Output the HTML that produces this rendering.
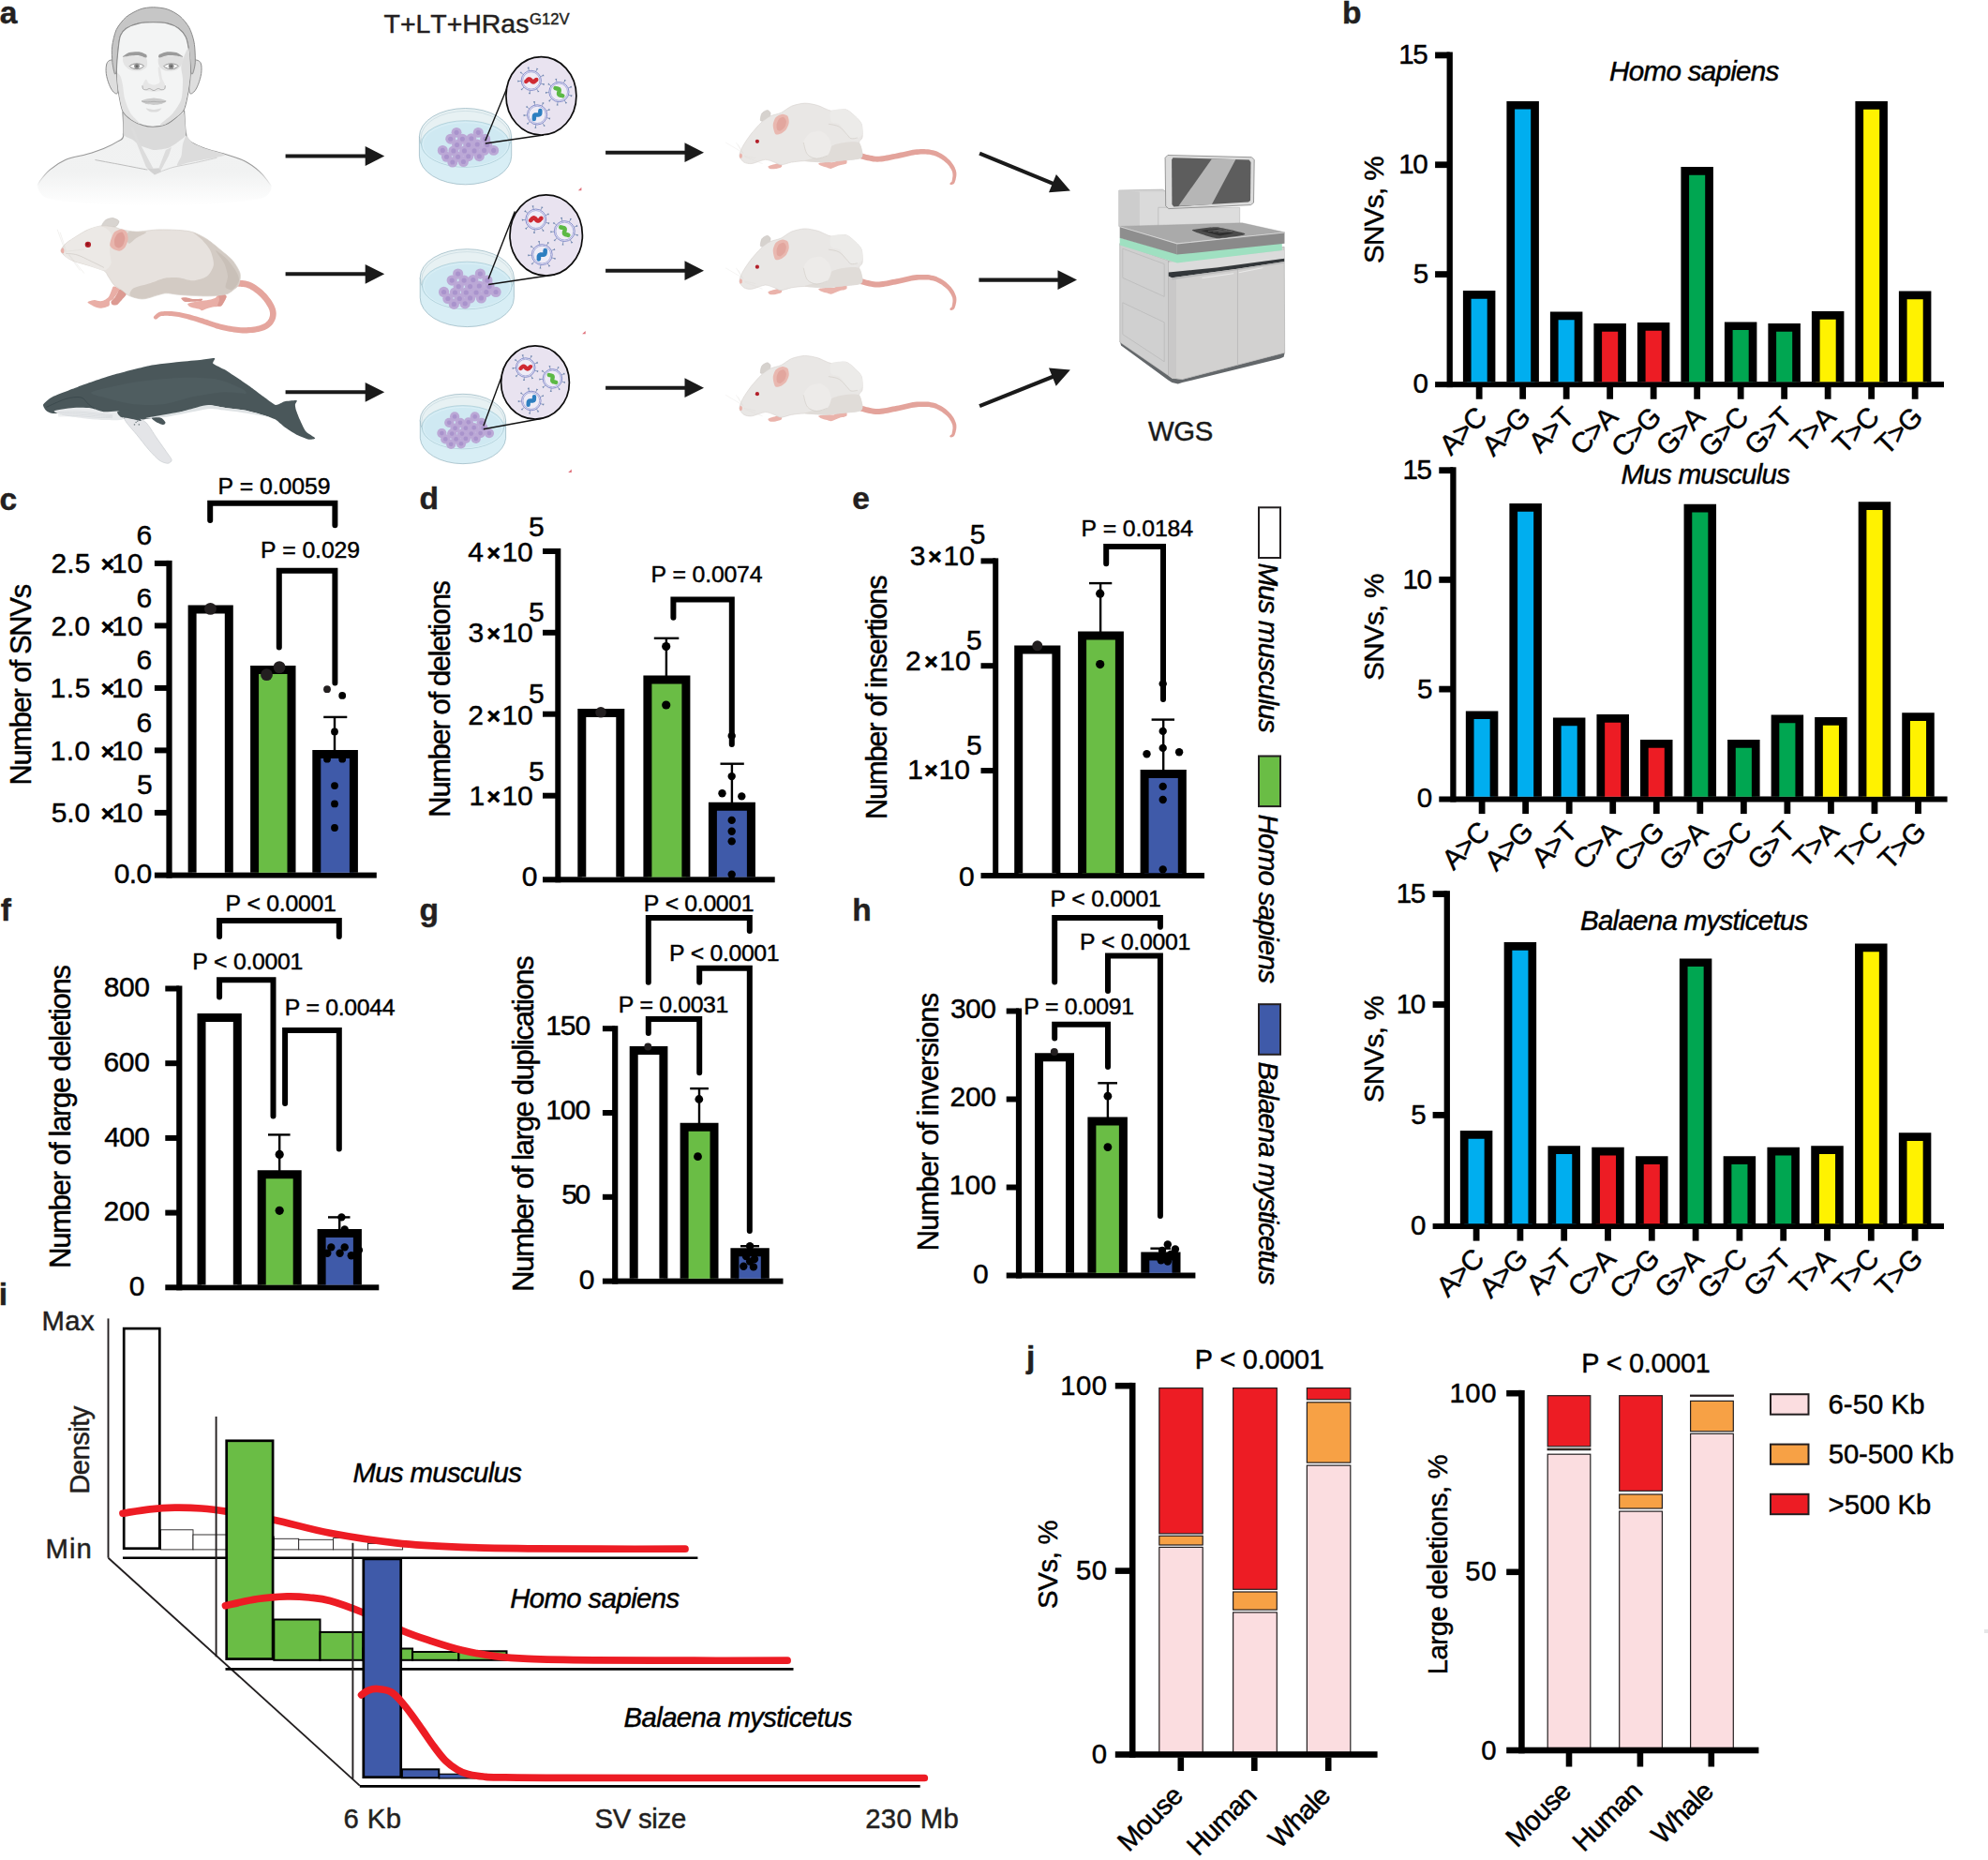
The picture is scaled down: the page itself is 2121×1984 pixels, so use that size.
<!DOCTYPE html>
<html><head><meta charset="utf-8"><title>Figure</title>
<style>
html,body{margin:0;padding:0;background:#fff;}
svg{display:block;}
text{font-family:"Liberation Sans",Arial,sans-serif;white-space:pre;font-kerning:none;}
</style></head><body>
<svg width="2121" height="1984" viewBox="0 0 2121 1984">
<rect width="2121" height="1984" fill="#fff"/>
<text x="-0.28" y="24.70" font-size="33.50" fill="#231f20" stroke="#231f20" stroke-width="0.45" style="font-weight:bold;">a</text>
<text x="409.56" y="35.20" font-size="28.50" fill="#231f20" stroke="#231f20" stroke-width="0.45" style="letter-spacing:-0.044px;">T+LT+HRas</text>
<text x="564.97" y="26.40" font-size="16.60" fill="#231f20" stroke="#231f20" stroke-width="0.45" style="letter-spacing:0.020px;">G12V</text>
<defs><linearGradient id="hb" x1="0" y1="0" x2="0" y2="1"><stop offset="0" stop-color="#f0f1f1"/><stop offset="0.55" stop-color="#f1f2f2"/><stop offset="1" stop-color="#ffffff"/></linearGradient><linearGradient id="hs" x1="0" y1="0" x2="0" y2="1"><stop offset="0" stop-color="#8f8f8f"/><stop offset="0.75" stop-color="#9a9a9a"/><stop offset="1" stop-color="#ffffff"/></linearGradient></defs>
<path d="M132.0 141.8C127.5 142.7 132.2 145.9 131.4 147.1C130.5 148.3 128.4 149.4 125.6 150.9C122.9 152.4 115.0 156.6 110.5 158.4C106.1 160.3 97.9 162.9 92.4 164.5C87.0 166.1 75.0 168.3 69.8 170.5C64.6 172.7 56.8 178.1 53.2 181.1C49.6 184.1 44.4 190.7 42.6 193.1C40.9 195.6 38.9 196.8 39.9 199.2C40.9 201.6 42.8 208.8 50.2 211.3C57.6 213.7 80.2 216.2 95.4 217.3C110.7 218.4 146.8 219.6 164.9 219.6C183.0 219.6 216.0 218.4 231.3 217.3C246.5 216.2 271.7 213.6 279.5 211.3C287.4 208.9 289.0 202.4 289.8 199.9C290.6 197.5 287.4 195.5 285.6 193.1C283.8 190.8 279.7 185.4 276.5 182.6C273.3 179.8 266.3 174.4 261.4 172.0C256.6 169.6 245.9 166.3 240.3 164.5C234.7 162.7 223.8 160.1 219.2 158.4C214.6 156.8 208.2 153.9 205.6 152.4C203.0 150.9 200.5 148.5 199.6 147.1C198.6 145.7 203.1 142.7 198.5 141.8C193.9 140.9 173.7 140.3 164.9 140.3C156.0 140.3 136.4 140.9 132.0 141.8Z" fill="url(#hb)" />
<path d="M130.9 118.5L131.8 144.9L199.0 144.9L196.7 116.9Z" fill="#f0f1f1" />
<path d="M39.9 199.2C40.4 198.2 40.4 196.2 42.6 193.1C44.8 190.1 48.7 184.8 53.2 181.1C57.7 177.3 63.3 173.3 69.8 170.5C76.3 167.7 85.6 166.5 92.4 164.5C99.2 162.5 105.0 160.7 110.5 158.4C116.1 156.2 122.1 153.2 125.6 150.9C129.1 148.6 130.8 150.1 131.7 144.9C132.5 139.6 131.0 123.5 130.9 119.2" fill="none" stroke="url(#hs)" stroke-width="1.10" />
<path d="M289.8 199.9C289.1 198.8 287.8 196.0 285.6 193.1C283.4 190.3 280.6 186.1 276.5 182.6C272.5 179.1 267.5 175.0 261.4 172.0C255.4 169.0 247.4 166.7 240.3 164.5C233.3 162.2 225.0 160.5 219.2 158.4C213.4 156.4 209.0 154.7 205.6 152.4C202.2 150.1 200.3 150.6 198.8 144.9C197.3 139.1 196.9 122.2 196.6 117.7" fill="none" stroke="url(#hs)" stroke-width="1.10" />
<path d="M132.0 122.2C131.3 123.5 131.8 141.9 132.6 144.1C133.3 146.3 139.3 147.7 140.7 148.6C142.2 149.6 147.8 154.5 149.8 155.4C151.8 156.4 162.3 159.8 164.9 160.0C167.4 160.1 177.8 158.4 180.0 157.7C182.1 156.9 189.0 152.0 190.5 150.9C192.0 149.8 197.6 146.6 198.1 144.1C198.5 141.6 197.0 122.2 196.2 120.7C195.5 119.2 190.6 124.9 189.0 126.0C187.4 127.1 179.1 132.7 176.9 133.5C174.8 134.4 165.4 135.7 163.4 135.8C161.3 135.9 154.7 134.9 152.8 134.3C150.9 133.7 142.5 130.0 140.7 129.0C139.0 128.0 132.6 121.0 132.0 122.2Z" fill="#dadada" />
<path d="M198.8 144.9C200.0 144.7 203.2 150.8 205.6 152.4C208.0 154.0 215.1 156.9 219.2 158.4C223.2 159.9 240.7 163.8 240.3 165.2C240.0 166.6 220.7 169.5 216.2 170.5C211.6 171.5 204.2 172.8 201.1 173.5C197.9 174.2 189.9 177.4 189.0 176.6C188.1 175.7 192.8 168.6 193.5 166.0C194.2 163.3 194.4 156.4 195.0 153.9C195.7 151.5 197.6 145.0 198.8 144.9Z" fill="#dcdcdc" />
<path d="M139.2 135.8L145.2 150.9L155.8 178.1L164.9 185.9L170.9 183.3L180.0 166.0L183.0 156.9L176.9 160.0L169.4 179.6L163.4 179.6L149.8 153.9L142.2 135.8Z" fill="#dcdcdc" />
<path d="M156.6 179.6L164.9 186.4L172.4 183.3L169.4 179.6L163.4 180.3Z" fill="#d2d2d2" />
<path d="M101.5 170.5C105.5 171.3 118.3 173.7 125.6 175.0C132.9 176.4 140.0 177.8 145.2 178.8C150.5 179.8 155.3 180.7 157.3 181.1" fill="none" stroke="#bdbdbd" stroke-width="1.00" />
<path d="M172.4 182.6C174.7 181.8 180.0 179.6 186.0 178.1C192.0 176.6 201.1 175.2 208.6 173.5C216.2 171.9 227.5 169.1 231.3 168.3" fill="none" stroke="#cfcfcf" stroke-width="1.00" />
<path d="M124.1 66.4C122.7 63.0 119.8 63.9 118.1 64.1C116.4 64.4 114.7 65.5 113.9 67.9C113.1 70.3 112.8 74.7 113.3 78.5C113.7 82.2 115.3 87.3 116.6 90.5C117.9 93.8 119.6 96.7 121.1 98.1C122.6 99.5 124.7 101.1 125.6 98.8C126.5 96.6 126.6 89.9 126.4 84.5C126.1 79.1 125.5 69.8 124.1 66.4Z" fill="#dedede" stroke="#8c8c8c" stroke-width="1.00" />
<path d="M203.3 66.4C204.7 63.0 208.0 63.9 209.8 64.1C211.7 64.4 213.6 65.5 214.4 67.9C215.2 70.3 215.2 74.7 214.7 78.5C214.2 82.2 212.6 87.3 211.3 90.5C210.0 93.8 208.3 96.7 206.8 98.1C205.3 99.5 203.1 101.1 202.3 98.8C201.5 96.6 201.7 89.9 201.8 84.5C202.0 79.1 202.0 69.8 203.3 66.4Z" fill="#dedede" stroke="#8c8c8c" stroke-width="1.00" />
<path d="M119.9 66.4C119.5 62.6 119.0 54.4 119.6 49.8C120.2 45.2 122.1 35.9 124.1 31.7C126.1 27.5 131.3 21.0 134.7 18.1C138.1 15.2 145.9 11.2 149.8 9.8C153.6 8.4 159.5 7.8 163.4 7.8C167.2 7.8 174.6 8.5 178.4 9.8C182.3 11.1 188.9 14.7 192.0 17.4C195.1 20.0 199.8 25.7 201.8 29.4C203.8 33.1 206.2 40.3 207.1 45.3C208.0 50.2 208.5 62.0 208.3 66.4C208.1 70.8 206.3 77.3 205.6 78.5C204.9 79.7 203.9 79.1 203.3 75.4C202.7 71.8 201.8 56.1 201.1 51.3C200.4 46.5 199.5 42.1 198.1 39.2C196.7 36.4 193.1 32.1 190.5 30.2C187.9 28.3 182.1 25.7 178.4 24.9C174.8 24.1 167.4 23.8 163.4 23.8C159.3 23.8 152.1 24.1 148.3 24.9C144.4 25.7 137.3 28.5 134.7 30.2C132.1 31.9 129.8 35.1 128.6 37.7C127.5 40.3 126.9 44.8 126.4 49.8C125.8 54.8 125.0 71.6 124.4 75.4C123.9 79.3 122.9 79.7 122.3 78.5C121.7 77.3 120.3 70.2 119.9 66.4Z" fill="#c6c6c6" stroke="#8c8c8c" stroke-width="1.00" />
<path d="M124.4 75.4C124.5 69.4 125.8 54.8 126.4 49.8C126.9 44.8 127.5 40.3 128.6 37.7C129.8 35.1 132.1 31.9 134.7 30.2C137.3 28.5 144.4 25.7 148.3 24.9C152.1 24.1 159.3 23.8 163.4 23.8C167.4 23.8 174.8 24.1 178.4 24.9C182.1 25.7 187.9 28.3 190.5 30.2C193.1 32.1 196.7 36.4 198.1 39.2C199.5 42.1 200.4 46.5 201.1 51.3C201.8 56.1 203.3 69.4 203.3 75.4C203.3 81.5 202.0 91.1 201.1 96.6C200.2 102.0 198.2 112.5 196.6 116.2C194.9 119.9 191.6 122.3 189.0 124.5C186.4 126.7 180.4 131.4 176.9 132.8C173.5 134.2 166.6 135.1 163.4 135.2C160.1 135.3 155.8 134.6 152.8 133.7C149.8 132.8 143.6 130.3 140.7 128.3C137.8 126.2 132.9 122.9 130.9 118.5C128.9 114.0 126.8 100.8 125.9 95.1C125.1 89.3 124.4 81.5 124.4 75.4Z" fill="#f3f4f4" stroke="#8c8c8c" stroke-width="1.10" />
<path d="M201.1 51.3C202.3 52.1 203.1 69.4 203.0 75.4C203.0 81.5 201.7 91.2 200.8 96.6C199.9 102.0 197.8 112.2 196.2 115.9C194.7 119.6 191.6 121.9 189.0 124.0C186.4 126.2 179.3 131.0 176.9 132.2C174.5 133.4 169.9 134.3 170.9 132.8C171.9 131.3 181.5 124.3 184.5 120.7C187.5 117.1 192.1 110.5 193.5 105.6C194.9 100.8 195.0 89.3 195.0 84.5C195.0 79.7 192.7 73.8 193.5 69.4C194.3 65.0 199.8 50.5 201.1 51.3Z" fill="#dddddd" />
<path d="M125.0 78.5C124.7 80.5 125.6 91.3 126.4 96.6C127.2 101.8 129.0 113.6 130.9 117.7C132.8 121.8 138.2 125.7 140.7 127.7C143.2 129.6 150.0 133.1 149.8 132.2C149.6 131.3 141.4 124.3 139.2 120.7C137.0 117.2 134.3 109.7 133.2 105.6C132.1 101.6 131.5 93.8 130.9 90.5C130.3 87.3 129.4 83.1 128.6 81.5C127.9 79.9 125.3 76.5 125.0 78.5Z" fill="#e2e2e2" />
<path d="M131.7 61.1C133.2 59.9 140.5 59.5 143.7 59.6C147.0 59.7 154.1 60.4 155.8 61.9C157.5 63.4 157.4 69.1 156.6 70.9C155.8 72.7 152.1 74.9 149.8 75.4C147.5 76.0 141.5 75.6 139.2 74.7C136.9 73.8 133.4 70.5 132.4 68.7C131.4 66.8 130.2 62.3 131.7 61.1Z" fill="#e4e4e4" />
<path d="M169.4 61.9C170.9 60.4 178.0 59.7 181.5 59.6C184.9 59.5 193.4 59.8 195.0 61.1C196.7 62.4 194.5 67.6 193.5 69.4C192.5 71.2 189.7 73.9 187.5 74.7C185.3 75.5 179.2 76.0 176.9 75.4C174.6 74.9 171.1 72.7 170.1 70.9C169.1 69.1 167.9 63.4 169.4 61.9Z" fill="#e0e0e0" />
<path d="M130.9 60.7C130.7 60.2 135.4 56.9 137.7 56.1C140.0 55.4 145.8 55.0 148.3 55.2C150.7 55.5 154.8 57.3 155.8 58.1C156.9 58.9 157.1 61.4 156.1 61.6C155.1 61.7 150.5 59.4 148.3 59.2C146.0 58.9 141.5 59.4 139.2 59.6C136.9 59.8 131.1 61.1 130.9 60.7Z" fill="#9b9b9b" />
<path d="M169.7 61.6C168.6 61.4 169.0 58.9 170.1 58.1C171.3 57.3 176.0 55.5 178.4 55.2C180.9 55.0 186.0 55.4 188.3 56.1C190.5 56.9 195.4 60.2 195.3 60.7C195.2 61.1 189.8 59.8 187.5 59.6C185.2 59.4 180.8 58.9 178.4 59.2C176.1 59.4 170.8 61.7 169.7 61.6Z" fill="#9b9b9b" />
<path d="M138.2 70.6C138.2 69.9 141.5 68.5 143.0 68.2C144.4 67.9 147.6 67.9 149.0 68.2C150.4 68.5 153.5 69.6 153.5 70.3C153.5 71.0 150.4 72.9 149.0 73.3C147.6 73.7 144.4 73.7 143.0 73.3C141.5 73.0 138.2 71.3 138.2 70.6Z" fill="#f8f8f8" stroke="#8a8a8a" stroke-width="0.90" />
<circle cx="146.00" cy="70.62" r="2.87" fill="#8e8e8e" />
<circle cx="146.00" cy="70.62" r="1.21" fill="#5f5f5f" />
<path d="M174.8 70.6C174.8 69.9 178.2 68.5 179.6 68.2C181.1 67.9 184.3 67.9 185.7 68.2C187.1 68.5 190.2 69.6 190.2 70.3C190.2 71.0 187.1 72.9 185.7 73.3C184.3 73.7 181.1 73.7 179.6 73.3C178.2 73.0 174.8 71.3 174.8 70.6Z" fill="#f8f8f8" stroke="#8a8a8a" stroke-width="0.90" />
<circle cx="182.67" cy="70.62" r="2.87" fill="#8e8e8e" />
<circle cx="182.67" cy="70.62" r="1.21" fill="#5f5f5f" />
<path d="M155.8 84.5C155.0 84.6 153.1 88.5 152.5 89.8C151.9 91.1 151.0 93.4 151.6 94.3C152.1 95.3 154.9 96.4 156.6 96.9C158.2 97.3 162.1 97.8 164.1 97.8C166.1 97.8 170.0 97.3 171.7 96.9C173.3 96.4 176.1 95.3 176.6 94.3C177.2 93.4 176.3 91.1 175.7 89.8C175.2 88.5 173.3 84.6 172.4 84.5C171.6 84.4 170.5 88.2 169.4 89.0C168.3 89.8 165.5 90.5 164.1 90.5C162.7 90.5 159.9 89.8 158.8 89.0C157.7 88.2 156.7 84.4 155.8 84.5Z" fill="#e6e6e6" />
<path d="M168.6 72.4C168.8 71.2 170.3 70.8 170.9 72.4C171.5 74.0 172.6 82.2 173.2 84.5C173.8 86.8 175.6 89.2 175.4 89.8C175.2 90.4 172.4 90.1 171.7 89.0C170.9 87.9 170.1 83.7 169.7 81.5C169.3 79.3 168.5 73.6 168.6 72.4Z" fill="#e6e6e6" />
<path d="M151.9 91.3C152.0 91.9 152.1 94.3 152.8 95.1C153.5 95.8 155.1 95.8 156.3 95.7C157.4 95.6 158.3 94.3 159.6 94.5C160.9 94.6 162.6 96.6 164.1 96.6C165.6 96.6 167.3 94.6 168.6 94.5C169.9 94.3 170.8 95.6 172.0 95.7C173.1 95.8 174.7 95.8 175.4 95.1C176.2 94.3 176.2 91.9 176.3 91.3" fill="none" stroke="#a2a2a2" stroke-width="0.80" />
<path d="M151.0 107.9C151.0 107.2 154.8 106.1 156.6 105.6C158.3 105.2 162.1 104.4 164.1 104.4C166.1 104.4 169.9 105.2 171.7 105.6C173.4 106.1 177.2 107.2 177.2 107.9C177.2 108.6 173.4 110.5 171.7 111.1C169.9 111.6 166.1 112.0 164.1 112.0C162.1 112.0 158.3 111.6 156.6 111.1C154.8 110.5 151.0 108.6 151.0 107.9Z" fill="#cbcbcb" />
<path d="M151.0 107.9C152.0 108.1 155.1 108.9 157.3 108.9C159.5 109.0 161.8 108.3 164.1 108.3C166.4 108.3 168.7 109.0 170.9 108.9C173.1 108.9 176.2 108.1 177.2 107.9" fill="none" stroke="#a7a7a7" stroke-width="0.80" />
<path d="M155.8 115.4C156.4 115.2 161.9 116.9 164.1 116.9C166.3 116.9 171.8 115.2 172.4 115.4C173.0 115.7 169.7 118.4 168.6 118.9C167.5 119.5 165.3 119.5 164.1 119.5C162.9 119.5 160.7 119.5 159.6 118.9C158.5 118.4 155.2 115.7 155.8 115.4Z" fill="#dcdcdc" />
<path d="M251.6 305.4L252.6 305.5L253.8 305.6L255.1 305.7L256.5 305.7L257.9 305.9L259.4 306.0L260.9 306.2L262.4 306.5L263.7 306.9L265.0 307.4L266.3 308.1L267.7 308.9L269.2 309.8L270.7 310.8L272.2 311.9L273.7 313.0L275.1 314.2L276.5 315.5L277.8 316.7L279.0 317.9L280.1 319.2L281.2 320.5L282.3 322.0L283.4 323.4L284.3 324.9L285.2 326.4L286.0 327.8L286.7 329.2L287.2 330.5L287.6 331.6L287.8 332.7L288.0 333.7L288.0 334.7L288.0 335.7L287.9 336.7L287.7 337.6L287.4 338.5L287.1 339.4L286.7 340.3L286.2 341.0L285.7 341.8L285.2 342.4L284.5 343.1L283.8 343.8L283.0 344.4L282.1 345.0L281.1 345.5L280.0 346.1L278.8 346.6L277.5 347.0L276.0 347.4L274.5 347.8L272.7 348.2L270.9 348.5L269.0 348.7L267.0 348.9L265.0 349.1L263.0 349.2L260.9 349.3L258.9 349.2L256.8 349.2L254.7 349.0L252.6 348.8L250.4 348.5L248.1 348.2L245.9 347.8L243.6 347.4L241.4 347.0L239.1 346.5L236.9 346.0L234.7 345.4L232.5 344.8L230.3 344.2L228.0 343.4L225.8 342.7L223.5 341.9L221.2 341.1L218.9 340.4L216.6 339.6L214.3 338.9L212.0 338.3L209.7 337.6L207.4 336.9L205.0 336.3L202.7 335.6L200.3 335.0L198.0 334.4L195.7 333.9L193.5 333.4L191.3 333.0L189.2 332.7L187.1 332.5L185.0 332.3L183.0 332.1L181.0 332.0L179.1 332.0L177.2 332.0L175.5 332.0L173.9 332.2L172.5 332.3L171.1 332.6L169.8 333.0L168.7 333.6L167.7 334.2L166.9 334.8L166.2 335.4L165.7 336.0L165.3 336.4L165.0 336.7L164.8 336.9L167.2 340.3L167.7 340.0L168.2 339.5L168.7 339.1L169.2 338.7L169.6 338.3L170.2 337.9L170.8 337.6L171.4 337.3L172.2 337.1L173.1 337.0L174.3 336.9L175.7 336.8L177.3 336.8L179.0 336.8L180.7 336.9L182.6 337.1L184.5 337.2L186.5 337.5L188.5 337.7L190.5 338.1L192.5 338.5L194.6 338.9L196.7 339.5L198.9 340.1L201.2 340.7L203.5 341.4L205.8 342.1L208.2 342.8L210.5 343.5L212.7 344.2L215.0 344.9L217.2 345.7L219.4 346.4L221.7 347.2L223.9 348.0L226.2 348.8L228.5 349.6L230.8 350.4L233.1 351.1L235.5 351.7L237.8 352.2L240.1 352.7L242.5 353.2L244.8 353.7L247.2 354.1L249.5 354.5L251.9 354.8L254.2 355.0L256.5 355.2L258.7 355.4L260.9 355.4L263.2 355.4L265.4 355.3L267.6 355.1L269.7 354.9L271.8 354.7L273.9 354.3L275.8 354.0L277.6 353.5L279.4 353.1L281.0 352.5L282.5 351.9L284.0 351.2L285.4 350.5L286.6 349.7L287.8 348.8L289.0 347.8L290.0 346.8L290.9 345.7L291.7 344.6L292.4 343.3L293.1 342.0L293.6 340.7L294.1 339.3L294.4 337.8L294.6 336.3L294.7 334.7L294.6 333.1L294.4 331.5L294.0 329.8L293.5 328.2L292.8 326.5L292.0 324.8L291.0 323.1L290.0 321.3L288.9 319.6L287.7 318.0L286.5 316.4L285.2 314.8L283.9 313.3L282.5 311.9L281.1 310.5L279.5 309.1L277.9 307.8L276.2 306.5L274.5 305.2L272.8 304.1L271.1 303.0L269.4 302.1L267.7 301.2L265.9 300.5L264.0 299.9L262.1 299.6L260.3 299.3L258.5 299.1L256.9 299.0L255.4 298.9L254.1 298.8L253.1 298.8L252.4 298.7Z" fill="#e5a59d" />
<circle cx="166.00" cy="338.56" r="2.10" fill="#e5a59d" />
<path d="M108.7 241.7C107.9 240.7 110.9 236.1 112.4 234.9C113.9 233.7 118.1 232.5 120.0 232.6C121.9 232.7 126.2 234.5 126.8 235.7C127.4 236.8 125.6 240.0 124.5 240.9C123.4 241.8 120.6 242.3 118.5 242.4C116.4 242.5 109.5 242.7 108.7 241.7Z" fill="#d8d4d0" stroke="#c5c0bb" stroke-width="0.60" />
<path d="M193.2 318.1C193.3 317.5 195.9 317.1 197.8 317.2C199.6 317.3 204.4 318.8 206.8 319.0C209.2 319.2 214.9 318.5 215.9 318.8C216.8 319.1 215.5 320.9 214.1 321.2C212.6 321.6 207.3 321.6 205.0 321.7C202.7 321.8 198.4 322.2 196.8 321.7C195.3 321.2 193.1 318.7 193.2 318.1Z" fill="#dc9a92" />
<path d="M234.0 311.7C235.2 311.3 238.4 313.1 239.4 313.7C240.4 314.4 241.9 315.3 241.7 316.7C241.4 318.1 238.5 323.1 237.6 324.4C236.8 325.7 236.6 326.3 235.3 326.7C234.1 327.1 230.4 327.0 228.6 327.3C226.7 327.6 223.1 328.4 221.3 328.9C219.6 329.5 216.5 331.1 215.4 331.2C214.3 331.3 214.3 330.2 213.2 329.9C212.0 329.5 208.3 328.9 206.8 328.5C205.3 328.1 202.7 327.3 201.8 326.7C201.0 326.1 199.6 324.6 200.3 324.0C201.0 323.4 204.7 322.6 206.8 322.2C208.9 321.7 213.5 321.2 215.9 320.8C218.3 320.4 223.0 319.9 224.9 319.4C226.9 319.0 229.2 318.2 230.4 317.2C231.6 316.1 232.8 312.2 234.0 311.7Z" fill="#e9aea6" />
<path d="M234.0 312.2C234.8 312.0 238.4 313.4 239.4 314.0C240.4 314.6 241.7 315.3 241.4 316.7C241.2 318.1 238.5 323.1 237.6 324.4C236.8 325.7 235.8 326.2 235.1 326.4C234.3 326.6 232.3 326.6 232.2 325.8C232.0 324.9 233.9 321.3 234.0 319.9C234.1 318.5 233.1 316.4 233.1 315.4C233.1 314.3 233.1 312.4 234.0 312.2Z" fill="#dc9a92" />
<path d="M127.1 308.6C127.9 308.2 130.6 309.2 131.6 309.9C132.7 310.6 134.9 312.5 134.8 313.7C134.7 314.9 131.7 317.8 130.7 319.0C129.8 320.2 128.3 321.8 127.6 322.6C126.8 323.5 125.9 325.0 124.8 325.3C123.8 325.6 120.7 325.4 119.9 324.9C119.0 324.4 118.1 322.7 118.5 321.7C118.9 320.7 121.7 318.4 122.6 317.2C123.5 316.0 124.7 313.8 125.3 312.6C125.9 311.5 126.3 308.9 127.1 308.6Z" fill="#dc9a92" />
<path d="M121.2 305.4C122.3 305.2 126.6 307.1 127.1 308.1C127.6 309.1 126.1 311.2 125.3 312.6C124.4 314.1 121.8 317.8 120.8 319.0C119.7 320.1 117.7 320.3 117.1 321.2C116.5 322.2 117.6 325.2 116.2 326.2C114.9 327.2 109.4 328.7 107.2 328.7C104.9 328.7 101.3 327.2 99.5 326.4C97.7 325.6 94.1 323.5 93.6 322.8C93.0 322.1 94.4 321.6 95.4 321.2C96.4 320.9 99.3 319.9 100.8 319.9C102.4 319.9 105.6 321.3 107.2 321.2C108.7 321.2 111.4 320.1 112.6 319.4C113.8 318.8 115.4 317.5 116.2 316.3C117.1 315.0 118.3 311.4 118.9 309.9C119.6 308.5 120.1 305.6 121.2 305.4Z" fill="#e9aea6" />
<path d="M64.9 267.0C65.1 265.3 68.5 261.5 70.2 259.8C71.9 258.1 74.7 256.4 77.7 254.5C80.7 252.6 88.8 247.3 92.8 245.5C96.8 243.7 104.1 241.4 107.9 240.9C111.7 240.5 118.5 241.4 121.5 242.0C124.5 242.5 127.3 244.3 130.5 245.0C133.8 245.7 140.6 247.1 145.6 247.1C150.7 247.1 162.2 245.2 168.3 245.0C174.3 244.8 185.9 245.1 190.9 245.5C195.9 245.8 202.0 246.4 206.0 247.7C210.0 249.0 217.1 252.7 221.1 255.3C225.1 257.9 232.5 264.3 236.2 267.3C239.8 270.4 245.6 274.7 248.2 277.9C250.9 281.1 255.2 288.1 256.1 291.5C257.0 294.9 255.9 301.1 254.9 303.6C253.8 306.0 250.1 308.5 248.2 309.9C246.3 311.3 244.3 313.3 240.7 314.1C237.1 314.9 227.7 315.9 221.1 315.9C214.4 316.0 196.9 314.8 190.9 314.4C184.9 314.0 180.8 312.3 175.8 312.9C170.8 313.5 158.2 318.6 153.2 318.9C148.1 319.3 141.1 316.8 138.1 315.6C135.1 314.4 132.8 311.5 130.5 309.9C128.3 308.3 123.5 305.9 121.5 303.9C119.5 301.8 116.9 296.8 115.4 294.8C114.0 292.8 113.9 290.4 110.9 288.8C107.9 287.2 97.2 284.1 92.8 282.7C88.4 281.3 80.9 279.6 77.7 278.2C74.5 276.9 70.4 274.1 68.7 272.6C67.0 271.1 64.7 268.7 64.9 267.0Z" fill="#e7e2de" stroke="#d2cbc4" stroke-width="0.60" />
<path d="M206.0 248.0C206.8 248.1 217.1 253.0 221.1 255.6C225.1 258.2 232.5 264.6 236.2 267.6C239.8 270.7 245.6 275.0 248.2 278.2C250.9 281.4 254.9 288.1 255.8 291.5C256.6 294.9 255.6 301.1 254.6 303.6C253.6 306.0 250.1 308.2 248.2 309.6C246.4 311.0 244.3 313.0 240.7 313.8C237.1 314.6 227.7 315.6 221.1 315.6C214.4 315.7 196.9 314.5 190.9 314.1C184.9 313.7 180.8 312.0 175.8 312.6C170.8 313.2 158.1 318.3 153.2 318.6C148.2 319.0 140.2 316.8 138.8 315.3C137.4 313.8 139.7 309.1 142.6 307.3C145.5 305.6 156.3 303.5 160.7 302.0C165.1 300.6 171.8 297.5 175.8 296.8C179.8 296.0 186.9 296.0 190.9 296.3C194.9 296.7 202.0 299.6 206.0 299.3C210.0 299.1 218.2 296.8 221.1 294.5C224.0 292.2 227.4 286.1 227.9 282.4C228.3 278.8 226.1 271.0 224.4 267.3C222.7 263.7 217.5 257.8 215.0 255.3C212.6 252.7 205.2 248.0 206.0 248.0Z" fill="#d3cbc4" />
<path d="M230.1 267.3C230.5 266.7 239.4 273.6 242.2 276.4C245.0 279.2 249.5 285.4 251.3 288.5C253.0 291.5 255.4 296.3 255.0 299.0C254.6 301.7 250.2 307.8 248.2 308.8C246.3 309.8 241.4 308.5 240.7 306.6C240.0 304.7 243.2 297.9 243.0 294.5C242.8 291.1 240.9 284.5 239.2 280.9C237.5 277.3 229.7 267.9 230.1 267.3Z" fill="#c9c0b8" />
<path d="M136.6 247.7C138.0 246.7 143.0 247.3 145.6 247.3C148.2 247.3 156.2 246.9 156.2 247.7C156.2 248.6 148.0 252.2 145.6 253.8C143.2 255.4 139.5 259.6 138.1 259.8C136.7 260.0 135.3 256.9 135.1 255.3C134.9 253.7 135.2 248.8 136.6 247.7Z" fill="#d3cbc4" />
<path d="M70.2 260.1C73.4 256.6 87.8 248.4 92.8 245.9C97.8 243.4 104.5 240.9 107.9 241.4C111.3 241.8 117.3 245.8 118.5 249.2C119.7 252.7 117.0 263.1 117.0 267.3C117.0 271.6 119.3 278.1 118.5 280.9C117.7 283.7 114.3 288.3 110.9 288.5C107.5 288.7 97.2 283.8 92.8 282.4C88.4 281.0 80.9 279.3 77.7 277.9C74.5 276.5 69.7 274.5 68.7 272.2C67.7 269.8 67.0 263.6 70.2 260.1Z" fill="#ece9e6" />
<path d="M70.2 270.4C72.2 270.6 77.7 270.5 82.3 271.9C86.8 273.3 92.6 276.4 97.3 278.7C102.1 280.9 108.7 284.3 110.9 285.4" fill="none" stroke="#c9c4bf" stroke-width="0.60" />
<line x1="70.18" y1="269.60" x2="61.13" y2="244.71" stroke="#d9d5d2" stroke-width="0.35" stroke-linecap="butt"/>
<line x1="70.93" y1="268.85" x2="64.14" y2="247.72" stroke="#d9d5d2" stroke-width="0.35" stroke-linecap="butt"/>
<line x1="72.44" y1="270.36" x2="85.27" y2="288.47" stroke="#d9d5d2" stroke-width="0.35" stroke-linecap="butt"/>
<line x1="73.95" y1="271.87" x2="89.80" y2="291.48" stroke="#d9d5d2" stroke-width="0.35" stroke-linecap="butt"/>
<line x1="71.69" y1="268.10" x2="89.80" y2="265.83" stroke="#d9d5d2" stroke-width="0.35" stroke-linecap="butt"/>
<path d="M118.5 255.3C119.1 253.3 120.7 248.9 122.2 247.4C123.7 246.0 128.1 244.4 129.8 244.4C131.5 244.4 134.2 246.0 135.1 247.4C136.0 248.9 136.8 253.1 136.6 255.3C136.4 257.4 134.7 261.9 133.6 263.6C132.5 265.2 129.9 267.3 128.3 267.6C126.7 268.0 123.0 266.9 121.5 266.1C120.0 265.4 117.7 263.5 117.3 262.1C116.9 260.6 117.8 257.2 118.5 255.3Z" fill="#e8b5ad" />
<path d="M122.2 255.3C122.6 253.6 124.2 250.5 125.3 249.5C126.4 248.5 129.5 247.2 130.5 247.7C131.6 248.3 133.2 251.9 133.3 253.8C133.4 255.6 132.2 259.9 131.3 261.3C130.4 262.8 127.9 264.5 126.8 264.6C125.6 264.7 123.3 263.3 122.7 262.1C122.1 260.8 121.9 256.9 122.2 255.3Z" fill="#de9f98" />
<circle cx="93.87" cy="260.85" r="3.17" fill="#b3202a" />
<circle cx="93.47" cy="260.45" r="1.36" fill="#8e1219" />
<path d="M64.9 267.0C65.1 266.3 66.4 264.4 66.9 264.3C67.3 264.3 68.2 265.8 68.4 266.6C68.5 267.4 68.3 269.7 67.9 270.1C67.6 270.5 66.1 270.0 65.7 269.6C65.3 269.2 64.7 267.7 64.9 267.0Z" fill="#e9aea6" />
<path d="M46.1 431.5C46.7 430.0 52.1 425.3 55.8 423.4C59.5 421.6 76.8 414.9 83.1 412.7C89.4 410.4 111.0 402.8 118.5 400.6C126.1 398.3 151.5 391.7 158.8 390.3C166.0 388.8 185.3 386.7 191.0 386.1C196.6 385.5 211.3 384.2 215.1 383.8C218.9 383.4 227.7 381.7 229.0 382.1C230.2 382.5 226.3 386.5 227.3 387.7C228.4 388.9 236.5 392.5 239.3 394.1C242.1 395.8 252.5 402.7 255.4 404.6C258.2 406.5 265.7 411.6 268.2 413.5C270.8 415.3 278.5 421.3 281.1 423.1C283.7 425.0 291.7 431.5 294.0 432.0C296.2 432.5 301.4 428.8 303.6 428.3C305.9 427.8 315.4 426.8 316.5 427.1C317.6 427.5 315.0 430.4 314.9 431.5C314.8 432.5 315.4 436.0 315.9 437.6C316.4 439.2 318.7 445.0 319.7 447.3C320.8 449.5 324.5 458.1 326.2 460.1C327.8 462.2 335.8 466.5 336.2 467.4C336.5 468.2 331.4 469.0 329.4 468.7C327.4 468.3 319.1 465.0 316.5 463.7C313.9 462.4 305.9 457.2 303.6 455.6C301.4 454.0 296.2 448.9 294.0 447.6C291.7 446.3 284.2 443.7 281.1 442.8C278.0 441.8 267.6 438.7 263.4 437.9C259.2 437.1 243.3 435.3 239.3 434.7C235.2 434.2 226.4 432.3 223.2 432.5C219.9 432.6 211.9 435.2 207.1 436.3C202.2 437.4 180.5 442.6 174.9 443.7C169.2 444.8 155.6 447.4 150.7 447.6C145.9 447.8 131.4 446.6 126.6 446.0C121.8 445.3 107.3 441.8 102.4 441.1C97.6 440.5 82.8 439.5 78.3 439.5C73.8 439.5 60.3 441.3 57.4 441.1C54.5 441.0 50.4 438.9 49.3 437.9C48.2 437.0 45.5 432.9 46.1 431.5Z" fill="#4a575a" />
<path d="M97.6 418.3C101.5 416.0 130.2 409.9 142.7 407.8C155.1 405.8 179.2 403.4 191.0 403.0C202.8 402.6 222.2 403.0 231.2 404.6C240.2 406.2 254.5 413.0 258.6 415.1C262.6 417.1 264.4 419.5 261.8 419.9C259.2 420.3 246.6 417.9 239.3 418.3C232.0 418.7 215.6 421.4 207.1 423.1C198.5 424.8 183.5 430.1 174.9 431.2C166.3 432.2 150.8 432.0 142.7 431.2C134.5 430.3 119.7 426.4 113.7 424.7C107.7 423.0 93.7 420.5 97.6 418.3Z" fill="#4f5d60" />
<path d="M57.7 438.4C58.8 437.3 73.0 435.4 78.3 435.0C83.6 434.6 93.3 434.8 97.6 435.4C101.9 435.9 106.6 438.8 110.5 439.2C114.3 439.6 123.6 438.0 126.6 438.6C129.6 439.1 132.6 442.0 133.0 443.2C133.4 444.5 132.8 447.1 129.8 447.7C126.8 448.4 115.6 448.2 110.5 448.1C105.3 447.9 96.5 447.1 91.2 446.5C85.8 445.9 74.7 444.6 70.2 443.6C65.8 442.5 56.6 439.5 57.7 438.4Z" fill="#e8eaec" />
<path d="M155.6 446.0C157.7 445.2 183.7 441.1 191.0 439.5C198.3 438.0 206.0 435.4 210.3 434.4C214.6 433.4 219.3 431.9 223.2 432.0C227.0 432.0 233.9 433.9 239.3 434.7C244.6 435.5 257.0 436.9 263.4 438.2C269.8 439.6 287.5 444.5 287.5 444.8C287.5 445.2 269.8 441.8 263.4 440.8C257.0 439.9 244.4 438.2 239.3 437.6C234.1 437.0 229.1 435.8 224.8 436.0C220.5 436.2 213.7 437.7 207.1 438.9C200.4 440.1 181.7 444.1 174.9 445.0C168.0 446.0 153.4 446.7 155.6 446.0Z" fill="#dfe3e5" />
<path d="M62.2 439.5C65.7 439.4 76.4 438.7 83.1 438.9C89.8 439.1 96.3 440.2 102.4 440.8C108.6 441.5 117.2 442.4 120.1 442.8" fill="none" stroke="#cfd3d6" stroke-width="0.50" />
<path d="M62.2 441.0C65.7 440.9 76.4 440.3 83.1 440.5C89.8 440.7 96.3 441.7 102.4 442.3C108.6 442.8 117.2 443.5 120.1 443.7" fill="none" stroke="#cfd3d6" stroke-width="0.50" />
<path d="M62.2 442.4C65.7 442.4 76.4 441.9 83.1 442.1C89.8 442.3 96.3 443.3 102.4 443.7C108.6 444.2 117.2 444.5 120.1 444.7" fill="none" stroke="#cfd3d6" stroke-width="0.50" />
<path d="M62.2 443.9C65.7 443.9 76.4 443.5 83.1 443.7C89.8 443.9 96.3 444.8 102.4 445.2C108.6 445.5 117.2 445.6 120.1 445.7" fill="none" stroke="#cfd3d6" stroke-width="0.50" />
<path d="M133.0 445.7C134.0 444.8 139.7 444.2 142.7 444.8C145.7 445.5 152.3 447.6 155.6 450.5C158.8 453.4 163.8 462.3 166.8 466.6C169.8 470.9 175.9 479.5 178.1 482.7C180.3 485.9 183.1 489.2 183.2 490.7C183.3 492.3 180.7 494.2 178.9 494.3C177.1 494.3 172.7 493.0 170.0 491.0C167.4 489.1 162.0 483.4 158.8 479.8C155.6 476.1 149.0 467.5 145.9 463.7C142.8 459.9 137.1 453.7 135.4 451.3C133.7 448.9 132.1 446.5 133.0 445.7Z" fill="#e4e5e8" stroke="#c3c7cb" stroke-width="0.60" />
<path d="M125.3 439.2C126.3 438.1 133.5 436.4 136.2 436.8C139.0 437.2 144.0 440.8 145.9 442.4C147.8 444.0 151.2 448.2 150.7 448.9C150.3 449.5 144.8 447.7 142.7 447.3C140.5 446.8 136.5 446.0 134.6 445.7C132.8 445.3 130.2 445.7 129.0 444.8C127.7 444.0 124.3 440.3 125.3 439.2Z" fill="#4a575a" />
<circle cx="145.09" cy="450.48" r="0.80" fill="#7b868a" />
<circle cx="148.31" cy="452.90" r="0.80" fill="#7b868a" />
<circle cx="143.48" cy="452.90" r="0.80" fill="#7b868a" />
<circle cx="146.70" cy="449.20" r="0.80" fill="#7b868a" />
<path d="M162.0 446.0C162.6 445.4 169.7 445.1 171.6 445.7C173.6 446.3 176.2 449.5 176.5 450.5C176.8 451.5 175.4 453.1 174.1 453.1C172.8 453.0 168.4 451.1 166.8 450.2C165.2 449.2 161.3 446.6 162.0 446.0Z" fill="#4a575a" />
<path d="M49.3 434.4C52.8 432.9 64.1 427.3 70.2 425.5C76.4 423.8 82.3 423.0 86.3 423.9C90.4 424.9 92.0 429.2 94.4 431.2C96.8 433.2 99.8 435.2 100.8 436.0" fill="none" stroke="#39464a" stroke-width="0.80" />
<line x1="304.60" y1="166.50" x2="391.70" y2="166.50" stroke="#1a1a1a" stroke-width="4.10" stroke-linecap="butt"/>
<path d="M410.2 166.5L389.7 176.9L389.7 156.1Z" fill="#1a1a1a" />
<line x1="304.60" y1="292.30" x2="391.70" y2="292.30" stroke="#1a1a1a" stroke-width="4.10" stroke-linecap="butt"/>
<path d="M410.2 292.3L389.7 302.7L389.7 281.9Z" fill="#1a1a1a" />
<line x1="304.60" y1="418.30" x2="391.70" y2="418.30" stroke="#1a1a1a" stroke-width="4.10" stroke-linecap="butt"/>
<path d="M410.2 418.3L389.7 428.7L389.7 407.9Z" fill="#1a1a1a" />
<line x1="646.10" y1="162.70" x2="732.50" y2="162.70" stroke="#1a1a1a" stroke-width="4.10" stroke-linecap="butt"/>
<path d="M751.0 162.7L730.5 173.1L730.5 152.3Z" fill="#1a1a1a" />
<line x1="646.10" y1="288.70" x2="732.50" y2="288.70" stroke="#1a1a1a" stroke-width="4.10" stroke-linecap="butt"/>
<path d="M751.0 288.7L730.5 299.1L730.5 278.3Z" fill="#1a1a1a" />
<line x1="646.10" y1="413.70" x2="732.50" y2="413.70" stroke="#1a1a1a" stroke-width="4.10" stroke-linecap="butt"/>
<path d="M751.0 413.7L730.5 424.1L730.5 403.3Z" fill="#1a1a1a" />
<line x1="1045.10" y1="163.70" x2="1124.79" y2="196.47" stroke="#1a1a1a" stroke-width="4.10" stroke-linecap="butt"/>
<path d="M1141.9 203.5L1119.0 205.3L1126.9 186.1Z" fill="#1a1a1a" />
<line x1="1044.40" y1="298.60" x2="1130.50" y2="298.60" stroke="#1a1a1a" stroke-width="4.10" stroke-linecap="butt"/>
<path d="M1149.0 298.6L1128.5 309.0L1128.5 288.2Z" fill="#1a1a1a" />
<line x1="1045.10" y1="433.10" x2="1124.72" y2="401.27" stroke="#1a1a1a" stroke-width="4.10" stroke-linecap="butt"/>
<path d="M1141.9 394.4L1126.7 411.7L1119.0 392.4Z" fill="#1a1a1a" />
<path d="M447.4 145.6 L447.4 166.2 A49.1 30.6 0 0 0 545.7 166.2 L545.7 145.6 Z" fill="#d8eef5" stroke="#93b3be" stroke-width="0.7"/>
<ellipse cx="496.5" cy="145.6" rx="49.1" ry="30.1" fill="#e7f1f3" stroke="#93b3be" stroke-width="0.70"/>
<ellipse cx="496.5" cy="146.7" rx="47.3" ry="28.3" fill="none" stroke="#b9cfd6" stroke-width="0.50"/>
<ellipse cx="496.5" cy="153.5" rx="47.0" ry="24.8" fill="#cfe9f2" stroke="#a6c8d3" stroke-width="0.70"/>
<ellipse cx="496.5" cy="154.0" rx="45.4" ry="23.4" fill="none" stroke="#e3f3f8" stroke-width="0.60"/>
<circle cx="487.04" cy="141.37" r="5.49" fill="#bba8d6" />
<circle cx="510.28" cy="141.37" r="5.49" fill="#bba8d6" />
<circle cx="480.70" cy="148.24" r="5.49" fill="#bba8d6" />
<circle cx="493.38" cy="148.24" r="5.49" fill="#bba8d6" />
<circle cx="502.88" cy="147.71" r="5.49" fill="#bba8d6" />
<circle cx="517.67" cy="148.24" r="5.49" fill="#bba8d6" />
<circle cx="487.57" cy="154.57" r="5.49" fill="#bba8d6" />
<circle cx="499.72" cy="154.57" r="5.49" fill="#bba8d6" />
<circle cx="509.22" cy="154.05" r="5.49" fill="#bba8d6" />
<circle cx="519.79" cy="154.57" r="5.49" fill="#bba8d6" />
<circle cx="472.25" cy="160.38" r="5.49" fill="#bba8d6" />
<circle cx="483.87" cy="160.91" r="5.49" fill="#bba8d6" />
<circle cx="495.49" cy="160.91" r="5.49" fill="#bba8d6" />
<circle cx="506.05" cy="160.91" r="5.49" fill="#bba8d6" />
<circle cx="516.62" cy="160.38" r="5.49" fill="#bba8d6" />
<circle cx="526.65" cy="160.38" r="5.49" fill="#bba8d6" />
<circle cx="476.48" cy="167.25" r="5.49" fill="#bba8d6" />
<circle cx="488.62" cy="167.25" r="5.49" fill="#bba8d6" />
<circle cx="499.72" cy="166.72" r="5.49" fill="#bba8d6" />
<circle cx="511.34" cy="166.72" r="5.49" fill="#bba8d6" />
<circle cx="482.82" cy="173.06" r="5.49" fill="#bba8d6" />
<circle cx="494.43" cy="172.53" r="5.49" fill="#bba8d6" />
<circle cx="487.04" cy="141.37" r="2.54" fill="#a993cc" />
<circle cx="510.28" cy="141.37" r="2.54" fill="#a993cc" />
<circle cx="480.70" cy="148.24" r="2.54" fill="#a993cc" />
<circle cx="493.38" cy="148.24" r="2.54" fill="#a993cc" />
<circle cx="502.88" cy="147.71" r="2.54" fill="#a993cc" />
<circle cx="517.67" cy="148.24" r="2.54" fill="#a993cc" />
<circle cx="487.57" cy="154.57" r="2.54" fill="#a993cc" />
<circle cx="499.72" cy="154.57" r="2.54" fill="#a993cc" />
<circle cx="509.22" cy="154.05" r="2.54" fill="#a993cc" />
<circle cx="519.79" cy="154.57" r="2.54" fill="#a993cc" />
<circle cx="472.25" cy="160.38" r="2.54" fill="#a993cc" />
<circle cx="483.87" cy="160.91" r="2.54" fill="#a993cc" />
<circle cx="495.49" cy="160.91" r="2.54" fill="#a993cc" />
<circle cx="506.05" cy="160.91" r="2.54" fill="#a993cc" />
<circle cx="516.62" cy="160.38" r="2.54" fill="#a993cc" />
<circle cx="526.65" cy="160.38" r="2.54" fill="#a993cc" />
<circle cx="476.48" cy="167.25" r="2.54" fill="#a993cc" />
<circle cx="488.62" cy="167.25" r="2.54" fill="#a993cc" />
<circle cx="499.72" cy="166.72" r="2.54" fill="#a993cc" />
<circle cx="511.34" cy="166.72" r="2.54" fill="#a993cc" />
<circle cx="482.82" cy="173.06" r="2.54" fill="#a993cc" />
<circle cx="494.43" cy="172.53" r="2.54" fill="#a993cc" />
<line x1="517.70" y1="150.30" x2="542.00" y2="91.20" stroke="#111" stroke-width="1.40" stroke-linecap="butt"/>
<line x1="517.70" y1="153.00" x2="580.00" y2="144.00" stroke="#111" stroke-width="1.40" stroke-linecap="butt"/>
<ellipse cx="577.4" cy="102.3" rx="37.5" ry="41.7" fill="#e9e3f0" stroke="#0d0d0d" stroke-width="1.7"/>
<line x1="576.93" y1="89.03" x2="580.57" y2="90.16" stroke="#6f86ae" stroke-width="0.70" stroke-linecap="butt"/>
<path d="M580.2 91.2L580.9 89.1L578.7 89.6Z" fill="#6f86ae" />
<line x1="572.54" y1="94.81" x2="574.61" y2="98.02" stroke="#6f86ae" stroke-width="0.70" stroke-linecap="butt"/>
<path d="M573.7 98.6L575.5 97.4L573.6 96.4Z" fill="#6f86ae" />
<line x1="565.47" y1="96.42" x2="565.00" y2="100.20" stroke="#6f86ae" stroke-width="0.70" stroke-linecap="butt"/>
<path d="M563.9 100.1L566.1 100.3L565.2 98.3Z" fill="#6f86ae" />
<line x1="559.02" y1="93.10" x2="556.22" y2="95.70" stroke="#6f86ae" stroke-width="0.70" stroke-linecap="butt"/>
<path d="M555.5 94.9L557.0 96.5L557.6 94.4Z" fill="#6f86ae" />
<line x1="556.21" y1="86.42" x2="552.40" y2="86.61" stroke="#6f86ae" stroke-width="0.70" stroke-linecap="butt"/>
<path d="M552.3 85.5L552.5 87.7L554.3 86.5Z" fill="#6f86ae" />
<line x1="558.36" y1="79.49" x2="555.32" y2="77.19" stroke="#6f86ae" stroke-width="0.70" stroke-linecap="butt"/>
<path d="M556.0 76.3L554.7 78.1L556.8 78.3Z" fill="#6f86ae" />
<line x1="564.45" y1="75.56" x2="563.60" y2="71.84" stroke="#6f86ae" stroke-width="0.70" stroke-linecap="butt"/>
<path d="M564.7 71.6L562.5 72.1L564.0 73.7Z" fill="#6f86ae" />
<line x1="571.64" y1="76.47" x2="573.39" y2="73.08" stroke="#6f86ae" stroke-width="0.70" stroke-linecap="butt"/>
<path d="M574.4 73.6L572.4 72.6L572.5 74.8Z" fill="#6f86ae" />
<line x1="576.57" y1="81.79" x2="580.09" y2="80.31" stroke="#6f86ae" stroke-width="0.70" stroke-linecap="butt"/>
<path d="M580.5 81.3L579.7 79.3L578.3 81.1Z" fill="#6f86ae" />
<circle cx="566.80" cy="85.90" r="10.60" fill="#ece8f4" stroke="#6d79c2" stroke-width="0.8"/>
<circle cx="566.80" cy="85.90" r="9.12" fill="#efecf6" stroke="#7d88cb" stroke-width="0.6"/>
<path d="M561.3 86.9C561.4 86.9 561.7 86.6 561.8 86.5C562.0 86.3 562.2 86.1 562.4 85.9C562.6 85.7 562.8 85.5 562.9 85.3C563.1 85.2 563.3 85.0 563.5 84.9C563.7 84.7 563.9 84.6 564.0 84.5C564.2 84.5 564.4 84.4 564.6 84.4C564.8 84.4 565.0 84.5 565.1 84.5C565.3 84.6 565.5 84.7 565.7 84.9C565.9 85.0 566.1 85.2 566.2 85.3C566.4 85.5 566.6 85.7 566.8 85.9C567.0 86.1 567.2 86.3 567.4 86.5C567.5 86.6 567.7 86.8 567.9 86.9C568.1 87.1 568.3 87.2 568.5 87.3C568.6 87.3 568.8 87.4 569.0 87.4C569.2 87.4 569.4 87.3 569.6 87.3C569.7 87.2 569.9 87.1 570.1 86.9C570.3 86.8 570.5 86.6 570.7 86.5C570.8 86.3 571.0 86.1 571.2 85.9C571.4 85.7 571.6 85.5 571.8 85.3C571.9 85.2 572.2 84.9 572.3 84.9" fill="none" stroke="#cf2a33" stroke-width="4.45" stroke-linecap="round"/>
<line x1="606.53" y1="101.23" x2="610.17" y2="102.36" stroke="#6f86ae" stroke-width="0.70" stroke-linecap="butt"/>
<path d="M609.8 103.4L610.5 101.3L608.3 101.8Z" fill="#6f86ae" />
<line x1="602.14" y1="107.01" x2="604.21" y2="110.22" stroke="#6f86ae" stroke-width="0.70" stroke-linecap="butt"/>
<path d="M603.3 110.8L605.1 109.6L603.2 108.6Z" fill="#6f86ae" />
<line x1="595.07" y1="108.62" x2="594.60" y2="112.40" stroke="#6f86ae" stroke-width="0.70" stroke-linecap="butt"/>
<path d="M593.5 112.3L595.7 112.5L594.8 110.5Z" fill="#6f86ae" />
<line x1="588.62" y1="105.30" x2="585.82" y2="107.90" stroke="#6f86ae" stroke-width="0.70" stroke-linecap="butt"/>
<path d="M585.1 107.1L586.6 108.7L587.2 106.6Z" fill="#6f86ae" />
<line x1="585.81" y1="98.62" x2="582.00" y2="98.81" stroke="#6f86ae" stroke-width="0.70" stroke-linecap="butt"/>
<path d="M581.9 97.7L582.1 99.9L583.9 98.7Z" fill="#6f86ae" />
<line x1="587.96" y1="91.69" x2="584.92" y2="89.39" stroke="#6f86ae" stroke-width="0.70" stroke-linecap="butt"/>
<path d="M585.6 88.5L584.3 90.3L586.4 90.5Z" fill="#6f86ae" />
<line x1="594.05" y1="87.76" x2="593.20" y2="84.04" stroke="#6f86ae" stroke-width="0.70" stroke-linecap="butt"/>
<path d="M594.3 83.8L592.1 84.3L593.6 85.9Z" fill="#6f86ae" />
<line x1="601.24" y1="88.67" x2="602.99" y2="85.28" stroke="#6f86ae" stroke-width="0.70" stroke-linecap="butt"/>
<path d="M604.0 85.8L602.0 84.8L602.1 87.0Z" fill="#6f86ae" />
<line x1="606.17" y1="93.99" x2="609.69" y2="92.51" stroke="#6f86ae" stroke-width="0.70" stroke-linecap="butt"/>
<path d="M610.1 93.5L609.3 91.5L607.9 93.3Z" fill="#6f86ae" />
<circle cx="596.40" cy="98.10" r="10.60" fill="#ece8f4" stroke="#6d79c2" stroke-width="0.8"/>
<circle cx="596.40" cy="98.10" r="9.12" fill="#efecf6" stroke="#7d88cb" stroke-width="0.6"/>
<path d="M592.5 94.0C592.7 94.1 593.0 94.2 593.2 94.2C593.5 94.3 593.8 94.3 594.0 94.4C594.3 94.4 594.5 94.5 594.8 94.5C595.0 94.6 595.3 94.7 595.5 94.8C595.7 94.8 595.9 94.9 596.1 95.0C596.2 95.2 596.4 95.3 596.5 95.4C596.6 95.6 596.6 95.8 596.7 96.0C596.7 96.2 596.7 96.4 596.7 96.6C596.7 96.8 596.6 97.1 596.6 97.3C596.5 97.6 596.5 97.8 596.4 98.1C596.3 98.4 596.3 98.6 596.2 98.9C596.2 99.1 596.1 99.4 596.1 99.6C596.1 99.8 596.1 100.0 596.1 100.2C596.2 100.4 596.2 100.6 596.3 100.8C596.4 100.9 596.6 101.0 596.7 101.2C596.9 101.3 597.1 101.4 597.3 101.4C597.5 101.5 597.8 101.6 598.0 101.7C598.3 101.7 598.5 101.8 598.8 101.8C599.0 101.9 599.3 101.9 599.6 102.0C599.8 102.0 600.1 102.1 600.3 102.2" fill="none" stroke="#5cb946" stroke-width="4.45" stroke-linecap="round"/>
<line x1="583.23" y1="125.53" x2="586.87" y2="126.66" stroke="#6f86ae" stroke-width="0.70" stroke-linecap="butt"/>
<path d="M586.5 127.7L587.2 125.6L585.0 126.1Z" fill="#6f86ae" />
<line x1="578.84" y1="131.31" x2="580.91" y2="134.52" stroke="#6f86ae" stroke-width="0.70" stroke-linecap="butt"/>
<path d="M580.0 135.1L581.8 133.9L579.9 132.9Z" fill="#6f86ae" />
<line x1="571.77" y1="132.92" x2="571.30" y2="136.70" stroke="#6f86ae" stroke-width="0.70" stroke-linecap="butt"/>
<path d="M570.2 136.6L572.4 136.8L571.5 134.8Z" fill="#6f86ae" />
<line x1="565.32" y1="129.60" x2="562.52" y2="132.20" stroke="#6f86ae" stroke-width="0.70" stroke-linecap="butt"/>
<path d="M561.8 131.4L563.3 133.0L563.9 130.9Z" fill="#6f86ae" />
<line x1="562.51" y1="122.92" x2="558.70" y2="123.11" stroke="#6f86ae" stroke-width="0.70" stroke-linecap="butt"/>
<path d="M558.6 122.0L558.8 124.2L560.6 123.0Z" fill="#6f86ae" />
<line x1="564.66" y1="115.99" x2="561.62" y2="113.69" stroke="#6f86ae" stroke-width="0.70" stroke-linecap="butt"/>
<path d="M562.3 112.8L561.0 114.6L563.1 114.8Z" fill="#6f86ae" />
<line x1="570.75" y1="112.06" x2="569.90" y2="108.34" stroke="#6f86ae" stroke-width="0.70" stroke-linecap="butt"/>
<path d="M571.0 108.1L568.8 108.6L570.3 110.2Z" fill="#6f86ae" />
<line x1="577.94" y1="112.97" x2="579.69" y2="109.58" stroke="#6f86ae" stroke-width="0.70" stroke-linecap="butt"/>
<path d="M580.7 110.1L578.7 109.1L578.8 111.3Z" fill="#6f86ae" />
<line x1="582.87" y1="118.29" x2="586.39" y2="116.81" stroke="#6f86ae" stroke-width="0.70" stroke-linecap="butt"/>
<path d="M586.8 117.8L586.0 115.8L584.6 117.6Z" fill="#6f86ae" />
<circle cx="573.10" cy="122.40" r="10.60" fill="#ece8f4" stroke="#6d79c2" stroke-width="0.8"/>
<circle cx="573.10" cy="122.40" r="9.12" fill="#efecf6" stroke="#7d88cb" stroke-width="0.6"/>
<path d="M569.8 126.9C569.8 126.8 569.8 126.5 569.9 126.2C569.9 125.9 569.9 125.7 569.9 125.4C569.9 125.1 569.9 124.9 569.9 124.6C569.9 124.4 569.9 124.1 570.0 123.9C570.0 123.7 570.1 123.5 570.1 123.3C570.2 123.1 570.3 122.9 570.5 122.8C570.6 122.7 570.8 122.6 571.0 122.5C571.1 122.5 571.4 122.4 571.6 122.4C571.8 122.4 572.1 122.4 572.3 122.4C572.6 122.4 572.8 122.4 573.1 122.4C573.4 122.4 573.6 122.4 573.9 122.4C574.1 122.4 574.4 122.4 574.6 122.4C574.8 122.4 575.1 122.3 575.2 122.3C575.4 122.2 575.6 122.1 575.7 122.0C575.9 121.9 576.0 121.7 576.1 121.5C576.1 121.3 576.2 121.1 576.2 120.9C576.3 120.7 576.3 120.4 576.3 120.2C576.3 119.9 576.3 119.7 576.3 119.4C576.3 119.1 576.3 118.9 576.3 118.6C576.4 118.3 576.4 118.0 576.4 117.9" fill="none" stroke="#2d7fc0" stroke-width="4.45" stroke-linecap="round"/>
<path d="M448.2 296.4 L448.2 317.4 A50.1 31.2 0 0 0 548.4 317.4 L548.4 296.4 Z" fill="#d8eef5" stroke="#93b3be" stroke-width="0.7"/>
<ellipse cx="498.3" cy="296.4" rx="50.1" ry="30.7" fill="#e7f1f3" stroke="#93b3be" stroke-width="0.70"/>
<ellipse cx="498.3" cy="297.5" rx="48.3" ry="28.9" fill="none" stroke="#b9cfd6" stroke-width="0.50"/>
<ellipse cx="498.3" cy="304.5" rx="47.9" ry="25.3" fill="#cfe9f2" stroke="#a6c8d3" stroke-width="0.70"/>
<ellipse cx="498.3" cy="305.0" rx="46.3" ry="23.9" fill="none" stroke="#e3f3f8" stroke-width="0.60"/>
<circle cx="488.65" cy="292.08" r="5.60" fill="#bba8d6" />
<circle cx="512.35" cy="292.08" r="5.60" fill="#bba8d6" />
<circle cx="482.19" cy="299.08" r="5.60" fill="#bba8d6" />
<circle cx="495.12" cy="299.08" r="5.60" fill="#bba8d6" />
<circle cx="504.81" cy="298.54" r="5.60" fill="#bba8d6" />
<circle cx="519.90" cy="299.08" r="5.60" fill="#bba8d6" />
<circle cx="489.19" cy="305.55" r="5.60" fill="#bba8d6" />
<circle cx="501.58" cy="305.55" r="5.60" fill="#bba8d6" />
<circle cx="511.28" cy="305.01" r="5.60" fill="#bba8d6" />
<circle cx="522.05" cy="305.55" r="5.60" fill="#bba8d6" />
<circle cx="473.57" cy="311.47" r="5.60" fill="#bba8d6" />
<circle cx="485.42" cy="312.01" r="5.60" fill="#bba8d6" />
<circle cx="497.27" cy="312.01" r="5.60" fill="#bba8d6" />
<circle cx="508.04" cy="312.01" r="5.60" fill="#bba8d6" />
<circle cx="518.82" cy="311.47" r="5.60" fill="#bba8d6" />
<circle cx="529.05" cy="311.47" r="5.60" fill="#bba8d6" />
<circle cx="477.88" cy="318.47" r="5.60" fill="#bba8d6" />
<circle cx="490.27" cy="318.47" r="5.60" fill="#bba8d6" />
<circle cx="501.58" cy="317.94" r="5.60" fill="#bba8d6" />
<circle cx="513.43" cy="317.94" r="5.60" fill="#bba8d6" />
<circle cx="484.34" cy="324.40" r="5.60" fill="#bba8d6" />
<circle cx="496.19" cy="323.86" r="5.60" fill="#bba8d6" />
<circle cx="488.65" cy="292.08" r="2.59" fill="#a993cc" />
<circle cx="512.35" cy="292.08" r="2.59" fill="#a993cc" />
<circle cx="482.19" cy="299.08" r="2.59" fill="#a993cc" />
<circle cx="495.12" cy="299.08" r="2.59" fill="#a993cc" />
<circle cx="504.81" cy="298.54" r="2.59" fill="#a993cc" />
<circle cx="519.90" cy="299.08" r="2.59" fill="#a993cc" />
<circle cx="489.19" cy="305.55" r="2.59" fill="#a993cc" />
<circle cx="501.58" cy="305.55" r="2.59" fill="#a993cc" />
<circle cx="511.28" cy="305.01" r="2.59" fill="#a993cc" />
<circle cx="522.05" cy="305.55" r="2.59" fill="#a993cc" />
<circle cx="473.57" cy="311.47" r="2.59" fill="#a993cc" />
<circle cx="485.42" cy="312.01" r="2.59" fill="#a993cc" />
<circle cx="497.27" cy="312.01" r="2.59" fill="#a993cc" />
<circle cx="508.04" cy="312.01" r="2.59" fill="#a993cc" />
<circle cx="518.82" cy="311.47" r="2.59" fill="#a993cc" />
<circle cx="529.05" cy="311.47" r="2.59" fill="#a993cc" />
<circle cx="477.88" cy="318.47" r="2.59" fill="#a993cc" />
<circle cx="490.27" cy="318.47" r="2.59" fill="#a993cc" />
<circle cx="501.58" cy="317.94" r="2.59" fill="#a993cc" />
<circle cx="513.43" cy="317.94" r="2.59" fill="#a993cc" />
<circle cx="484.34" cy="324.40" r="2.59" fill="#a993cc" />
<circle cx="496.19" cy="323.86" r="2.59" fill="#a993cc" />
<line x1="521.10" y1="297.50" x2="549.30" y2="225.40" stroke="#111" stroke-width="1.40" stroke-linecap="butt"/>
<line x1="521.10" y1="303.50" x2="591.50" y2="293.00" stroke="#111" stroke-width="1.40" stroke-linecap="butt"/>
<ellipse cx="582.7" cy="250.9" rx="38.7" ry="43.1" fill="#e9e3f0" stroke="#0d0d0d" stroke-width="1.7"/>
<line x1="582.21" y1="237.21" x2="585.97" y2="238.37" stroke="#6f86ae" stroke-width="0.70" stroke-linecap="butt"/>
<path d="M585.6 239.4L586.3 237.3L584.1 237.8Z" fill="#6f86ae" />
<line x1="577.69" y1="243.17" x2="579.82" y2="246.48" stroke="#6f86ae" stroke-width="0.70" stroke-linecap="butt"/>
<path d="M578.9 247.1L580.7 245.9L578.8 244.8Z" fill="#6f86ae" />
<line x1="570.39" y1="244.83" x2="569.90" y2="248.74" stroke="#6f86ae" stroke-width="0.70" stroke-linecap="butt"/>
<path d="M568.8 248.6L571.0 248.9L570.1 246.8Z" fill="#6f86ae" />
<line x1="563.74" y1="241.41" x2="560.85" y2="244.09" stroke="#6f86ae" stroke-width="0.70" stroke-linecap="butt"/>
<path d="M560.1 243.3L561.6 244.9L562.3 242.7Z" fill="#6f86ae" />
<line x1="560.83" y1="234.51" x2="556.90" y2="234.70" stroke="#6f86ae" stroke-width="0.70" stroke-linecap="butt"/>
<path d="M556.8 233.6L557.0 235.8L558.9 234.6Z" fill="#6f86ae" />
<line x1="563.05" y1="227.36" x2="559.91" y2="224.98" stroke="#6f86ae" stroke-width="0.70" stroke-linecap="butt"/>
<path d="M560.6 224.1L559.2 225.9L561.5 226.2Z" fill="#6f86ae" />
<line x1="569.34" y1="223.31" x2="568.46" y2="219.47" stroke="#6f86ae" stroke-width="0.70" stroke-linecap="butt"/>
<path d="M569.5 219.2L567.4 219.7L568.9 221.4Z" fill="#6f86ae" />
<line x1="576.76" y1="224.24" x2="578.56" y2="220.74" stroke="#6f86ae" stroke-width="0.70" stroke-linecap="butt"/>
<path d="M579.5 221.2L577.6 220.2L577.7 222.5Z" fill="#6f86ae" />
<line x1="581.84" y1="229.73" x2="585.47" y2="228.21" stroke="#6f86ae" stroke-width="0.70" stroke-linecap="butt"/>
<path d="M585.9 229.2L585.0 227.2L583.7 229.0Z" fill="#6f86ae" />
<circle cx="571.76" cy="233.98" r="10.94" fill="#ece8f4" stroke="#6d79c2" stroke-width="0.8"/>
<circle cx="571.76" cy="233.98" r="9.41" fill="#efecf6" stroke="#7d88cb" stroke-width="0.6"/>
<path d="M566.1 235.1C566.2 235.0 566.5 234.7 566.6 234.6C566.8 234.4 567.0 234.2 567.2 234.0C567.4 233.8 567.6 233.6 567.8 233.4C568.0 233.2 568.2 233.0 568.3 232.9C568.5 232.8 568.7 232.6 568.9 232.6C569.1 232.5 569.3 232.4 569.5 232.4C569.7 232.4 569.9 232.5 570.1 232.6C570.2 232.6 570.4 232.8 570.6 232.9C570.8 233.0 571.0 233.2 571.2 233.4C571.4 233.6 571.6 233.8 571.8 234.0C572.0 234.2 572.1 234.4 572.3 234.6C572.5 234.7 572.7 234.9 572.9 235.1C573.1 235.2 573.3 235.3 573.5 235.4C573.7 235.5 573.8 235.5 574.0 235.5C574.2 235.5 574.4 235.5 574.6 235.4C574.8 235.3 575.0 235.2 575.2 235.1C575.4 234.9 575.6 234.7 575.7 234.6C575.9 234.4 576.1 234.2 576.3 234.0C576.5 233.8 576.7 233.6 576.9 233.4C577.1 233.2 577.4 233.0 577.4 232.9" fill="none" stroke="#cf2a33" stroke-width="4.59" stroke-linecap="round"/>
<line x1="612.76" y1="249.80" x2="616.52" y2="250.96" stroke="#6f86ae" stroke-width="0.70" stroke-linecap="butt"/>
<path d="M616.2 252.0L616.8 249.9L614.6 250.4Z" fill="#6f86ae" />
<line x1="608.24" y1="255.76" x2="610.37" y2="259.07" stroke="#6f86ae" stroke-width="0.70" stroke-linecap="butt"/>
<path d="M609.4 259.7L611.3 258.5L609.3 257.4Z" fill="#6f86ae" />
<line x1="600.94" y1="257.42" x2="600.45" y2="261.33" stroke="#6f86ae" stroke-width="0.70" stroke-linecap="butt"/>
<path d="M599.4 261.2L601.5 261.5L600.7 259.4Z" fill="#6f86ae" />
<line x1="594.28" y1="254.00" x2="591.39" y2="256.68" stroke="#6f86ae" stroke-width="0.70" stroke-linecap="butt"/>
<path d="M590.6 255.9L592.1 257.5L592.8 255.3Z" fill="#6f86ae" />
<line x1="591.38" y1="247.10" x2="587.45" y2="247.30" stroke="#6f86ae" stroke-width="0.70" stroke-linecap="butt"/>
<path d="M587.4 246.2L587.5 248.4L589.4 247.2Z" fill="#6f86ae" />
<line x1="593.59" y1="239.95" x2="590.46" y2="237.57" stroke="#6f86ae" stroke-width="0.70" stroke-linecap="butt"/>
<path d="M591.1 236.7L589.8 238.4L592.0 238.8Z" fill="#6f86ae" />
<line x1="599.88" y1="235.90" x2="599.01" y2="232.06" stroke="#6f86ae" stroke-width="0.70" stroke-linecap="butt"/>
<path d="M600.1 231.8L597.9 232.3L599.4 234.0Z" fill="#6f86ae" />
<line x1="607.31" y1="236.84" x2="609.11" y2="233.33" stroke="#6f86ae" stroke-width="0.70" stroke-linecap="butt"/>
<path d="M610.1 233.8L608.1 232.8L608.2 235.1Z" fill="#6f86ae" />
<line x1="612.39" y1="242.32" x2="616.02" y2="240.80" stroke="#6f86ae" stroke-width="0.70" stroke-linecap="butt"/>
<path d="M616.4 241.8L615.6 239.8L614.2 241.6Z" fill="#6f86ae" />
<circle cx="602.31" cy="246.57" r="10.94" fill="#ece8f4" stroke="#6d79c2" stroke-width="0.8"/>
<circle cx="602.31" cy="246.57" r="9.41" fill="#efecf6" stroke="#7d88cb" stroke-width="0.6"/>
<path d="M598.3 242.4C598.4 242.4 598.8 242.5 599.0 242.6C599.3 242.6 599.6 242.7 599.8 242.7C600.1 242.8 600.4 242.8 600.6 242.9C600.9 243.0 601.2 243.0 601.4 243.1C601.6 243.2 601.8 243.3 602.0 243.4C602.1 243.5 602.3 243.7 602.4 243.8C602.5 244.0 602.5 244.2 602.6 244.4C602.6 244.6 602.6 244.8 602.6 245.0C602.6 245.3 602.5 245.5 602.5 245.8C602.4 246.0 602.4 246.3 602.3 246.6C602.2 246.8 602.2 247.1 602.1 247.4C602.1 247.6 602.0 247.9 602.0 248.1C602.0 248.3 602.0 248.6 602.0 248.8C602.1 249.0 602.1 249.1 602.2 249.3C602.4 249.5 602.5 249.6 602.7 249.7C602.8 249.8 603.0 249.9 603.2 250.0C603.5 250.1 603.7 250.2 604.0 250.2C604.2 250.3 604.5 250.3 604.8 250.4C605.0 250.4 605.3 250.5 605.6 250.6C605.8 250.6 606.2 250.7 606.3 250.8" fill="none" stroke="#5cb946" stroke-width="4.59" stroke-linecap="round"/>
<line x1="588.71" y1="274.88" x2="592.48" y2="276.04" stroke="#6f86ae" stroke-width="0.70" stroke-linecap="butt"/>
<path d="M592.2 277.1L592.8 275.0L590.6 275.5Z" fill="#6f86ae" />
<line x1="584.19" y1="280.84" x2="586.32" y2="284.15" stroke="#6f86ae" stroke-width="0.70" stroke-linecap="butt"/>
<path d="M585.4 284.7L587.2 283.6L585.3 282.5Z" fill="#6f86ae" />
<line x1="576.89" y1="282.50" x2="576.40" y2="286.40" stroke="#6f86ae" stroke-width="0.70" stroke-linecap="butt"/>
<path d="M575.3 286.3L577.5 286.5L576.6 284.4Z" fill="#6f86ae" />
<line x1="570.24" y1="279.08" x2="567.35" y2="281.75" stroke="#6f86ae" stroke-width="0.70" stroke-linecap="butt"/>
<path d="M566.6 280.9L568.1 282.6L568.8 280.4Z" fill="#6f86ae" />
<line x1="567.34" y1="272.18" x2="563.40" y2="272.37" stroke="#6f86ae" stroke-width="0.70" stroke-linecap="butt"/>
<path d="M563.3 271.3L563.5 273.5L565.4 272.3Z" fill="#6f86ae" />
<line x1="569.55" y1="265.03" x2="566.41" y2="262.65" stroke="#6f86ae" stroke-width="0.70" stroke-linecap="butt"/>
<path d="M567.1 261.8L565.7 263.5L568.0 263.8Z" fill="#6f86ae" />
<line x1="575.84" y1="260.98" x2="574.96" y2="257.14" stroke="#6f86ae" stroke-width="0.70" stroke-linecap="butt"/>
<path d="M576.0 256.9L573.9 257.4L575.4 259.1Z" fill="#6f86ae" />
<line x1="583.26" y1="261.91" x2="585.06" y2="258.41" stroke="#6f86ae" stroke-width="0.70" stroke-linecap="butt"/>
<path d="M586.0 258.9L584.1 257.9L584.2 260.2Z" fill="#6f86ae" />
<line x1="588.35" y1="267.40" x2="591.98" y2="265.88" stroke="#6f86ae" stroke-width="0.70" stroke-linecap="butt"/>
<path d="M592.4 266.9L591.5 264.9L590.2 266.6Z" fill="#6f86ae" />
<circle cx="578.26" cy="271.64" r="10.94" fill="#ece8f4" stroke="#6d79c2" stroke-width="0.8"/>
<circle cx="578.26" cy="271.64" r="9.41" fill="#efecf6" stroke="#7d88cb" stroke-width="0.6"/>
<path d="M574.8 276.3C574.9 276.2 574.9 275.8 574.9 275.6C574.9 275.3 574.9 275.0 574.9 274.7C574.9 274.5 574.9 274.2 574.9 273.9C575.0 273.7 575.0 273.4 575.0 273.2C575.1 272.9 575.1 272.7 575.2 272.5C575.3 272.4 575.4 272.2 575.6 272.1C575.7 271.9 575.9 271.8 576.0 271.8C576.2 271.7 576.5 271.7 576.7 271.6C576.9 271.6 577.2 271.6 577.4 271.6C577.7 271.6 578.0 271.6 578.3 271.6C578.5 271.7 578.8 271.7 579.1 271.7C579.3 271.7 579.6 271.7 579.8 271.7C580.1 271.6 580.3 271.6 580.5 271.5C580.7 271.4 580.8 271.3 581.0 271.2C581.1 271.1 581.2 270.9 581.3 270.7C581.4 270.6 581.5 270.3 581.5 270.1C581.5 269.9 581.6 269.6 581.6 269.4C581.6 269.1 581.6 268.8 581.6 268.5C581.6 268.3 581.6 268.0 581.6 267.7C581.6 267.5 581.7 267.1 581.7 267.0" fill="none" stroke="#2d7fc0" stroke-width="4.59" stroke-linecap="round"/>
<path d="M448.3 448.3 L448.3 467.5 A45.7 28.5 0 0 0 539.6 467.5 L539.6 448.3 Z" fill="#d8eef5" stroke="#93b3be" stroke-width="0.7"/>
<ellipse cx="493.9" cy="448.3" rx="45.7" ry="28.0" fill="#e7f1f3" stroke="#93b3be" stroke-width="0.70"/>
<ellipse cx="493.9" cy="449.3" rx="44.0" ry="26.3" fill="none" stroke="#b9cfd6" stroke-width="0.50"/>
<ellipse cx="493.9" cy="455.7" rx="43.7" ry="23.1" fill="#cfe9f2" stroke="#a6c8d3" stroke-width="0.70"/>
<ellipse cx="493.9" cy="456.2" rx="42.2" ry="21.8" fill="none" stroke="#e3f3f8" stroke-width="0.60"/>
<circle cx="485.10" cy="444.39" r="5.11" fill="#bba8d6" />
<circle cx="506.71" cy="444.39" r="5.11" fill="#bba8d6" />
<circle cx="479.21" cy="450.78" r="5.11" fill="#bba8d6" />
<circle cx="491.00" cy="450.78" r="5.11" fill="#bba8d6" />
<circle cx="499.84" cy="450.29" r="5.11" fill="#bba8d6" />
<circle cx="513.59" cy="450.78" r="5.11" fill="#bba8d6" />
<circle cx="485.59" cy="456.67" r="5.11" fill="#bba8d6" />
<circle cx="496.89" cy="456.67" r="5.11" fill="#bba8d6" />
<circle cx="505.73" cy="456.18" r="5.11" fill="#bba8d6" />
<circle cx="515.56" cy="456.67" r="5.11" fill="#bba8d6" />
<circle cx="471.35" cy="462.08" r="5.11" fill="#bba8d6" />
<circle cx="482.16" cy="462.57" r="5.11" fill="#bba8d6" />
<circle cx="492.96" cy="462.57" r="5.11" fill="#bba8d6" />
<circle cx="502.78" cy="462.57" r="5.11" fill="#bba8d6" />
<circle cx="512.61" cy="462.08" r="5.11" fill="#bba8d6" />
<circle cx="521.94" cy="462.08" r="5.11" fill="#bba8d6" />
<circle cx="475.28" cy="468.46" r="5.11" fill="#bba8d6" />
<circle cx="486.58" cy="468.46" r="5.11" fill="#bba8d6" />
<circle cx="496.89" cy="467.97" r="5.11" fill="#bba8d6" />
<circle cx="507.70" cy="467.97" r="5.11" fill="#bba8d6" />
<circle cx="481.17" cy="473.86" r="5.11" fill="#bba8d6" />
<circle cx="491.98" cy="473.37" r="5.11" fill="#bba8d6" />
<circle cx="485.10" cy="444.39" r="2.36" fill="#a993cc" />
<circle cx="506.71" cy="444.39" r="2.36" fill="#a993cc" />
<circle cx="479.21" cy="450.78" r="2.36" fill="#a993cc" />
<circle cx="491.00" cy="450.78" r="2.36" fill="#a993cc" />
<circle cx="499.84" cy="450.29" r="2.36" fill="#a993cc" />
<circle cx="513.59" cy="450.78" r="2.36" fill="#a993cc" />
<circle cx="485.59" cy="456.67" r="2.36" fill="#a993cc" />
<circle cx="496.89" cy="456.67" r="2.36" fill="#a993cc" />
<circle cx="505.73" cy="456.18" r="2.36" fill="#a993cc" />
<circle cx="515.56" cy="456.67" r="2.36" fill="#a993cc" />
<circle cx="471.35" cy="462.08" r="2.36" fill="#a993cc" />
<circle cx="482.16" cy="462.57" r="2.36" fill="#a993cc" />
<circle cx="492.96" cy="462.57" r="2.36" fill="#a993cc" />
<circle cx="502.78" cy="462.57" r="2.36" fill="#a993cc" />
<circle cx="512.61" cy="462.08" r="2.36" fill="#a993cc" />
<circle cx="521.94" cy="462.08" r="2.36" fill="#a993cc" />
<circle cx="475.28" cy="468.46" r="2.36" fill="#a993cc" />
<circle cx="486.58" cy="468.46" r="2.36" fill="#a993cc" />
<circle cx="496.89" cy="467.97" r="2.36" fill="#a993cc" />
<circle cx="507.70" cy="467.97" r="2.36" fill="#a993cc" />
<circle cx="481.17" cy="473.86" r="2.36" fill="#a993cc" />
<circle cx="491.98" cy="473.37" r="2.36" fill="#a993cc" />
<line x1="515.80" y1="454.20" x2="540.50" y2="387.30" stroke="#111" stroke-width="1.40" stroke-linecap="butt"/>
<line x1="515.80" y1="457.70" x2="577.50" y2="446.50" stroke="#111" stroke-width="1.40" stroke-linecap="butt"/>
<ellipse cx="571.0" cy="408.0" rx="36.4" ry="39.1" fill="#e9e3f0" stroke="#0d0d0d" stroke-width="1.7"/>
<line x1="570.54" y1="395.12" x2="574.08" y2="396.22" stroke="#6f86ae" stroke-width="0.70" stroke-linecap="butt"/>
<path d="M573.8 397.3L574.4 395.2L572.3 395.7Z" fill="#6f86ae" />
<line x1="566.29" y1="400.73" x2="568.29" y2="403.84" stroke="#6f86ae" stroke-width="0.70" stroke-linecap="butt"/>
<path d="M567.4 404.4L569.2 403.2L567.3 402.3Z" fill="#6f86ae" />
<line x1="559.42" y1="402.29" x2="558.96" y2="405.96" stroke="#6f86ae" stroke-width="0.70" stroke-linecap="butt"/>
<path d="M557.9 405.8L560.1 406.1L559.2 404.1Z" fill="#6f86ae" />
<line x1="553.16" y1="399.07" x2="550.45" y2="401.59" stroke="#6f86ae" stroke-width="0.70" stroke-linecap="butt"/>
<path d="M549.7 400.8L551.2 402.4L551.8 400.3Z" fill="#6f86ae" />
<line x1="550.43" y1="392.59" x2="546.73" y2="392.77" stroke="#6f86ae" stroke-width="0.70" stroke-linecap="butt"/>
<path d="M546.7 391.7L546.8 393.9L548.6 392.7Z" fill="#6f86ae" />
<line x1="552.51" y1="385.86" x2="549.56" y2="383.62" stroke="#6f86ae" stroke-width="0.70" stroke-linecap="butt"/>
<path d="M550.2 382.7L548.9 384.5L551.0 384.7Z" fill="#6f86ae" />
<line x1="558.43" y1="382.05" x2="557.61" y2="378.44" stroke="#6f86ae" stroke-width="0.70" stroke-linecap="butt"/>
<path d="M558.7 378.2L556.5 378.7L558.0 380.2Z" fill="#6f86ae" />
<line x1="565.41" y1="382.93" x2="567.10" y2="379.63" stroke="#6f86ae" stroke-width="0.70" stroke-linecap="butt"/>
<path d="M568.1 380.1L566.1 379.1L566.3 381.3Z" fill="#6f86ae" />
<line x1="570.20" y1="388.09" x2="573.61" y2="386.66" stroke="#6f86ae" stroke-width="0.70" stroke-linecap="butt"/>
<path d="M574.0 387.7L573.2 385.6L571.9 387.4Z" fill="#6f86ae" />
<circle cx="560.71" cy="392.08" r="10.29" fill="#ece8f4" stroke="#6d79c2" stroke-width="0.8"/>
<circle cx="560.71" cy="392.08" r="8.85" fill="#efecf6" stroke="#7d88cb" stroke-width="0.6"/>
<path d="M555.4 393.1C555.4 393.0 555.7 392.8 555.9 392.6C556.1 392.5 556.3 392.3 556.4 392.1C556.6 391.9 556.8 391.7 557.0 391.5C557.1 391.4 557.3 391.2 557.5 391.1C557.7 390.9 557.9 390.8 558.0 390.8C558.2 390.7 558.4 390.6 558.6 390.6C558.7 390.6 558.9 390.7 559.1 390.8C559.3 390.8 559.5 390.9 559.6 391.1C559.8 391.2 560.0 391.4 560.2 391.5C560.4 391.7 560.5 391.9 560.7 392.1C560.9 392.3 561.1 392.5 561.2 392.6C561.4 392.8 561.6 393.0 561.8 393.1C562.0 393.2 562.1 393.3 562.3 393.4C562.5 393.5 562.7 393.5 562.9 393.5C563.0 393.5 563.2 393.5 563.4 393.4C563.6 393.3 563.7 393.2 563.9 393.1C564.1 393.0 564.3 392.8 564.5 392.6C564.6 392.5 564.8 392.3 565.0 392.1C565.2 391.9 565.3 391.7 565.5 391.5C565.7 391.4 566.0 391.1 566.1 391.1" fill="none" stroke="#cf2a33" stroke-width="4.32" stroke-linecap="round"/>
<line x1="599.27" y1="406.96" x2="602.81" y2="408.06" stroke="#6f86ae" stroke-width="0.70" stroke-linecap="butt"/>
<path d="M602.5 409.1L603.1 407.0L601.0 407.5Z" fill="#6f86ae" />
<line x1="595.02" y1="412.57" x2="597.03" y2="415.68" stroke="#6f86ae" stroke-width="0.70" stroke-linecap="butt"/>
<path d="M596.1 416.3L597.9 415.1L596.0 414.1Z" fill="#6f86ae" />
<line x1="588.16" y1="414.13" x2="587.69" y2="417.81" stroke="#6f86ae" stroke-width="0.70" stroke-linecap="butt"/>
<path d="M586.6 417.7L588.8 417.9L587.9 416.0Z" fill="#6f86ae" />
<line x1="581.89" y1="410.92" x2="579.18" y2="413.43" stroke="#6f86ae" stroke-width="0.70" stroke-linecap="butt"/>
<path d="M578.4 412.6L579.9 414.2L580.5 412.2Z" fill="#6f86ae" />
<line x1="579.17" y1="404.43" x2="575.47" y2="404.61" stroke="#6f86ae" stroke-width="0.70" stroke-linecap="butt"/>
<path d="M575.4 403.5L575.5 405.7L577.3 404.5Z" fill="#6f86ae" />
<line x1="581.25" y1="397.70" x2="578.30" y2="395.47" stroke="#6f86ae" stroke-width="0.70" stroke-linecap="butt"/>
<path d="M579.0 394.6L577.6 396.3L579.8 396.6Z" fill="#6f86ae" />
<line x1="587.16" y1="393.89" x2="586.34" y2="390.28" stroke="#6f86ae" stroke-width="0.70" stroke-linecap="butt"/>
<path d="M587.4 390.0L585.3 390.5L586.8 392.1Z" fill="#6f86ae" />
<line x1="594.14" y1="394.77" x2="595.84" y2="391.48" stroke="#6f86ae" stroke-width="0.70" stroke-linecap="butt"/>
<path d="M596.8 392.0L594.9 391.0L595.0 393.1Z" fill="#6f86ae" />
<line x1="598.93" y1="399.93" x2="602.34" y2="398.50" stroke="#6f86ae" stroke-width="0.70" stroke-linecap="butt"/>
<path d="M602.8 399.5L601.9 397.5L600.6 399.2Z" fill="#6f86ae" />
<circle cx="589.44" cy="403.92" r="10.29" fill="#ece8f4" stroke="#6d79c2" stroke-width="0.8"/>
<circle cx="589.44" cy="403.92" r="8.85" fill="#efecf6" stroke="#7d88cb" stroke-width="0.6"/>
<path d="M585.7 400.0C585.8 400.0 586.1 400.1 586.4 400.2C586.6 400.2 586.9 400.3 587.1 400.3C587.4 400.4 587.6 400.4 587.9 400.5C588.1 400.5 588.4 400.6 588.6 400.7C588.8 400.8 589.0 400.8 589.1 401.0C589.3 401.1 589.4 401.2 589.5 401.3C589.6 401.5 589.7 401.7 589.7 401.9C589.7 402.0 589.7 402.3 589.7 402.5C589.7 402.7 589.7 402.9 589.6 403.2C589.6 403.4 589.5 403.7 589.4 403.9C589.4 404.2 589.3 404.4 589.3 404.7C589.2 404.9 589.2 405.2 589.2 405.4C589.2 405.6 589.2 405.8 589.2 406.0C589.2 406.2 589.3 406.4 589.4 406.5C589.5 406.7 589.6 406.8 589.8 406.9C589.9 407.0 590.1 407.1 590.3 407.2C590.5 407.3 590.8 407.3 591.0 407.4C591.2 407.4 591.5 407.5 591.8 407.5C592.0 407.6 592.3 407.6 592.5 407.7C592.7 407.7 593.1 407.8 593.2 407.9" fill="none" stroke="#5cb946" stroke-width="4.32" stroke-linecap="round"/>
<line x1="576.66" y1="430.55" x2="580.19" y2="431.65" stroke="#6f86ae" stroke-width="0.70" stroke-linecap="butt"/>
<path d="M579.9 432.7L580.5 430.6L578.4 431.1Z" fill="#6f86ae" />
<line x1="572.40" y1="436.16" x2="574.41" y2="439.27" stroke="#6f86ae" stroke-width="0.70" stroke-linecap="butt"/>
<path d="M573.5 439.9L575.3 438.7L573.4 437.7Z" fill="#6f86ae" />
<line x1="565.54" y1="437.72" x2="565.08" y2="441.39" stroke="#6f86ae" stroke-width="0.70" stroke-linecap="butt"/>
<path d="M564.0 441.3L566.2 441.5L565.3 439.6Z" fill="#6f86ae" />
<line x1="559.28" y1="434.50" x2="556.56" y2="437.02" stroke="#6f86ae" stroke-width="0.70" stroke-linecap="butt"/>
<path d="M555.8 436.2L557.3 437.8L557.9 435.8Z" fill="#6f86ae" />
<line x1="556.55" y1="428.02" x2="552.85" y2="428.20" stroke="#6f86ae" stroke-width="0.70" stroke-linecap="butt"/>
<path d="M552.8 427.1L552.9 429.3L554.7 428.1Z" fill="#6f86ae" />
<line x1="558.63" y1="421.29" x2="555.68" y2="419.05" stroke="#6f86ae" stroke-width="0.70" stroke-linecap="butt"/>
<path d="M556.3 418.2L555.0 419.9L557.2 420.2Z" fill="#6f86ae" />
<line x1="564.54" y1="417.48" x2="563.72" y2="413.87" stroke="#6f86ae" stroke-width="0.70" stroke-linecap="butt"/>
<path d="M564.8 413.6L562.7 414.1L564.1 415.7Z" fill="#6f86ae" />
<line x1="571.53" y1="418.36" x2="573.22" y2="415.06" stroke="#6f86ae" stroke-width="0.70" stroke-linecap="butt"/>
<path d="M574.2 415.6L572.2 414.6L572.4 416.7Z" fill="#6f86ae" />
<line x1="576.31" y1="423.52" x2="579.72" y2="422.09" stroke="#6f86ae" stroke-width="0.70" stroke-linecap="butt"/>
<path d="M580.2 423.1L579.3 421.1L578.0 422.8Z" fill="#6f86ae" />
<circle cx="566.83" cy="427.51" r="10.29" fill="#ece8f4" stroke="#6d79c2" stroke-width="0.8"/>
<circle cx="566.83" cy="427.51" r="8.85" fill="#efecf6" stroke="#7d88cb" stroke-width="0.6"/>
<path d="M563.6 431.9C563.6 431.8 563.7 431.4 563.7 431.2C563.7 431.0 563.7 430.7 563.7 430.4C563.7 430.2 563.7 429.9 563.7 429.7C563.7 429.4 563.7 429.2 563.8 429.0C563.8 428.7 563.9 428.5 564.0 428.4C564.0 428.2 564.1 428.0 564.3 427.9C564.4 427.8 564.6 427.7 564.7 427.6C564.9 427.6 565.1 427.5 565.3 427.5C565.6 427.5 565.8 427.5 566.1 427.5C566.3 427.5 566.6 427.5 566.8 427.5C567.1 427.5 567.3 427.5 567.6 427.5C567.8 427.6 568.1 427.6 568.3 427.5C568.5 427.5 568.7 427.5 568.9 427.4C569.1 427.3 569.2 427.2 569.4 427.1C569.5 427.0 569.6 426.8 569.7 426.7C569.8 426.5 569.8 426.3 569.9 426.1C569.9 425.9 569.9 425.6 569.9 425.4C570.0 425.1 570.0 424.8 570.0 424.6C570.0 424.3 570.0 424.1 570.0 423.8C570.0 423.6 570.0 423.2 570.0 423.1" fill="none" stroke="#2d7fc0" stroke-width="4.32" stroke-linecap="round"/>
<path d="M917.8 169.3L918.8 169.5L920.0 169.8L921.6 170.2L923.3 170.7L925.2 171.2L927.3 171.6L929.4 172.0L931.6 172.4L933.9 172.6L936.0 172.7L938.2 172.6L940.4 172.4L942.6 172.2L944.7 171.8L947.0 171.4L949.1 171.0L951.3 170.5L953.5 170.0L955.6 169.6L957.7 169.2L959.9 168.8L962.1 168.3L964.3 167.8L966.4 167.2L968.6 166.7L970.7 166.2L972.7 165.8L974.7 165.4L976.7 165.1L978.6 164.9L980.4 164.7L982.3 164.6L984.2 164.6L986.0 164.6L987.8 164.6L989.5 164.7L991.2 164.8L992.8 165.1L994.4 165.4L995.9 165.7L997.3 166.2L998.8 166.8L1000.2 167.4L1001.6 168.1L1003.0 168.9L1004.4 169.8L1005.7 170.7L1006.9 171.6L1008.0 172.5L1009.1 173.4L1010.1 174.3L1011.0 175.3L1011.9 176.3L1012.7 177.3L1013.4 178.4L1014.1 179.4L1014.7 180.5L1015.3 181.6L1015.7 182.6L1016.1 183.5L1016.3 184.4L1016.4 185.4L1016.5 186.4L1016.5 187.5L1016.4 188.5L1016.2 189.6L1016.1 190.6L1015.9 191.5L1015.7 192.4L1015.6 193.1L1015.5 193.5L1015.4 193.7L1015.3 193.9L1015.3 194.0L1015.2 194.1L1015.0 194.2L1014.8 194.4L1014.6 194.5L1014.2 194.7L1014.0 194.9L1015.3 196.9L1015.4 196.9L1015.5 196.9L1015.7 196.9L1016.1 196.8L1016.6 196.6L1017.1 196.4L1017.6 196.0L1018.1 195.4L1018.5 194.7L1018.8 194.0L1019.0 193.2L1019.3 192.4L1019.6 191.4L1019.8 190.2L1020.1 189.1L1020.3 187.8L1020.4 186.5L1020.4 185.1L1020.3 183.7L1020.0 182.4L1019.6 181.1L1019.1 179.9L1018.6 178.6L1017.9 177.3L1017.2 176.0L1016.3 174.7L1015.4 173.5L1014.5 172.3L1013.4 171.1L1012.3 170.0L1011.1 168.9L1009.9 167.8L1008.6 166.8L1007.2 165.7L1005.7 164.7L1004.1 163.8L1002.5 162.9L1000.8 162.1L999.1 161.3L997.4 160.7L995.6 160.2L993.7 159.9L991.9 159.5L990.0 159.3L988.0 159.2L986.1 159.1L984.1 159.1L982.1 159.1L980.1 159.2L978.1 159.3L976.0 159.5L973.8 159.8L971.6 160.2L969.5 160.7L967.3 161.2L965.1 161.7L963.0 162.2L960.8 162.6L958.7 163.1L956.6 163.5L954.5 163.9L952.3 164.3L950.1 164.7L948.0 165.2L945.8 165.6L943.8 166.0L941.7 166.3L939.7 166.5L937.9 166.7L936.1 166.7L934.3 166.7L932.4 166.5L930.5 166.1L928.5 165.8L926.6 165.3L924.8 164.9L923.1 164.4L921.6 164.0L920.2 163.7L919.1 163.4Z" fill="#e3a39b" />
<circle cx="1014.65" cy="195.92" r="1.20" fill="#e3a39b" />
<path d="M811.4 128.7C810.9 127.8 811.9 122.5 812.8 121.0C813.8 119.5 817.2 117.6 818.5 117.5C819.7 117.4 821.7 119.2 822.0 120.3C822.3 121.3 821.6 124.1 820.8 125.2C820.1 126.3 817.6 127.8 816.3 128.3C815.1 128.8 811.9 129.7 811.4 128.7Z" fill="#d6d2ce" stroke="#c6c1bc" stroke-width="0.50" />
<path d="M833.2 173.8C833.9 174.3 834.7 177.2 833.9 178.0C833.2 178.9 829.3 179.9 827.6 180.1C825.9 180.4 822.4 180.5 821.3 180.1C820.2 179.8 819.2 178.2 819.4 177.6C819.7 177.0 822.1 176.3 823.4 175.9C824.7 175.5 827.7 174.8 829.0 174.5C830.3 174.2 832.6 173.3 833.2 173.8Z" fill="#eab3ab" />
<path d="M895.2 170.3C896.9 169.8 901.5 169.0 902.5 169.6C903.6 170.1 904.1 173.6 903.1 174.5C902.1 175.4 897.4 175.9 895.2 176.6C893.0 177.3 888.5 179.6 886.8 179.9C885.1 180.1 884.0 179.2 882.5 178.7C881.0 178.3 876.7 177.2 875.5 176.6C874.3 176.0 872.6 174.7 873.4 174.2C874.1 173.8 879.0 173.2 881.1 173.1C883.3 172.9 887.7 173.5 889.6 173.1C891.5 172.7 893.5 170.8 895.2 170.3Z" fill="#eab3ab" />
<path d="M788.9 166.3C788.7 164.1 790.8 159.2 792.4 156.2C794.0 153.2 798.2 146.9 800.8 143.5C803.5 140.1 809.3 133.5 812.1 130.8C814.9 128.2 819.2 125.2 822.0 123.8C824.8 122.4 830.2 121.7 833.2 120.3C836.2 118.9 841.1 114.6 844.5 113.2C847.9 111.9 854.8 110.2 858.6 110.1C862.3 110.0 868.9 111.5 872.7 112.5C876.4 113.6 882.8 117.6 886.8 118.2C890.7 118.7 898.9 116.0 902.3 116.8C905.6 117.5 909.9 121.7 912.1 123.8C914.4 125.9 918.1 129.2 919.2 132.3C920.2 135.3 920.5 143.7 920.1 146.3C919.8 149.0 916.6 149.7 916.6 152.0C916.6 154.2 920.0 161.0 920.1 163.2C920.3 165.5 920.3 167.8 917.7 168.9C915.2 169.9 905.9 170.6 900.8 171.1C895.8 171.7 885.4 173.0 879.7 173.1C874.1 173.2 863.3 171.7 858.6 171.7C853.9 171.7 847.9 172.5 844.5 173.1C841.1 173.7 835.7 175.9 833.2 175.9C830.8 175.9 828.5 173.8 826.2 173.1C823.9 172.3 819.5 170.1 816.3 170.3C813.1 170.5 805.3 174.1 802.3 174.5C799.2 174.9 795.6 174.2 793.8 173.1C792.0 172.0 789.1 168.6 788.9 166.3Z" fill="#e9e7e5" stroke="#d5d0cb" stroke-width="0.55" />
<path d="M886.8 156.2C889.4 154.2 896.9 152.5 900.8 152.0C904.8 151.4 913.8 150.5 916.3 152.0C918.9 153.5 920.0 161.0 920.1 163.2C920.3 165.5 920.3 167.8 917.7 168.9C915.2 169.9 905.9 170.6 900.8 171.1C895.8 171.7 885.4 173.0 879.7 173.1C874.1 173.2 860.3 172.3 858.6 171.7C856.9 171.1 864.0 169.5 867.0 168.9C870.0 168.2 878.5 168.5 881.1 166.8C883.8 165.1 884.1 158.2 886.8 156.2Z" fill="#e0dcd8" />
<path d="M857.2 152.0C857.6 149.0 861.8 143.7 864.2 142.1C866.7 140.5 872.9 139.4 875.5 140.0C878.1 140.6 882.4 144.2 883.9 146.3C885.4 148.5 886.9 153.6 886.8 156.2C886.6 158.8 884.6 164.4 882.5 166.1C880.5 167.7 874.1 169.1 871.3 168.9C868.5 168.7 863.3 166.9 861.4 164.6C859.5 162.4 856.8 155.0 857.2 152.0Z" fill="#edebe9" />
<path d="M857.2 152.0C857.9 154.1 859.1 161.8 861.4 164.6C863.8 167.5 867.7 168.9 871.3 169.2C874.8 169.4 880.7 166.6 882.5 166.1" fill="none" stroke="#d3cec9" stroke-width="0.70" />
<path d="M886.8 118.2C888.8 116.5 898.9 116.0 902.3 116.8C905.6 117.5 909.9 121.7 912.1 123.8C914.4 125.9 918.1 129.6 919.2 132.3C920.2 134.9 920.6 141.5 919.9 143.5C919.1 145.6 915.3 147.4 913.5 147.7C911.7 148.1 908.2 147.5 906.5 146.3C904.8 145.2 902.3 141.2 900.8 139.3C899.3 137.4 897.1 133.6 895.2 132.3C893.3 130.9 887.9 131.3 886.8 129.4C885.6 127.6 884.7 119.9 886.8 118.2Z" fill="#ecebe9" />
<path d="M883.9 132.3C885.8 132.7 891.9 133.2 895.2 135.1C898.5 136.9 901.5 141.4 903.7 143.5C905.8 145.6 906.0 147.2 907.9 147.7C909.8 148.3 913.8 147.2 914.9 147.0" fill="none" stroke="#d3cec9" stroke-width="0.70" />
<line x1="792.39" y1="163.24" x2="785.35" y2="151.97" stroke="#dcd8d5" stroke-width="0.30" stroke-linecap="butt"/>
<line x1="793.10" y1="163.94" x2="787.46" y2="154.08" stroke="#dcd8d5" stroke-width="0.30" stroke-linecap="butt"/>
<line x1="793.80" y1="166.06" x2="806.48" y2="168.87" stroke="#dcd8d5" stroke-width="0.30" stroke-linecap="butt"/>
<line x1="794.51" y1="167.18" x2="813.52" y2="174.51" stroke="#dcd8d5" stroke-width="0.30" stroke-linecap="butt"/>
<line x1="792.11" y1="162.54" x2="774.08" y2="151.97" stroke="#dcd8d5" stroke-width="0.30" stroke-linecap="butt"/>
<path d="M824.8 132.3C825.1 130.5 826.3 126.6 827.6 125.2C828.9 123.8 833.0 121.9 834.6 121.7C836.3 121.5 839.3 122.6 840.3 123.8C841.2 125.0 841.9 129.0 841.7 130.8C841.5 132.7 840.0 136.3 838.9 137.9C837.7 139.4 834.7 141.7 833.2 142.4C831.7 143.1 828.6 143.7 827.6 143.2C826.6 142.7 825.9 140.1 825.5 138.6C825.1 137.1 824.5 134.0 824.8 132.3Z" fill="#e9b8b0" />
<path d="M828.7 132.3C829.0 130.8 830.2 127.9 831.1 126.9C832.1 125.9 835.0 124.6 836.1 124.9C837.1 125.3 838.7 128.0 838.9 129.4C839.0 130.9 838.0 134.4 837.2 135.8C836.3 137.1 833.6 139.3 832.5 139.6C831.4 139.9 829.5 138.9 829.0 137.9C828.5 136.9 828.5 133.7 828.7 132.3Z" fill="#e2a69e" />
<circle cx="807.89" cy="150.85" r="2.11" fill="#b3202a" />
<path d="M788.9 166.3C788.9 165.7 789.5 163.7 789.9 163.5C790.3 163.3 791.6 164.3 791.8 164.9C792.1 165.6 791.8 167.8 791.5 168.3C791.2 168.8 789.9 168.9 789.6 168.6C789.2 168.3 788.8 167.0 788.9 166.3Z" fill="#eab3ab" />
<path d="M917.8 303.1L918.8 303.3L920.0 303.6L921.6 304.0L923.3 304.5L925.2 305.0L927.3 305.4L929.4 305.8L931.6 306.2L933.9 306.4L936.0 306.5L938.2 306.4L940.4 306.2L942.6 306.0L944.7 305.6L947.0 305.2L949.1 304.8L951.3 304.3L953.5 303.8L955.6 303.4L957.7 303.0L959.9 302.6L962.1 302.1L964.3 301.6L966.4 301.0L968.6 300.5L970.7 300.0L972.7 299.6L974.7 299.2L976.7 298.9L978.6 298.7L980.4 298.5L982.3 298.4L984.2 298.4L986.0 298.4L987.8 298.4L989.5 298.5L991.2 298.6L992.8 298.9L994.4 299.2L995.9 299.5L997.3 300.0L998.8 300.6L1000.2 301.2L1001.6 301.9L1003.0 302.7L1004.4 303.6L1005.7 304.5L1006.9 305.4L1008.0 306.3L1009.1 307.2L1010.1 308.1L1011.0 309.1L1011.9 310.1L1012.7 311.1L1013.4 312.2L1014.1 313.2L1014.7 314.3L1015.3 315.4L1015.7 316.4L1016.1 317.3L1016.3 318.2L1016.4 319.2L1016.5 320.2L1016.5 321.3L1016.4 322.3L1016.2 323.4L1016.1 324.4L1015.9 325.3L1015.7 326.2L1015.6 326.9L1015.5 327.3L1015.4 327.5L1015.3 327.7L1015.3 327.8L1015.2 327.9L1015.0 328.0L1014.8 328.2L1014.6 328.3L1014.2 328.5L1014.0 328.7L1015.3 330.7L1015.4 330.7L1015.5 330.7L1015.7 330.7L1016.1 330.6L1016.6 330.4L1017.1 330.2L1017.6 329.8L1018.1 329.2L1018.5 328.5L1018.8 327.8L1019.0 327.0L1019.3 326.2L1019.6 325.2L1019.8 324.0L1020.1 322.9L1020.3 321.6L1020.4 320.3L1020.4 318.9L1020.3 317.5L1020.0 316.2L1019.6 314.9L1019.1 313.7L1018.6 312.4L1017.9 311.1L1017.2 309.8L1016.3 308.5L1015.4 307.3L1014.5 306.1L1013.4 304.9L1012.3 303.8L1011.1 302.7L1009.9 301.6L1008.6 300.6L1007.2 299.5L1005.7 298.5L1004.1 297.6L1002.5 296.7L1000.8 295.9L999.1 295.1L997.4 294.5L995.6 294.0L993.7 293.7L991.9 293.3L990.0 293.1L988.0 293.0L986.1 292.9L984.1 292.9L982.1 292.9L980.1 293.0L978.1 293.1L976.0 293.3L973.8 293.6L971.6 294.0L969.5 294.5L967.3 295.0L965.1 295.5L963.0 296.0L960.8 296.4L958.7 296.9L956.6 297.3L954.5 297.7L952.3 298.1L950.1 298.5L948.0 299.0L945.8 299.4L943.8 299.8L941.7 300.1L939.7 300.3L937.9 300.5L936.1 300.5L934.3 300.5L932.4 300.3L930.5 299.9L928.5 299.6L926.6 299.1L924.8 298.7L923.1 298.2L921.6 297.8L920.2 297.5L919.1 297.2Z" fill="#e3a39b" />
<circle cx="1014.65" cy="329.72" r="1.20" fill="#e3a39b" />
<path d="M811.4 262.5C810.9 261.6 811.9 256.3 812.8 254.8C813.8 253.3 817.2 251.4 818.5 251.3C819.7 251.2 821.7 253.0 822.0 254.1C822.3 255.1 821.6 257.9 820.8 259.0C820.1 260.1 817.6 261.6 816.3 262.1C815.1 262.6 811.9 263.5 811.4 262.5Z" fill="#d6d2ce" stroke="#c6c1bc" stroke-width="0.50" />
<path d="M833.2 307.6C833.9 308.1 834.7 311.0 833.9 311.8C833.2 312.7 829.3 313.7 827.6 313.9C825.9 314.2 822.4 314.3 821.3 313.9C820.2 313.6 819.2 312.0 819.4 311.4C819.7 310.8 822.1 310.1 823.4 309.7C824.7 309.3 827.7 308.6 829.0 308.3C830.3 308.0 832.6 307.1 833.2 307.6Z" fill="#eab3ab" />
<path d="M895.2 304.1C896.9 303.6 901.5 302.8 902.5 303.4C903.6 303.9 904.1 307.4 903.1 308.3C902.1 309.2 897.4 309.7 895.2 310.4C893.0 311.1 888.5 313.4 886.8 313.7C885.1 313.9 884.0 313.0 882.5 312.5C881.0 312.1 876.7 311.0 875.5 310.4C874.3 309.8 872.6 308.5 873.4 308.0C874.1 307.6 879.0 307.0 881.1 306.9C883.3 306.7 887.7 307.3 889.6 306.9C891.5 306.5 893.5 304.6 895.2 304.1Z" fill="#eab3ab" />
<path d="M788.9 300.1C788.7 297.9 790.8 293.0 792.4 290.0C794.0 287.0 798.2 280.7 800.8 277.3C803.5 273.9 809.3 267.3 812.1 264.6C814.9 262.0 819.2 259.0 822.0 257.6C824.8 256.2 830.2 255.5 833.2 254.1C836.2 252.7 841.1 248.4 844.5 247.0C847.9 245.7 854.8 244.0 858.6 243.9C862.3 243.8 868.9 245.3 872.7 246.3C876.4 247.4 882.8 251.4 886.8 252.0C890.7 252.5 898.9 249.8 902.3 250.6C905.6 251.3 909.9 255.5 912.1 257.6C914.4 259.7 918.1 263.0 919.2 266.1C920.2 269.1 920.5 277.5 920.1 280.1C919.8 282.8 916.6 283.5 916.6 285.8C916.6 288.0 920.0 294.8 920.1 297.0C920.3 299.3 920.3 301.6 917.7 302.7C915.2 303.7 905.9 304.4 900.8 304.9C895.8 305.5 885.4 306.8 879.7 306.9C874.1 307.0 863.3 305.5 858.6 305.5C853.9 305.5 847.9 306.3 844.5 306.9C841.1 307.5 835.7 309.7 833.2 309.7C830.8 309.7 828.5 307.6 826.2 306.9C823.9 306.1 819.5 303.9 816.3 304.1C813.1 304.3 805.3 307.9 802.3 308.3C799.2 308.7 795.6 308.0 793.8 306.9C792.0 305.8 789.1 302.4 788.9 300.1Z" fill="#e9e7e5" stroke="#d5d0cb" stroke-width="0.55" />
<path d="M886.8 290.0C889.4 288.0 896.9 286.3 900.8 285.8C904.8 285.2 913.8 284.3 916.3 285.8C918.9 287.3 920.0 294.8 920.1 297.0C920.3 299.3 920.3 301.6 917.7 302.7C915.2 303.7 905.9 304.4 900.8 304.9C895.8 305.5 885.4 306.8 879.7 306.9C874.1 307.0 860.3 306.1 858.6 305.5C856.9 304.9 864.0 303.3 867.0 302.7C870.0 302.0 878.5 302.3 881.1 300.6C883.8 298.9 884.1 292.0 886.8 290.0Z" fill="#e0dcd8" />
<path d="M857.2 285.8C857.6 282.8 861.8 277.5 864.2 275.9C866.7 274.3 872.9 273.2 875.5 273.8C878.1 274.4 882.4 278.0 883.9 280.1C885.4 282.3 886.9 287.4 886.8 290.0C886.6 292.6 884.6 298.2 882.5 299.9C880.5 301.5 874.1 302.9 871.3 302.7C868.5 302.5 863.3 300.7 861.4 298.4C859.5 296.2 856.8 288.8 857.2 285.8Z" fill="#edebe9" />
<path d="M857.2 285.8C857.9 287.9 859.1 295.6 861.4 298.4C863.8 301.3 867.7 302.7 871.3 303.0C874.8 303.2 880.7 300.4 882.5 299.9" fill="none" stroke="#d3cec9" stroke-width="0.70" />
<path d="M886.8 252.0C888.8 250.3 898.9 249.8 902.3 250.6C905.6 251.3 909.9 255.5 912.1 257.6C914.4 259.7 918.1 263.4 919.2 266.1C920.2 268.7 920.6 275.3 919.9 277.3C919.1 279.4 915.3 281.2 913.5 281.5C911.7 281.9 908.2 281.3 906.5 280.1C904.8 279.0 902.3 275.0 900.8 273.1C899.3 271.2 897.1 267.4 895.2 266.1C893.3 264.7 887.9 265.1 886.8 263.2C885.6 261.4 884.7 253.7 886.8 252.0Z" fill="#ecebe9" />
<path d="M883.9 266.1C885.8 266.5 891.9 267.0 895.2 268.9C898.5 270.7 901.5 275.2 903.7 277.3C905.8 279.4 906.0 281.0 907.9 281.5C909.8 282.1 913.8 281.0 914.9 280.8" fill="none" stroke="#d3cec9" stroke-width="0.70" />
<line x1="792.39" y1="297.04" x2="785.35" y2="285.77" stroke="#dcd8d5" stroke-width="0.30" stroke-linecap="butt"/>
<line x1="793.10" y1="297.74" x2="787.46" y2="287.88" stroke="#dcd8d5" stroke-width="0.30" stroke-linecap="butt"/>
<line x1="793.80" y1="299.86" x2="806.48" y2="302.67" stroke="#dcd8d5" stroke-width="0.30" stroke-linecap="butt"/>
<line x1="794.51" y1="300.98" x2="813.52" y2="308.31" stroke="#dcd8d5" stroke-width="0.30" stroke-linecap="butt"/>
<line x1="792.11" y1="296.34" x2="774.08" y2="285.77" stroke="#dcd8d5" stroke-width="0.30" stroke-linecap="butt"/>
<path d="M824.8 266.1C825.1 264.3 826.3 260.4 827.6 259.0C828.9 257.6 833.0 255.7 834.6 255.5C836.3 255.3 839.3 256.4 840.3 257.6C841.2 258.8 841.9 262.8 841.7 264.6C841.5 266.5 840.0 270.1 838.9 271.7C837.7 273.2 834.7 275.5 833.2 276.2C831.7 276.9 828.6 277.5 827.6 277.0C826.6 276.5 825.9 273.9 825.5 272.4C825.1 270.9 824.5 267.8 824.8 266.1Z" fill="#e9b8b0" />
<path d="M828.7 266.1C829.0 264.6 830.2 261.7 831.1 260.7C832.1 259.7 835.0 258.4 836.1 258.7C837.1 259.1 838.7 261.8 838.9 263.2C839.0 264.7 838.0 268.2 837.2 269.6C836.3 270.9 833.6 273.1 832.5 273.4C831.4 273.7 829.5 272.7 829.0 271.7C828.5 270.7 828.5 267.5 828.7 266.1Z" fill="#e2a69e" />
<circle cx="807.89" cy="284.65" r="2.11" fill="#b3202a" />
<path d="M788.9 300.1C788.9 299.5 789.5 297.5 789.9 297.3C790.3 297.1 791.6 298.1 791.8 298.7C792.1 299.4 791.8 301.6 791.5 302.1C791.2 302.6 789.9 302.7 789.6 302.4C789.2 302.1 788.8 300.8 788.9 300.1Z" fill="#eab3ab" />
<path d="M917.8 438.6L918.8 438.8L920.0 439.1L921.6 439.5L923.3 440.0L925.2 440.5L927.3 440.9L929.4 441.3L931.6 441.7L933.9 441.9L936.0 442.0L938.2 441.9L940.4 441.7L942.6 441.5L944.7 441.1L947.0 440.7L949.1 440.3L951.3 439.8L953.5 439.3L955.6 438.9L957.7 438.5L959.9 438.1L962.1 437.6L964.3 437.1L966.4 436.5L968.6 436.0L970.7 435.5L972.7 435.1L974.7 434.7L976.7 434.4L978.6 434.2L980.4 434.0L982.3 433.9L984.2 433.9L986.0 433.9L987.8 433.9L989.5 434.0L991.2 434.1L992.8 434.4L994.4 434.7L995.9 435.0L997.3 435.5L998.8 436.1L1000.2 436.7L1001.6 437.4L1003.0 438.2L1004.4 439.1L1005.7 440.0L1006.9 440.9L1008.0 441.8L1009.1 442.7L1010.1 443.6L1011.0 444.6L1011.9 445.6L1012.7 446.6L1013.4 447.7L1014.1 448.7L1014.7 449.8L1015.3 450.9L1015.7 451.9L1016.1 452.8L1016.3 453.7L1016.4 454.7L1016.5 455.7L1016.5 456.8L1016.4 457.8L1016.2 458.9L1016.1 459.9L1015.9 460.8L1015.7 461.7L1015.6 462.4L1015.5 462.8L1015.4 463.0L1015.3 463.2L1015.3 463.3L1015.2 463.4L1015.0 463.5L1014.8 463.7L1014.6 463.8L1014.2 464.0L1014.0 464.2L1015.3 466.2L1015.4 466.2L1015.5 466.2L1015.7 466.2L1016.1 466.1L1016.6 465.9L1017.1 465.7L1017.6 465.3L1018.1 464.7L1018.5 464.0L1018.8 463.3L1019.0 462.5L1019.3 461.7L1019.6 460.7L1019.8 459.5L1020.1 458.4L1020.3 457.1L1020.4 455.8L1020.4 454.4L1020.3 453.0L1020.0 451.7L1019.6 450.4L1019.1 449.2L1018.6 447.9L1017.9 446.6L1017.2 445.3L1016.3 444.0L1015.4 442.8L1014.5 441.6L1013.4 440.4L1012.3 439.3L1011.1 438.2L1009.9 437.1L1008.6 436.1L1007.2 435.0L1005.7 434.0L1004.1 433.1L1002.5 432.2L1000.8 431.4L999.1 430.6L997.4 430.0L995.6 429.5L993.7 429.2L991.9 428.8L990.0 428.6L988.0 428.5L986.1 428.4L984.1 428.4L982.1 428.4L980.1 428.5L978.1 428.6L976.0 428.8L973.8 429.1L971.6 429.5L969.5 430.0L967.3 430.5L965.1 431.0L963.0 431.5L960.8 431.9L958.7 432.4L956.6 432.8L954.5 433.2L952.3 433.6L950.1 434.0L948.0 434.5L945.8 434.9L943.8 435.3L941.7 435.6L939.7 435.8L937.9 436.0L936.1 436.0L934.3 436.0L932.4 435.8L930.5 435.4L928.5 435.1L926.6 434.6L924.8 434.2L923.1 433.7L921.6 433.3L920.2 433.0L919.1 432.7Z" fill="#e3a39b" />
<circle cx="1014.65" cy="465.22" r="1.20" fill="#e3a39b" />
<path d="M811.4 398.0C810.9 397.1 811.9 391.8 812.8 390.3C813.8 388.8 817.2 386.9 818.5 386.8C819.7 386.7 821.7 388.5 822.0 389.6C822.3 390.6 821.6 393.4 820.8 394.5C820.1 395.6 817.6 397.1 816.3 397.6C815.1 398.1 811.9 399.0 811.4 398.0Z" fill="#d6d2ce" stroke="#c6c1bc" stroke-width="0.50" />
<path d="M833.2 443.1C833.9 443.6 834.7 446.5 833.9 447.3C833.2 448.2 829.3 449.2 827.6 449.4C825.9 449.7 822.4 449.8 821.3 449.4C820.2 449.1 819.2 447.5 819.4 446.9C819.7 446.3 822.1 445.6 823.4 445.2C824.7 444.8 827.7 444.1 829.0 443.8C830.3 443.5 832.6 442.6 833.2 443.1Z" fill="#eab3ab" />
<path d="M895.2 439.6C896.9 439.1 901.5 438.3 902.5 438.9C903.6 439.4 904.1 442.9 903.1 443.8C902.1 444.7 897.4 445.2 895.2 445.9C893.0 446.6 888.5 448.9 886.8 449.2C885.1 449.4 884.0 448.5 882.5 448.0C881.0 447.6 876.7 446.5 875.5 445.9C874.3 445.3 872.6 444.0 873.4 443.5C874.1 443.1 879.0 442.5 881.1 442.4C883.3 442.2 887.7 442.8 889.6 442.4C891.5 442.0 893.5 440.1 895.2 439.6Z" fill="#eab3ab" />
<path d="M788.9 435.6C788.7 433.4 790.8 428.5 792.4 425.5C794.0 422.5 798.2 416.2 800.8 412.8C803.5 409.4 809.3 402.8 812.1 400.1C814.9 397.5 819.2 394.5 822.0 393.1C824.8 391.7 830.2 391.0 833.2 389.6C836.2 388.2 841.1 383.9 844.5 382.5C847.9 381.2 854.8 379.5 858.6 379.4C862.3 379.3 868.9 380.8 872.7 381.8C876.4 382.9 882.8 386.9 886.8 387.5C890.7 388.0 898.9 385.3 902.3 386.1C905.6 386.8 909.9 391.0 912.1 393.1C914.4 395.2 918.1 398.5 919.2 401.6C920.2 404.6 920.5 413.0 920.1 415.6C919.8 418.3 916.6 419.0 916.6 421.3C916.6 423.5 920.0 430.3 920.1 432.5C920.3 434.8 920.3 437.1 917.7 438.2C915.2 439.2 905.9 439.9 900.8 440.4C895.8 441.0 885.4 442.3 879.7 442.4C874.1 442.5 863.3 441.0 858.6 441.0C853.9 441.0 847.9 441.8 844.5 442.4C841.1 443.0 835.7 445.2 833.2 445.2C830.8 445.2 828.5 443.1 826.2 442.4C823.9 441.6 819.5 439.4 816.3 439.6C813.1 439.8 805.3 443.4 802.3 443.8C799.2 444.2 795.6 443.5 793.8 442.4C792.0 441.3 789.1 437.9 788.9 435.6Z" fill="#e9e7e5" stroke="#d5d0cb" stroke-width="0.55" />
<path d="M886.8 425.5C889.4 423.5 896.9 421.8 900.8 421.3C904.8 420.7 913.8 419.8 916.3 421.3C918.9 422.8 920.0 430.3 920.1 432.5C920.3 434.8 920.3 437.1 917.7 438.2C915.2 439.2 905.9 439.9 900.8 440.4C895.8 441.0 885.4 442.3 879.7 442.4C874.1 442.5 860.3 441.6 858.6 441.0C856.9 440.4 864.0 438.8 867.0 438.2C870.0 437.5 878.5 437.8 881.1 436.1C883.8 434.4 884.1 427.5 886.8 425.5Z" fill="#e0dcd8" />
<path d="M857.2 421.3C857.6 418.3 861.8 413.0 864.2 411.4C866.7 409.8 872.9 408.7 875.5 409.3C878.1 409.9 882.4 413.5 883.9 415.6C885.4 417.8 886.9 422.9 886.8 425.5C886.6 428.1 884.6 433.7 882.5 435.4C880.5 437.0 874.1 438.4 871.3 438.2C868.5 438.0 863.3 436.2 861.4 433.9C859.5 431.7 856.8 424.3 857.2 421.3Z" fill="#edebe9" />
<path d="M857.2 421.3C857.9 423.4 859.1 431.1 861.4 433.9C863.8 436.8 867.7 438.2 871.3 438.5C874.8 438.7 880.7 435.9 882.5 435.4" fill="none" stroke="#d3cec9" stroke-width="0.70" />
<path d="M886.8 387.5C888.8 385.8 898.9 385.3 902.3 386.1C905.6 386.8 909.9 391.0 912.1 393.1C914.4 395.2 918.1 398.9 919.2 401.6C920.2 404.2 920.6 410.8 919.9 412.8C919.1 414.9 915.3 416.7 913.5 417.0C911.7 417.4 908.2 416.8 906.5 415.6C904.8 414.5 902.3 410.5 900.8 408.6C899.3 406.7 897.1 402.9 895.2 401.6C893.3 400.2 887.9 400.6 886.8 398.7C885.6 396.9 884.7 389.2 886.8 387.5Z" fill="#ecebe9" />
<path d="M883.9 401.6C885.8 402.0 891.9 402.5 895.2 404.4C898.5 406.2 901.5 410.7 903.7 412.8C905.8 414.9 906.0 416.5 907.9 417.0C909.8 417.6 913.8 416.5 914.9 416.3" fill="none" stroke="#d3cec9" stroke-width="0.70" />
<line x1="792.39" y1="432.54" x2="785.35" y2="421.27" stroke="#dcd8d5" stroke-width="0.30" stroke-linecap="butt"/>
<line x1="793.10" y1="433.24" x2="787.46" y2="423.38" stroke="#dcd8d5" stroke-width="0.30" stroke-linecap="butt"/>
<line x1="793.80" y1="435.36" x2="806.48" y2="438.17" stroke="#dcd8d5" stroke-width="0.30" stroke-linecap="butt"/>
<line x1="794.51" y1="436.48" x2="813.52" y2="443.81" stroke="#dcd8d5" stroke-width="0.30" stroke-linecap="butt"/>
<line x1="792.11" y1="431.84" x2="774.08" y2="421.27" stroke="#dcd8d5" stroke-width="0.30" stroke-linecap="butt"/>
<path d="M824.8 401.6C825.1 399.8 826.3 395.9 827.6 394.5C828.9 393.1 833.0 391.2 834.6 391.0C836.3 390.8 839.3 391.9 840.3 393.1C841.2 394.3 841.9 398.3 841.7 400.1C841.5 402.0 840.0 405.6 838.9 407.2C837.7 408.7 834.7 411.0 833.2 411.7C831.7 412.4 828.6 413.0 827.6 412.5C826.6 412.0 825.9 409.4 825.5 407.9C825.1 406.4 824.5 403.3 824.8 401.6Z" fill="#e9b8b0" />
<path d="M828.7 401.6C829.0 400.1 830.2 397.2 831.1 396.2C832.1 395.2 835.0 393.9 836.1 394.2C837.1 394.6 838.7 397.3 838.9 398.7C839.0 400.2 838.0 403.7 837.2 405.1C836.3 406.4 833.6 408.6 832.5 408.9C831.4 409.2 829.5 408.2 829.0 407.2C828.5 406.2 828.5 403.0 828.7 401.6Z" fill="#e2a69e" />
<circle cx="807.89" cy="420.15" r="2.11" fill="#b3202a" />
<path d="M788.9 435.6C788.9 435.0 789.5 433.0 789.9 432.8C790.3 432.6 791.6 433.6 791.8 434.2C792.1 434.9 791.8 437.1 791.5 437.6C791.2 438.1 789.9 438.2 789.6 437.9C789.2 437.6 788.8 436.3 788.9 435.6Z" fill="#eab3ab" />
<path d="M1195.2 365.0L1246.4 400.5L1250.4 403.4L1261.4 404.7L1370.7 376.3L1369.6 380.7L1365.6 382.5L1261.4 408.1L1256.8 409.6L1250.4 408.1L1246.4 405.6L1196.0 368.6Z" fill="#63676a" />
<path d="M1194.7 259.7L1246.8 278.0L1246.8 400.8L1194.7 365.0Z" fill="#cfcfcf" stroke="#9c9c9c" stroke-width="0.50" />
<path d="M1197.8 265.2L1242.2 281.6L1242.2 316.4L1197.8 296.3Z" fill="#d0d0d0" stroke="#b3b3b3" stroke-width="0.60" />
<path d="M1197.8 322.8L1242.2 343.8L1242.2 385.8L1197.8 356.6Z" fill="#d0d0d0" stroke="#b3b3b3" stroke-width="0.60" />
<path d="M1246.8 278.0L1370.2 263.3L1370.7 376.3L1261.4 404.7L1250.4 403.4L1246.8 400.5Z" fill="#d2d1d0" stroke="#9c9c9c" stroke-width="0.5" stroke-linejoin="round"/>
<path d="M1246.8 294.4L1255.0 296.3L1255.0 403.7L1250.4 403.4L1246.8 400.5Z" fill="#c9c8c8" />
<path d="M1246.8 280.2L1370.2 267.0L1370.2 276.1L1246.8 290.8Z" fill="#dbdbdb" />
<path d="M1246.8 290.4L1298.0 285.6L1370.2 275.8L1370.2 278.9L1319.9 286.7L1250.4 296.3L1246.8 294.4Z" fill="#33373a" />
<path d="M1250.4 296.3L1319.9 286.7L1370.2 278.9L1370.2 280.7L1250.4 298.4Z" fill="#b9b9b9" />
<line x1="1320.46" y1="287.11" x2="1320.46" y2="389.49" stroke="#aeaeae" stroke-width="0.60" stroke-linecap="butt"/>
<line x1="1282.43" y1="296.62" x2="1316.25" y2="291.68" stroke="#f4f4f4" stroke-width="0.70" stroke-linecap="butt"/>
<line x1="1321.74" y1="290.77" x2="1347.33" y2="285.65" stroke="#f4f4f4" stroke-width="0.70" stroke-linecap="butt"/>
<path d="M1194.7 253.5L1255.9 270.7L1367.8 259.3L1367.8 267.0L1255.9 280.5L1194.7 261.5Z" fill="#9fe0c1" />
<path d="M1194.7 241.4L1255.9 259.7L1255.9 271.6L1194.7 253.8Z" fill="#8e8e8e" />
<path d="M1255.9 259.7L1370.5 247.8L1370.5 259.7L1255.9 271.6Z" fill="#8a8a8a" />
<path d="M1193.8 203.0L1240.4 202.1L1245.0 204.8L1245.0 245.1L1193.8 241.4Z" fill="#d3d3d3" stroke="#9c9c9c" stroke-width="0.50" />
<path d="M1215.7 204.8L1245.0 204.8L1245.0 245.1L1215.7 243.2Z" fill="#dadada" />
<path d="M1193.8 203.0L1215.7 204.8L1215.7 243.2L1193.8 241.4Z" fill="#cdcdcd" />
<path d="M1235.8 221.3L1322.7 221.3L1322.7 241.4L1235.8 242.3Z" fill="#dddddd" stroke="#9c9c9c" stroke-width="0.40" />
<path d="M1194.7 241.4L1325.4 237.8L1370.5 247.8L1255.9 259.7Z" fill="#aaaaaa" stroke="#9c9c9c" stroke-width="0.40" />
<path d="M1255.9 259.3L1370.5 247.4L1370.5 248.4L1255.9 260.4Z" fill="#d4d4d4" />
<path d="M1194.7 241.2L1255.9 259.3L1255.9 260.4L1194.7 242.3Z" fill="#d4d4d4" />
<path d="M1272.4 245.1C1274.2 244.6 1293.4 242.0 1298.0 242.3C1302.5 242.6 1324.9 248.0 1327.2 248.7C1329.5 249.4 1327.8 250.5 1325.4 250.9C1323.0 251.4 1302.1 254.5 1298.0 254.2C1293.9 253.9 1278.2 248.6 1276.0 247.8C1273.9 247.0 1270.5 245.5 1272.4 245.1Z" fill="#4c4c4c" />
<path d="M1281.5 246.0L1298.0 244.1L1316.3 248.7L1301.6 251.5Z" fill="#2f2f2f" />
<line x1="1288.83" y1="246.53" x2="1303.46" y2="245.06" stroke="#8d8d8d" stroke-width="0.50" stroke-linecap="butt"/>
<line x1="1294.31" y1="247.26" x2="1308.94" y2="245.80" stroke="#8d8d8d" stroke-width="0.50" stroke-linecap="butt"/>
<line x1="1299.80" y1="247.99" x2="1314.42" y2="246.53" stroke="#8d8d8d" stroke-width="0.50" stroke-linecap="butt"/>
<path d="M1245.9 165.5L1335.4 167.7L1338.2 170.5L1337.5 216.2L1334.5 218.6L1246.8 222.6L1243.7 219.8L1243.1 168.3Z" fill="#dbdbdb" stroke="#8f8f8f" stroke-width="0.9" stroke-linejoin="round"/>
<path d="M1251.4 168.3L1332.7 170.5L1334.5 172.9L1334.0 214.0L1331.8 215.4L1252.3 220.4L1250.4 218.0L1250.1 170.5Z" fill="#5d5d5d" />
<path d="M1292.9 169.4L1318.4 170.1L1292.9 218.0L1257.4 219.8Z" fill="#b6b6b6" />
<text x="1225.07" y="469.50" font-size="29.30" fill="#1a1a1a" stroke="#1a1a1a" stroke-width="0.45" style="letter-spacing:-0.407px;">WGS</text>
<path d="M616.8 203.2L620.4 199.8L620.4 203.2Z" fill="#e0707a" />
<path d="M621.1 356.3L624.7 352.9L624.7 356.3Z" fill="#e0707a" />
<path d="M606.2 504.0L609.8 500.6L609.8 504.0Z" fill="#e0707a" />
<text x="1431.89" y="24.70" font-size="33.50" fill="#231f20" stroke="#231f20" stroke-width="0.45" style="font-weight:bold;">b</text>
<rect x="1543.55" y="55.50" width="6.30" height="357.65" fill="#000"/>
<rect x="1531.10" y="55.50" width="15.60" height="6.80" fill="#000"/>
<rect x="1531.10" y="172.35" width="15.60" height="6.80" fill="#000"/>
<rect x="1531.10" y="289.20" width="15.60" height="6.80" fill="#000"/>
<rect x="1531.10" y="407.15" width="542.90" height="6.00" fill="#000"/>
<path d="M1565.25 407.35 L1565.25 314.35 L1591.05 314.35 L1591.05 407.35" fill="#00aeef" stroke="#000" stroke-width="8.70" stroke-linejoin="miter"/>
<rect x="1574.75" y="410.15" width="6.80" height="15.60" fill="#000"/>
<text transform="translate(1587.65,447.15) rotate(-45)" x="0" y="0" text-anchor="end" font-size="30.00" fill="#000" stroke="#000" stroke-width="0.45" style="letter-spacing:-1.000px;">A&gt;C</text>
<path d="M1611.75 407.35 L1611.75 112.25 L1637.55 112.25 L1637.55 407.35" fill="#00aeef" stroke="#000" stroke-width="8.70" stroke-linejoin="miter"/>
<rect x="1621.25" y="410.15" width="6.80" height="15.60" fill="#000"/>
<text transform="translate(1634.15,447.15) rotate(-45)" x="0" y="0" text-anchor="end" font-size="30.00" fill="#000" stroke="#000" stroke-width="0.45" style="letter-spacing:-1.000px;">A&gt;G</text>
<path d="M1658.25 407.35 L1658.25 336.85 L1684.05 336.85 L1684.05 407.35" fill="#00aeef" stroke="#000" stroke-width="8.70" stroke-linejoin="miter"/>
<rect x="1667.75" y="410.15" width="6.80" height="15.60" fill="#000"/>
<text transform="translate(1680.65,447.15) rotate(-45)" x="0" y="0" text-anchor="end" font-size="30.00" fill="#000" stroke="#000" stroke-width="0.45" style="letter-spacing:-1.000px;">A&gt;T</text>
<path d="M1704.75 407.35 L1704.75 349.35 L1730.55 349.35 L1730.55 407.35" fill="#ed1c24" stroke="#000" stroke-width="8.70" stroke-linejoin="miter"/>
<rect x="1714.25" y="410.15" width="6.80" height="15.60" fill="#000"/>
<text transform="translate(1727.15,447.15) rotate(-45)" x="0" y="0" text-anchor="end" font-size="30.00" fill="#000" stroke="#000" stroke-width="0.45" style="letter-spacing:-1.000px;">C&gt;A</text>
<path d="M1751.25 407.35 L1751.25 348.35 L1777.05 348.35 L1777.05 407.35" fill="#ed1c24" stroke="#000" stroke-width="8.70" stroke-linejoin="miter"/>
<rect x="1760.75" y="410.15" width="6.80" height="15.60" fill="#000"/>
<text transform="translate(1773.65,447.15) rotate(-45)" x="0" y="0" text-anchor="end" font-size="30.00" fill="#000" stroke="#000" stroke-width="0.45" style="letter-spacing:-1.000px;">C&gt;G</text>
<path d="M1797.75 407.35 L1797.75 182.35 L1823.55 182.35 L1823.55 407.35" fill="#00a651" stroke="#000" stroke-width="8.70" stroke-linejoin="miter"/>
<rect x="1807.25" y="410.15" width="6.80" height="15.60" fill="#000"/>
<text transform="translate(1820.15,447.15) rotate(-45)" x="0" y="0" text-anchor="end" font-size="30.00" fill="#000" stroke="#000" stroke-width="0.45" style="letter-spacing:-1.000px;">G&gt;A</text>
<path d="M1844.25 407.35 L1844.25 347.75 L1870.05 347.75 L1870.05 407.35" fill="#00a651" stroke="#000" stroke-width="8.70" stroke-linejoin="miter"/>
<rect x="1853.75" y="410.15" width="6.80" height="15.60" fill="#000"/>
<text transform="translate(1866.65,447.15) rotate(-45)" x="0" y="0" text-anchor="end" font-size="30.00" fill="#000" stroke="#000" stroke-width="0.45" style="letter-spacing:-1.000px;">G&gt;C</text>
<path d="M1890.75 407.35 L1890.75 349.35 L1916.55 349.35 L1916.55 407.35" fill="#00a651" stroke="#000" stroke-width="8.70" stroke-linejoin="miter"/>
<rect x="1900.25" y="410.15" width="6.80" height="15.60" fill="#000"/>
<text transform="translate(1913.15,447.15) rotate(-45)" x="0" y="0" text-anchor="end" font-size="30.00" fill="#000" stroke="#000" stroke-width="0.45" style="letter-spacing:-1.000px;">G&gt;T</text>
<path d="M1937.25 407.35 L1937.25 336.35 L1963.05 336.35 L1963.05 407.35" fill="#fff200" stroke="#000" stroke-width="8.70" stroke-linejoin="miter"/>
<rect x="1946.75" y="410.15" width="6.80" height="15.60" fill="#000"/>
<text transform="translate(1959.65,447.15) rotate(-45)" x="0" y="0" text-anchor="end" font-size="30.00" fill="#000" stroke="#000" stroke-width="0.45" style="letter-spacing:-1.000px;">T&gt;A</text>
<path d="M1983.75 407.35 L1983.75 112.35 L2009.55 112.35 L2009.55 407.35" fill="#fff200" stroke="#000" stroke-width="8.70" stroke-linejoin="miter"/>
<rect x="1993.25" y="410.15" width="6.80" height="15.60" fill="#000"/>
<text transform="translate(2006.15,447.15) rotate(-45)" x="0" y="0" text-anchor="end" font-size="30.00" fill="#000" stroke="#000" stroke-width="0.45" style="letter-spacing:-1.000px;">T&gt;C</text>
<path d="M2030.25 407.35 L2030.25 314.95 L2056.05 314.95 L2056.05 407.35" fill="#fff200" stroke="#000" stroke-width="8.70" stroke-linejoin="miter"/>
<rect x="2039.75" y="410.15" width="6.80" height="15.60" fill="#000"/>
<text transform="translate(2052.65,447.15) rotate(-45)" x="0" y="0" text-anchor="end" font-size="30.00" fill="#000" stroke="#000" stroke-width="0.45" style="letter-spacing:-1.000px;">T&gt;G</text>
<text x="1717.09" y="86.40" font-size="29.60" fill="#000" stroke="#000" stroke-width="0.45" style="font-style:italic;letter-spacing:-0.717px;">Homo sapiens</text>
<text x="1492.25" y="68.30" font-size="29.60" fill="#000" stroke="#000" stroke-width="0.45" style="letter-spacing:-1.427px;">15</text>
<text x="1492.25" y="185.15" font-size="29.60" fill="#000" stroke="#000" stroke-width="0.45" style="letter-spacing:-1.513px;">10</text>
<text x="1507.71" y="302.00" font-size="29.60" fill="#000" stroke="#000" stroke-width="0.45" style="">5</text>
<text x="1507.44" y="418.85" font-size="29.60" fill="#000" stroke="#000" stroke-width="0.45" style="">0</text>
<text transform="translate(1476.00,279.70) rotate(-90)" x="-1.34" y="0" font-size="29.60" fill="#000" stroke="#000" stroke-width="0.45" style="letter-spacing:-0.655px;">SNVs, %</text>
<rect x="1547.25" y="498.30" width="6.30" height="357.20" fill="#000"/>
<rect x="1535.30" y="498.30" width="15.10" height="6.80" fill="#000"/>
<rect x="1535.30" y="615.00" width="15.10" height="6.80" fill="#000"/>
<rect x="1535.30" y="731.70" width="15.10" height="6.80" fill="#000"/>
<rect x="1535.30" y="849.50" width="542.30" height="6.00" fill="#000"/>
<path d="M1568.20 849.70 L1568.20 762.75 L1594.00 762.75 L1594.00 849.70" fill="#00aeef" stroke="#000" stroke-width="8.70" stroke-linejoin="miter"/>
<rect x="1577.70" y="852.50" width="6.80" height="15.60" fill="#000"/>
<text transform="translate(1590.60,889.50) rotate(-45)" x="0" y="0" text-anchor="end" font-size="30.00" fill="#000" stroke="#000" stroke-width="0.45" style="letter-spacing:-1.000px;">A&gt;C</text>
<path d="M1614.74 849.70 L1614.74 541.35 L1640.54 541.35 L1640.54 849.70" fill="#00aeef" stroke="#000" stroke-width="8.70" stroke-linejoin="miter"/>
<rect x="1624.24" y="852.50" width="6.80" height="15.60" fill="#000"/>
<text transform="translate(1637.14,889.50) rotate(-45)" x="0" y="0" text-anchor="end" font-size="30.00" fill="#000" stroke="#000" stroke-width="0.45" style="letter-spacing:-1.000px;">A&gt;G</text>
<path d="M1661.28 849.70 L1661.28 769.85 L1687.08 769.85 L1687.08 849.70" fill="#00aeef" stroke="#000" stroke-width="8.70" stroke-linejoin="miter"/>
<rect x="1670.78" y="852.50" width="6.80" height="15.60" fill="#000"/>
<text transform="translate(1683.68,889.50) rotate(-45)" x="0" y="0" text-anchor="end" font-size="30.00" fill="#000" stroke="#000" stroke-width="0.45" style="letter-spacing:-1.000px;">A&gt;T</text>
<path d="M1707.82 849.70 L1707.82 766.35 L1733.62 766.35 L1733.62 849.70" fill="#ed1c24" stroke="#000" stroke-width="8.70" stroke-linejoin="miter"/>
<rect x="1717.32" y="852.50" width="6.80" height="15.60" fill="#000"/>
<text transform="translate(1730.22,889.50) rotate(-45)" x="0" y="0" text-anchor="end" font-size="30.00" fill="#000" stroke="#000" stroke-width="0.45" style="letter-spacing:-1.000px;">C&gt;A</text>
<path d="M1754.36 849.70 L1754.36 793.35 L1780.16 793.35 L1780.16 849.70" fill="#ed1c24" stroke="#000" stroke-width="8.70" stroke-linejoin="miter"/>
<rect x="1763.86" y="852.50" width="6.80" height="15.60" fill="#000"/>
<text transform="translate(1776.76,889.50) rotate(-45)" x="0" y="0" text-anchor="end" font-size="30.00" fill="#000" stroke="#000" stroke-width="0.45" style="letter-spacing:-1.000px;">C&gt;G</text>
<path d="M1800.90 849.70 L1800.90 542.05 L1826.70 542.05 L1826.70 849.70" fill="#00a651" stroke="#000" stroke-width="8.70" stroke-linejoin="miter"/>
<rect x="1810.40" y="852.50" width="6.80" height="15.60" fill="#000"/>
<text transform="translate(1823.30,889.50) rotate(-45)" x="0" y="0" text-anchor="end" font-size="30.00" fill="#000" stroke="#000" stroke-width="0.45" style="letter-spacing:-1.000px;">G&gt;A</text>
<path d="M1847.44 849.70 L1847.44 793.35 L1873.24 793.35 L1873.24 849.70" fill="#00a651" stroke="#000" stroke-width="8.70" stroke-linejoin="miter"/>
<rect x="1856.94" y="852.50" width="6.80" height="15.60" fill="#000"/>
<text transform="translate(1869.84,889.50) rotate(-45)" x="0" y="0" text-anchor="end" font-size="30.00" fill="#000" stroke="#000" stroke-width="0.45" style="letter-spacing:-1.000px;">G&gt;C</text>
<path d="M1893.98 849.70 L1893.98 766.95 L1919.78 766.95 L1919.78 849.70" fill="#00a651" stroke="#000" stroke-width="8.70" stroke-linejoin="miter"/>
<rect x="1903.48" y="852.50" width="6.80" height="15.60" fill="#000"/>
<text transform="translate(1916.38,889.50) rotate(-45)" x="0" y="0" text-anchor="end" font-size="30.00" fill="#000" stroke="#000" stroke-width="0.45" style="letter-spacing:-1.000px;">G&gt;T</text>
<path d="M1940.52 849.70 L1940.52 769.45 L1966.32 769.45 L1966.32 849.70" fill="#fff200" stroke="#000" stroke-width="8.70" stroke-linejoin="miter"/>
<rect x="1950.02" y="852.50" width="6.80" height="15.60" fill="#000"/>
<text transform="translate(1962.92,889.50) rotate(-45)" x="0" y="0" text-anchor="end" font-size="30.00" fill="#000" stroke="#000" stroke-width="0.45" style="letter-spacing:-1.000px;">T&gt;A</text>
<path d="M1987.06 849.70 L1987.06 539.55 L2012.86 539.55 L2012.86 849.70" fill="#fff200" stroke="#000" stroke-width="8.70" stroke-linejoin="miter"/>
<rect x="1996.56" y="852.50" width="6.80" height="15.60" fill="#000"/>
<text transform="translate(2009.46,889.50) rotate(-45)" x="0" y="0" text-anchor="end" font-size="30.00" fill="#000" stroke="#000" stroke-width="0.45" style="letter-spacing:-1.000px;">T&gt;C</text>
<path d="M2033.60 849.70 L2033.60 764.55 L2059.40 764.55 L2059.40 849.70" fill="#fff200" stroke="#000" stroke-width="8.70" stroke-linejoin="miter"/>
<rect x="2043.10" y="852.50" width="6.80" height="15.60" fill="#000"/>
<text transform="translate(2056.00,889.50) rotate(-45)" x="0" y="0" text-anchor="end" font-size="30.00" fill="#000" stroke="#000" stroke-width="0.45" style="letter-spacing:-1.000px;">T&gt;G</text>
<text x="1729.39" y="515.80" font-size="29.60" fill="#000" stroke="#000" stroke-width="0.45" style="font-style:italic;letter-spacing:-0.777px;">Mus musculus</text>
<text x="1496.45" y="511.10" font-size="29.60" fill="#000" stroke="#000" stroke-width="0.45" style="letter-spacing:-1.427px;">15</text>
<text x="1496.45" y="627.80" font-size="29.60" fill="#000" stroke="#000" stroke-width="0.45" style="letter-spacing:-1.513px;">10</text>
<text x="1511.91" y="744.50" font-size="29.60" fill="#000" stroke="#000" stroke-width="0.45" style="">5</text>
<text x="1511.64" y="861.20" font-size="29.60" fill="#000" stroke="#000" stroke-width="0.45" style="">0</text>
<text transform="translate(1476.20,724.50) rotate(-90)" x="-1.34" y="0" font-size="29.60" fill="#000" stroke="#000" stroke-width="0.45" style="letter-spacing:-0.705px;">SNVs, %</text>
<rect x="1540.65" y="950.20" width="6.30" height="360.80" fill="#000"/>
<rect x="1528.60" y="950.20" width="15.20" height="6.80" fill="#000"/>
<rect x="1528.60" y="1068.10" width="15.20" height="6.80" fill="#000"/>
<rect x="1528.60" y="1186.00" width="15.20" height="6.80" fill="#000"/>
<rect x="1528.60" y="1305.00" width="545.40" height="6.00" fill="#000"/>
<path d="M1562.20 1305.20 L1562.20 1210.35 L1588.00 1210.35 L1588.00 1305.20" fill="#00aeef" stroke="#000" stroke-width="8.70" stroke-linejoin="miter"/>
<rect x="1571.70" y="1308.00" width="6.80" height="15.60" fill="#000"/>
<text transform="translate(1584.60,1345.00) rotate(-45)" x="0" y="0" text-anchor="end" font-size="30.00" fill="#000" stroke="#000" stroke-width="0.45" style="letter-spacing:-1.000px;">A&gt;C</text>
<path d="M1609.00 1305.20 L1609.00 1009.35 L1634.80 1009.35 L1634.80 1305.20" fill="#00aeef" stroke="#000" stroke-width="8.70" stroke-linejoin="miter"/>
<rect x="1618.50" y="1308.00" width="6.80" height="15.60" fill="#000"/>
<text transform="translate(1631.40,1345.00) rotate(-45)" x="0" y="0" text-anchor="end" font-size="30.00" fill="#000" stroke="#000" stroke-width="0.45" style="letter-spacing:-1.000px;">A&gt;G</text>
<path d="M1655.80 1305.20 L1655.80 1226.65 L1681.60 1226.65 L1681.60 1305.20" fill="#00aeef" stroke="#000" stroke-width="8.70" stroke-linejoin="miter"/>
<rect x="1665.30" y="1308.00" width="6.80" height="15.60" fill="#000"/>
<text transform="translate(1678.20,1345.00) rotate(-45)" x="0" y="0" text-anchor="end" font-size="30.00" fill="#000" stroke="#000" stroke-width="0.45" style="letter-spacing:-1.000px;">A&gt;T</text>
<path d="M1702.60 1305.20 L1702.60 1228.05 L1728.40 1228.05 L1728.40 1305.20" fill="#ed1c24" stroke="#000" stroke-width="8.70" stroke-linejoin="miter"/>
<rect x="1712.10" y="1308.00" width="6.80" height="15.60" fill="#000"/>
<text transform="translate(1725.00,1345.00) rotate(-45)" x="0" y="0" text-anchor="end" font-size="30.00" fill="#000" stroke="#000" stroke-width="0.45" style="letter-spacing:-1.000px;">C&gt;A</text>
<path d="M1749.40 1305.20 L1749.40 1237.55 L1775.20 1237.55 L1775.20 1305.20" fill="#ed1c24" stroke="#000" stroke-width="8.70" stroke-linejoin="miter"/>
<rect x="1758.90" y="1308.00" width="6.80" height="15.60" fill="#000"/>
<text transform="translate(1771.80,1345.00) rotate(-45)" x="0" y="0" text-anchor="end" font-size="30.00" fill="#000" stroke="#000" stroke-width="0.45" style="letter-spacing:-1.000px;">C&gt;G</text>
<path d="M1796.20 1305.20 L1796.20 1026.75 L1822.00 1026.75 L1822.00 1305.20" fill="#00a651" stroke="#000" stroke-width="8.70" stroke-linejoin="miter"/>
<rect x="1805.70" y="1308.00" width="6.80" height="15.60" fill="#000"/>
<text transform="translate(1818.60,1345.00) rotate(-45)" x="0" y="0" text-anchor="end" font-size="30.00" fill="#000" stroke="#000" stroke-width="0.45" style="letter-spacing:-1.000px;">G&gt;A</text>
<path d="M1843.00 1305.20 L1843.00 1237.55 L1868.80 1237.55 L1868.80 1305.20" fill="#00a651" stroke="#000" stroke-width="8.70" stroke-linejoin="miter"/>
<rect x="1852.50" y="1308.00" width="6.80" height="15.60" fill="#000"/>
<text transform="translate(1865.40,1345.00) rotate(-45)" x="0" y="0" text-anchor="end" font-size="30.00" fill="#000" stroke="#000" stroke-width="0.45" style="letter-spacing:-1.000px;">G&gt;C</text>
<path d="M1889.80 1305.20 L1889.80 1228.05 L1915.60 1228.05 L1915.60 1305.20" fill="#00a651" stroke="#000" stroke-width="8.70" stroke-linejoin="miter"/>
<rect x="1899.30" y="1308.00" width="6.80" height="15.60" fill="#000"/>
<text transform="translate(1912.20,1345.00) rotate(-45)" x="0" y="0" text-anchor="end" font-size="30.00" fill="#000" stroke="#000" stroke-width="0.45" style="letter-spacing:-1.000px;">G&gt;T</text>
<path d="M1936.60 1305.20 L1936.60 1226.65 L1962.40 1226.65 L1962.40 1305.20" fill="#fff200" stroke="#000" stroke-width="8.70" stroke-linejoin="miter"/>
<rect x="1946.10" y="1308.00" width="6.80" height="15.60" fill="#000"/>
<text transform="translate(1959.00,1345.00) rotate(-45)" x="0" y="0" text-anchor="end" font-size="30.00" fill="#000" stroke="#000" stroke-width="0.45" style="letter-spacing:-1.000px;">T&gt;A</text>
<path d="M1983.40 1305.20 L1983.40 1010.85 L2009.20 1010.85 L2009.20 1305.20" fill="#fff200" stroke="#000" stroke-width="8.70" stroke-linejoin="miter"/>
<rect x="1992.90" y="1308.00" width="6.80" height="15.60" fill="#000"/>
<text transform="translate(2005.80,1345.00) rotate(-45)" x="0" y="0" text-anchor="end" font-size="30.00" fill="#000" stroke="#000" stroke-width="0.45" style="letter-spacing:-1.000px;">T&gt;C</text>
<path d="M2030.20 1305.20 L2030.20 1212.55 L2056.00 1212.55 L2056.00 1305.20" fill="#fff200" stroke="#000" stroke-width="8.70" stroke-linejoin="miter"/>
<rect x="2039.70" y="1308.00" width="6.80" height="15.60" fill="#000"/>
<text transform="translate(2052.60,1345.00) rotate(-45)" x="0" y="0" text-anchor="end" font-size="30.00" fill="#000" stroke="#000" stroke-width="0.45" style="letter-spacing:-1.000px;">T&gt;G</text>
<text x="1685.99" y="992.40" font-size="29.60" fill="#000" stroke="#000" stroke-width="0.45" style="font-style:italic;letter-spacing:-0.779px;">Balaena mysticetus</text>
<text x="1489.75" y="963.00" font-size="29.60" fill="#000" stroke="#000" stroke-width="0.45" style="letter-spacing:-1.427px;">15</text>
<text x="1489.75" y="1080.90" font-size="29.60" fill="#000" stroke="#000" stroke-width="0.45" style="letter-spacing:-1.513px;">10</text>
<text x="1505.21" y="1198.80" font-size="29.60" fill="#000" stroke="#000" stroke-width="0.45" style="">5</text>
<text x="1504.94" y="1316.70" font-size="29.60" fill="#000" stroke="#000" stroke-width="0.45" style="">0</text>
<text transform="translate(1476.00,1175.00) rotate(-90)" x="-1.34" y="0" font-size="29.60" fill="#000" stroke="#000" stroke-width="0.45" style="letter-spacing:-0.655px;">SNVs, %</text>
<text x="-0.41" y="543.50" font-size="33.50" fill="#231f20" stroke="#231f20" stroke-width="0.45" style="font-weight:bold;">c</text>
<rect x="177.40" y="597.90" width="6.20" height="338.70" fill="#000"/>
<rect x="164.90" y="597.90" width="15.60" height="6.00" fill="#000"/>
<rect x="164.90" y="664.40" width="15.60" height="6.00" fill="#000"/>
<rect x="164.90" y="730.90" width="15.60" height="6.00" fill="#000"/>
<rect x="164.90" y="797.40" width="15.60" height="6.00" fill="#000"/>
<rect x="164.90" y="863.90" width="15.60" height="6.00" fill="#000"/>
<rect x="164.90" y="930.60" width="236.90" height="6.00" fill="#000"/>
<path d="M205.10 930.80 L205.10 650.00 L244.30 650.00 L244.30 930.80" fill="#fff" stroke="#000" stroke-width="9.00" stroke-linejoin="miter"/>
<path d="M271.60 930.80 L271.60 714.50 L311.00 714.50 L311.00 930.80" fill="#6abd45" stroke="#000" stroke-width="9.00" stroke-linejoin="miter"/>
<path d="M337.80 930.80 L337.80 804.50 L377.40 804.50 L377.40 930.80" fill="#3f5aa9" stroke="#000" stroke-width="9.00" stroke-linejoin="miter"/>
<line x1="357.00" y1="764.90" x2="357.00" y2="802.00" stroke="#000" stroke-width="2.40" stroke-linecap="butt"/>
<line x1="345.20" y1="764.90" x2="370.30" y2="764.90" stroke="#000" stroke-width="2.40" stroke-linecap="butt"/>
<circle cx="224.50" cy="649.40" r="6.40" fill="#231f20" />
<circle cx="284.50" cy="719.70" r="6.40" fill="#231f20" />
<circle cx="298.10" cy="711.60" r="6.40" fill="#231f20" />
<circle cx="349.00" cy="735.20" r="3.90" fill="#231f20" />
<circle cx="365.20" cy="741.90" r="3.90" fill="#000" />
<circle cx="357.00" cy="780.40" r="3.90" fill="#000" />
<circle cx="349.00" cy="809.70" r="3.90" fill="#000" />
<circle cx="365.20" cy="809.70" r="3.90" fill="#000" />
<circle cx="357.00" cy="838.10" r="3.90" fill="#000" />
<circle cx="357.00" cy="857.40" r="3.90" fill="#000" />
<circle cx="357.00" cy="883.00" r="3.90" fill="#000" />
<path d="M224.20 555.00 L224.20 536.80 L357.40 536.80 L357.40 560.30" fill="none" stroke="#000" stroke-width="6.00" stroke-linecap="round" stroke-linejoin="miter"/>
<path d="M297.80 690.50 L297.80 608.80 L357.40 608.80 L357.40 728.60" fill="none" stroke="#000" stroke-width="6.00" stroke-linecap="round" stroke-linejoin="miter"/>
<text x="232.47" y="526.60" font-size="24.80" fill="#000" stroke="#000" stroke-width="0.45" style="letter-spacing:-0.072px;">P = 0.0059</text>
<text x="277.97" y="594.90" font-size="24.80" fill="#000" stroke="#000" stroke-width="0.45" style="letter-spacing:-0.095px;">P = 0.029</text>
<text x="54.39" y="611.10" font-size="30.00" fill="#000" stroke="#000" stroke-width="0.45" style="letter-spacing:0.132px;">2.5</text>
<text x="107.77" y="610.10" font-size="24.6" stroke="#000" stroke-width="0.7" style="font-weight:bold;">×</text>
<text x="119.01" y="611.10" font-size="30.00" fill="#000" stroke="#000" stroke-width="0.45" style="">10</text>
<text x="145.58" y="581.00" font-size="30.00" fill="#000" stroke="#000" stroke-width="0.45" style="">6</text>
<text x="54.39" y="677.60" font-size="30.00" fill="#000" stroke="#000" stroke-width="0.45" style="letter-spacing:0.088px;">2.0</text>
<text x="107.77" y="676.60" font-size="24.6" stroke="#000" stroke-width="0.7" style="font-weight:bold;">×</text>
<text x="119.01" y="677.60" font-size="30.00" fill="#000" stroke="#000" stroke-width="0.45" style="">10</text>
<text x="145.58" y="647.50" font-size="30.00" fill="#000" stroke="#000" stroke-width="0.45" style="">6</text>
<text x="53.61" y="744.10" font-size="30.00" fill="#000" stroke="#000" stroke-width="0.45" style="letter-spacing:0.520px;">1.5</text>
<text x="107.77" y="743.10" font-size="24.6" stroke="#000" stroke-width="0.7" style="font-weight:bold;">×</text>
<text x="119.01" y="744.10" font-size="30.00" fill="#000" stroke="#000" stroke-width="0.45" style="">10</text>
<text x="145.58" y="714.00" font-size="30.00" fill="#000" stroke="#000" stroke-width="0.45" style="">6</text>
<text x="53.61" y="810.60" font-size="30.00" fill="#000" stroke="#000" stroke-width="0.45" style="letter-spacing:0.476px;">1.0</text>
<text x="107.77" y="809.60" font-size="24.6" stroke="#000" stroke-width="0.7" style="font-weight:bold;">×</text>
<text x="119.01" y="810.60" font-size="30.00" fill="#000" stroke="#000" stroke-width="0.45" style="">10</text>
<text x="145.58" y="780.50" font-size="30.00" fill="#000" stroke="#000" stroke-width="0.45" style="">6</text>
<text x="54.70" y="877.10" font-size="30.00" fill="#000" stroke="#000" stroke-width="0.45" style="letter-spacing:-0.066px;">5.0</text>
<text x="107.77" y="876.10" font-size="24.6" stroke="#000" stroke-width="0.7" style="font-weight:bold;">×</text>
<text x="119.01" y="877.10" font-size="30.00" fill="#000" stroke="#000" stroke-width="0.45" style="">10</text>
<text x="145.90" y="847.00" font-size="30.00" fill="#000" stroke="#000" stroke-width="0.45" style="">5</text>
<text x="121.63" y="942.40" font-size="30.00" fill="#000" stroke="#000" stroke-width="0.45" style="letter-spacing:-0.530px;">0.0</text>
<text transform="translate(32.90,835.00) rotate(-90)" x="-2.54" y="0" font-size="31.00" fill="#000" stroke="#000" stroke-width="0.45" style="letter-spacing:-1.378px;">Number of SNVs</text>
<text x="447.43" y="543.30" font-size="33.50" fill="#231f20" stroke="#231f20" stroke-width="0.45" style="font-weight:bold;">d</text>
<rect x="592.30" y="585.00" width="6.00" height="356.30" fill="#000"/>
<rect x="579.00" y="585.00" width="16.30" height="6.00" fill="#000"/>
<rect x="579.00" y="671.80" width="16.30" height="6.00" fill="#000"/>
<rect x="579.00" y="758.70" width="16.30" height="6.00" fill="#000"/>
<rect x="579.00" y="845.70" width="16.30" height="6.00" fill="#000"/>
<rect x="579.00" y="935.30" width="247.70" height="6.00" fill="#000"/>
<path d="M620.80 935.50 L620.80 760.40 L661.80 760.40 L661.80 935.50" fill="#fff" stroke="#000" stroke-width="9.00" stroke-linejoin="miter"/>
<path d="M690.90 935.50 L690.90 725.00 L731.90 725.00 L731.90 935.50" fill="#6abd45" stroke="#000" stroke-width="9.00" stroke-linejoin="miter"/>
<path d="M760.40 935.50 L760.40 860.20 L801.40 860.20 L801.40 935.50" fill="#3f5aa9" stroke="#000" stroke-width="9.00" stroke-linejoin="miter"/>
<line x1="710.90" y1="680.80" x2="710.90" y2="722.50" stroke="#000" stroke-width="2.40" stroke-linecap="butt"/>
<line x1="697.80" y1="680.80" x2="724.30" y2="680.80" stroke="#000" stroke-width="2.40" stroke-linecap="butt"/>
<line x1="780.90" y1="814.70" x2="780.90" y2="857.70" stroke="#000" stroke-width="2.40" stroke-linecap="butt"/>
<line x1="768.50" y1="814.70" x2="793.80" y2="814.70" stroke="#000" stroke-width="2.40" stroke-linecap="butt"/>
<circle cx="641.00" cy="759.80" r="5.80" fill="#231f20" />
<circle cx="710.70" cy="689.60" r="4.60" fill="#000" />
<circle cx="710.70" cy="752.00" r="4.60" fill="#000" />
<circle cx="780.70" cy="784.90" r="4.20" fill="#000" />
<circle cx="780.70" cy="828.10" r="4.20" fill="#000" />
<circle cx="770.50" cy="846.30" r="4.20" fill="#000" />
<circle cx="791.30" cy="849.40" r="4.20" fill="#000" />
<circle cx="780.70" cy="874.90" r="4.20" fill="#000" />
<circle cx="780.70" cy="886.80" r="4.20" fill="#000" />
<circle cx="780.70" cy="897.40" r="4.20" fill="#000" />
<circle cx="780.70" cy="932.80" r="4.20" fill="#000" />
<path d="M718.40 658.80 L718.40 639.50 L780.80 639.50 L780.80 794.00" fill="none" stroke="#000" stroke-width="6.00" stroke-linecap="round" stroke-linejoin="miter"/>
<text x="694.47" y="621.40" font-size="24.80" fill="#000" stroke="#000" stroke-width="0.45" style="letter-spacing:-0.177px;">P = 0.0074</text>
<text x="499.21" y="598.50" font-size="30.00" fill="#000" stroke="#000" stroke-width="0.45" style="">4</text>
<text x="519.47" y="597.50" font-size="24.6" stroke="#000" stroke-width="0.7" style="font-weight:bold;">×</text>
<text x="535.41" y="598.50" font-size="30.00" fill="#000" stroke="#000" stroke-width="0.45" style="">10</text>
<text x="564.10" y="572.30" font-size="30.00" fill="#000" stroke="#000" stroke-width="0.45" style="">5</text>
<text x="499.56" y="685.40" font-size="30.00" fill="#000" stroke="#000" stroke-width="0.45" style="">3</text>
<text x="519.47" y="684.40" font-size="24.6" stroke="#000" stroke-width="0.7" style="font-weight:bold;">×</text>
<text x="535.41" y="685.40" font-size="30.00" fill="#000" stroke="#000" stroke-width="0.45" style="">10</text>
<text x="564.10" y="663.40" font-size="30.00" fill="#000" stroke="#000" stroke-width="0.45" style="">5</text>
<text x="499.19" y="772.70" font-size="30.00" fill="#000" stroke="#000" stroke-width="0.45" style="">2</text>
<text x="519.47" y="771.70" font-size="24.6" stroke="#000" stroke-width="0.7" style="font-weight:bold;">×</text>
<text x="535.41" y="772.70" font-size="30.00" fill="#000" stroke="#000" stroke-width="0.45" style="">10</text>
<text x="564.10" y="750.30" font-size="30.00" fill="#000" stroke="#000" stroke-width="0.45" style="">5</text>
<text x="500.61" y="859.30" font-size="30.00" fill="#000" stroke="#000" stroke-width="0.45" style="">1</text>
<text x="519.47" y="858.30" font-size="24.6" stroke="#000" stroke-width="0.7" style="font-weight:bold;">×</text>
<text x="535.41" y="859.30" font-size="30.00" fill="#000" stroke="#000" stroke-width="0.45" style="">10</text>
<text x="564.10" y="833.10" font-size="30.00" fill="#000" stroke="#000" stroke-width="0.45" style="">5</text>
<text x="556.83" y="945.10" font-size="30.00" fill="#000" stroke="#000" stroke-width="0.45" style="">0</text>
<text transform="translate(480.40,869.10) rotate(-90)" x="-2.54" y="0" font-size="31.00" fill="#000" stroke="#000" stroke-width="0.45" style="letter-spacing:-1.376px;">Number of deletions</text>
<text x="909.19" y="543.30" font-size="33.50" fill="#231f20" stroke="#231f20" stroke-width="0.45" style="font-weight:bold;">e</text>
<rect x="1059.20" y="595.40" width="6.00" height="341.60" fill="#000"/>
<rect x="1046.50" y="595.40" width="15.70" height="6.00" fill="#000"/>
<rect x="1046.50" y="707.20" width="15.70" height="6.00" fill="#000"/>
<rect x="1046.50" y="819.00" width="15.70" height="6.00" fill="#000"/>
<rect x="1046.50" y="931.00" width="238.50" height="6.00" fill="#000"/>
<path d="M1086.70 931.20 L1086.70 692.90 L1126.90 692.90 L1126.90 931.20" fill="#fff" stroke="#000" stroke-width="9.00" stroke-linejoin="miter"/>
<path d="M1154.60 931.20 L1154.60 677.90 L1194.40 677.90 L1194.40 931.20" fill="#6abd45" stroke="#000" stroke-width="9.00" stroke-linejoin="miter"/>
<path d="M1221.10 931.20 L1221.10 825.50 L1261.30 825.50 L1261.30 931.20" fill="#3f5aa9" stroke="#000" stroke-width="9.00" stroke-linejoin="miter"/>
<line x1="1174.10" y1="622.10" x2="1174.10" y2="675.40" stroke="#000" stroke-width="2.40" stroke-linecap="butt"/>
<line x1="1162.00" y1="622.10" x2="1186.30" y2="622.10" stroke="#000" stroke-width="2.40" stroke-linecap="butt"/>
<line x1="1241.20" y1="767.60" x2="1241.20" y2="823.00" stroke="#000" stroke-width="2.40" stroke-linecap="butt"/>
<line x1="1228.60" y1="767.60" x2="1253.00" y2="767.60" stroke="#000" stroke-width="2.40" stroke-linecap="butt"/>
<circle cx="1106.80" cy="688.80" r="5.50" fill="#231f20" />
<circle cx="1173.70" cy="633.20" r="4.60" fill="#000" />
<circle cx="1173.70" cy="708.60" r="4.60" fill="#000" />
<circle cx="1240.70" cy="729.40" r="4.20" fill="#000" />
<circle cx="1240.70" cy="779.90" r="4.20" fill="#000" />
<circle cx="1240.70" cy="797.90" r="4.20" fill="#000" />
<circle cx="1223.50" cy="804.30" r="4.20" fill="#000" />
<circle cx="1258.10" cy="802.20" r="4.20" fill="#000" />
<circle cx="1240.70" cy="838.90" r="4.20" fill="#000" />
<circle cx="1240.70" cy="853.00" r="4.20" fill="#000" />
<circle cx="1240.70" cy="927.40" r="4.20" fill="#000" />
<path d="M1180.20 601.20 L1180.20 582.90 L1241.00 582.90 L1241.00 746.10" fill="none" stroke="#000" stroke-width="6.00" stroke-linecap="round" stroke-linejoin="miter"/>
<text x="1153.47" y="572.10" font-size="24.80" fill="#000" stroke="#000" stroke-width="0.45" style="letter-spacing:-0.122px;">P = 0.0184</text>
<text x="970.76" y="602.80" font-size="30.00" fill="#000" stroke="#000" stroke-width="0.45" style="">3</text>
<text x="990.27" y="601.80" font-size="24.6" stroke="#000" stroke-width="0.7" style="font-weight:bold;">×</text>
<text x="1006.61" y="602.80" font-size="30.00" fill="#000" stroke="#000" stroke-width="0.45" style="">10</text>
<text x="1034.80" y="580.40" font-size="30.00" fill="#000" stroke="#000" stroke-width="0.45" style="">5</text>
<text x="966.09" y="714.60" font-size="30.00" fill="#000" stroke="#000" stroke-width="0.45" style="">2</text>
<text x="986.37" y="713.60" font-size="24.6" stroke="#000" stroke-width="0.7" style="font-weight:bold;">×</text>
<text x="1002.31" y="714.60" font-size="30.00" fill="#000" stroke="#000" stroke-width="0.45" style="">10</text>
<text x="1031.00" y="692.70" font-size="30.00" fill="#000" stroke="#000" stroke-width="0.45" style="">5</text>
<text x="968.21" y="830.80" font-size="30.00" fill="#000" stroke="#000" stroke-width="0.45" style="">1</text>
<text x="986.37" y="829.80" font-size="24.6" stroke="#000" stroke-width="0.7" style="font-weight:bold;">×</text>
<text x="1001.51" y="830.80" font-size="30.00" fill="#000" stroke="#000" stroke-width="0.45" style="">10</text>
<text x="1031.00" y="804.50" font-size="30.00" fill="#000" stroke="#000" stroke-width="0.45" style="">5</text>
<text x="1022.93" y="945.30" font-size="30.00" fill="#000" stroke="#000" stroke-width="0.45" style="">0</text>
<text transform="translate(946.40,871.50) rotate(-90)" x="-2.54" y="0" font-size="31.00" fill="#000" stroke="#000" stroke-width="0.45" style="letter-spacing:-1.329px;">Number of insertions</text>
<text x="0.73" y="981.70" font-size="33.50" fill="#231f20" stroke="#231f20" stroke-width="0.45" style="font-weight:bold;">f</text>
<rect x="188.20" y="1051.50" width="6.20" height="324.80" fill="#000"/>
<rect x="176.30" y="1051.50" width="15.00" height="6.00" fill="#000"/>
<rect x="176.30" y="1131.20" width="15.00" height="6.00" fill="#000"/>
<rect x="176.30" y="1210.90" width="15.00" height="6.00" fill="#000"/>
<rect x="176.30" y="1290.60" width="15.00" height="6.00" fill="#000"/>
<rect x="176.30" y="1370.30" width="228.00" height="6.00" fill="#000"/>
<path d="M215.00 1370.50 L215.00 1085.50 L253.30 1085.50 L253.30 1370.50" fill="#fff" stroke="#000" stroke-width="9.00" stroke-linejoin="miter"/>
<path d="M279.20 1370.50 L279.20 1252.80 L317.20 1252.80 L317.20 1370.50" fill="#6abd45" stroke="#000" stroke-width="9.00" stroke-linejoin="miter"/>
<path d="M343.10 1370.50 L343.10 1315.50 L381.40 1315.50 L381.40 1370.50" fill="#3f5aa9" stroke="#000" stroke-width="9.00" stroke-linejoin="miter"/>
<line x1="298.20" y1="1210.40" x2="298.20" y2="1250.30" stroke="#000" stroke-width="2.40" stroke-linecap="butt"/>
<line x1="286.00" y1="1210.40" x2="309.60" y2="1210.40" stroke="#000" stroke-width="2.40" stroke-linecap="butt"/>
<line x1="362.20" y1="1298.40" x2="362.20" y2="1313.00" stroke="#000" stroke-width="2.40" stroke-linecap="butt"/>
<line x1="350.00" y1="1298.40" x2="373.50" y2="1298.40" stroke="#000" stroke-width="2.40" stroke-linecap="butt"/>
<circle cx="298.20" cy="1231.40" r="4.60" fill="#000" />
<circle cx="298.20" cy="1291.30" r="4.60" fill="#000" />
<circle cx="364.40" cy="1298.40" r="4.20" fill="#000" />
<circle cx="367.70" cy="1311.50" r="4.20" fill="#000" />
<circle cx="353.30" cy="1330.40" r="4.20" fill="#000" />
<circle cx="367.70" cy="1330.40" r="4.20" fill="#000" />
<circle cx="349.30" cy="1336.80" r="4.20" fill="#000" />
<circle cx="362.60" cy="1336.80" r="4.20" fill="#000" />
<circle cx="374.80" cy="1339.30" r="4.20" fill="#000" />
<circle cx="382.90" cy="1333.50" r="4.20" fill="#000" />
<path d="M234.10 998.90 L234.10 982.00 L361.80 982.00 L361.80 998.90" fill="none" stroke="#000" stroke-width="6.00" stroke-linecap="round" stroke-linejoin="miter"/>
<path d="M234.10 1063.40 L234.10 1045.30 L291.50 1045.30 L291.50 1190.50" fill="none" stroke="#000" stroke-width="6.00" stroke-linecap="round" stroke-linejoin="miter"/>
<path d="M304.10 1177.10 L304.10 1099.00 L361.80 1099.00 L361.80 1225.60" fill="none" stroke="#000" stroke-width="6.00" stroke-linecap="round" stroke-linejoin="miter"/>
<text x="240.57" y="971.60" font-size="24.80" fill="#000" stroke="#000" stroke-width="0.45" style="letter-spacing:-0.268px;">P &lt; 0.0001</text>
<text x="205.17" y="1033.50" font-size="24.80" fill="#000" stroke="#000" stroke-width="0.45" style="letter-spacing:-0.268px;">P &lt; 0.0001</text>
<text x="303.77" y="1082.80" font-size="24.80" fill="#000" stroke="#000" stroke-width="0.45" style="letter-spacing:-0.322px;">P = 0.0044</text>
<text x="110.70" y="1063.30" font-size="30.00" fill="#000" stroke="#000" stroke-width="0.45" style="letter-spacing:-0.389px;">800</text>
<text x="110.48" y="1143.00" font-size="30.00" fill="#000" stroke="#000" stroke-width="0.45" style="letter-spacing:-0.279px;">600</text>
<text x="111.31" y="1222.70" font-size="30.00" fill="#000" stroke="#000" stroke-width="0.45" style="letter-spacing:-0.697px;">400</text>
<text x="110.49" y="1302.40" font-size="30.00" fill="#000" stroke="#000" stroke-width="0.45" style="letter-spacing:-0.287px;">200</text>
<text x="137.83" y="1382.10" font-size="30.00" fill="#000" stroke="#000" stroke-width="0.45" style="">0</text>
<text transform="translate(74.90,1350.20) rotate(-90)" x="-2.54" y="0" font-size="31.00" fill="#000" stroke="#000" stroke-width="0.45" style="letter-spacing:-1.305px;">Number of large deletions</text>
<text x="447.43" y="981.70" font-size="33.50" fill="#231f20" stroke="#231f20" stroke-width="0.45" style="font-weight:bold;">g</text>
<rect x="653.10" y="1094.20" width="6.20" height="275.40" fill="#000"/>
<rect x="642.90" y="1094.20" width="13.30" height="6.00" fill="#000"/>
<rect x="642.90" y="1184.00" width="13.30" height="6.00" fill="#000"/>
<rect x="642.90" y="1273.80" width="13.30" height="6.00" fill="#000"/>
<rect x="642.90" y="1363.60" width="192.60" height="6.00" fill="#000"/>
<path d="M676.20 1363.80 L676.20 1120.60 L707.90 1120.60 L707.90 1363.80" fill="#fff" stroke="#000" stroke-width="9.00" stroke-linejoin="miter"/>
<path d="M730.10 1363.80 L730.10 1202.30 L762.00 1202.30 L762.00 1363.80" fill="#6abd45" stroke="#000" stroke-width="9.00" stroke-linejoin="miter"/>
<path d="M783.90 1363.80 L783.90 1335.70 L816.30 1335.70 L816.30 1363.80" fill="#3f5aa9" stroke="#000" stroke-width="9.00" stroke-linejoin="miter"/>
<line x1="746.00" y1="1161.10" x2="746.00" y2="1199.80" stroke="#000" stroke-width="2.40" stroke-linecap="butt"/>
<line x1="736.20" y1="1161.10" x2="755.90" y2="1161.10" stroke="#000" stroke-width="2.40" stroke-linecap="butt"/>
<line x1="800.10" y1="1329.20" x2="800.10" y2="1333.20" stroke="#000" stroke-width="2.40" stroke-linecap="butt"/>
<line x1="790.00" y1="1329.20" x2="810.00" y2="1329.20" stroke="#000" stroke-width="2.40" stroke-linecap="butt"/>
<circle cx="691.30" cy="1116.50" r="4.00" fill="#231f20" />
<circle cx="745.80" cy="1172.50" r="4.40" fill="#000" />
<circle cx="744.50" cy="1233.70" r="4.40" fill="#000" />
<circle cx="793.30" cy="1350.70" r="4.20" fill="#000" />
<circle cx="803.90" cy="1351.40" r="4.20" fill="#000" />
<circle cx="800.10" cy="1345.60" r="4.20" fill="#000" />
<circle cx="800.10" cy="1329.20" r="4.20" fill="#000" />
<circle cx="796.00" cy="1340.00" r="4.20" fill="#000" />
<circle cx="805.00" cy="1343.00" r="4.20" fill="#000" />
<path d="M691.80 1047.70 L691.80 979.00 L799.80 979.00 L799.80 993.10" fill="none" stroke="#000" stroke-width="6.00" stroke-linecap="round" stroke-linejoin="miter"/>
<path d="M746.20 1047.70 L746.20 1032.80 L799.80 1032.80 L799.80 1313.00" fill="none" stroke="#000" stroke-width="6.00" stroke-linecap="round" stroke-linejoin="miter"/>
<path d="M691.80 1102.00 L691.80 1086.90 L746.20 1086.90 L746.20 1144.20" fill="none" stroke="#000" stroke-width="6.00" stroke-linecap="round" stroke-linejoin="miter"/>
<text x="686.87" y="971.60" font-size="24.80" fill="#000" stroke="#000" stroke-width="0.45" style="letter-spacing:-0.324px;">P &lt; 0.0001</text>
<text x="713.97" y="1025.40" font-size="24.80" fill="#000" stroke="#000" stroke-width="0.45" style="letter-spacing:-0.335px;">P &lt; 0.0001</text>
<text x="659.87" y="1079.50" font-size="24.80" fill="#000" stroke="#000" stroke-width="0.45" style="letter-spacing:-0.357px;">P = 0.0031</text>
<text x="582.21" y="1104.00" font-size="30.00" fill="#000" stroke="#000" stroke-width="0.45" style="letter-spacing:-1.048px;">150</text>
<text x="582.21" y="1194.00" font-size="30.00" fill="#000" stroke="#000" stroke-width="0.45" style="letter-spacing:-1.048px;">100</text>
<text x="599.30" y="1283.80" font-size="30.00" fill="#000" stroke="#000" stroke-width="0.45" style="letter-spacing:-2.496px;">50</text>
<text x="617.83" y="1375.40" font-size="30.00" fill="#000" stroke="#000" stroke-width="0.45" style="">0</text>
<text transform="translate(568.90,1375.20) rotate(-90)" x="-2.54" y="0" font-size="31.00" fill="#000" stroke="#000" stroke-width="0.45" style="letter-spacing:-1.338px;">Number of large duplications</text>
<text x="909.16" y="981.70" font-size="33.50" fill="#231f20" stroke="#231f20" stroke-width="0.45" style="font-weight:bold;">h</text>
<rect x="1083.90" y="1075.50" width="6.20" height="288.00" fill="#000"/>
<rect x="1073.70" y="1075.50" width="13.30" height="6.00" fill="#000"/>
<rect x="1073.70" y="1169.50" width="13.30" height="6.00" fill="#000"/>
<rect x="1073.70" y="1263.50" width="13.30" height="6.00" fill="#000"/>
<rect x="1073.70" y="1357.50" width="201.70" height="6.00" fill="#000"/>
<path d="M1108.50 1357.70 L1108.50 1127.70 L1141.50 1127.70 L1141.50 1357.70" fill="#fff" stroke="#000" stroke-width="9.00" stroke-linejoin="miter"/>
<path d="M1164.90 1357.70 L1164.90 1196.00 L1198.40 1196.00 L1198.40 1357.70" fill="#6abd45" stroke="#000" stroke-width="9.00" stroke-linejoin="miter"/>
<path d="M1221.80 1357.70 L1221.80 1340.00 L1255.00 1340.00 L1255.00 1357.70" fill="#3f5aa9" stroke="#000" stroke-width="9.00" stroke-linejoin="miter"/>
<line x1="1181.90" y1="1155.30" x2="1181.90" y2="1193.50" stroke="#000" stroke-width="2.40" stroke-linecap="butt"/>
<line x1="1171.30" y1="1155.30" x2="1192.00" y2="1155.30" stroke="#000" stroke-width="2.40" stroke-linecap="butt"/>
<line x1="1238.40" y1="1331.70" x2="1238.40" y2="1337.50" stroke="#000" stroke-width="2.40" stroke-linecap="butt"/>
<line x1="1227.40" y1="1331.70" x2="1248.90" y2="1331.70" stroke="#000" stroke-width="2.40" stroke-linecap="butt"/>
<circle cx="1124.80" cy="1122.10" r="4.00" fill="#231f20" />
<circle cx="1181.90" cy="1169.20" r="4.40" fill="#000" />
<circle cx="1181.90" cy="1223.60" r="4.40" fill="#000" />
<circle cx="1245.80" cy="1327.40" r="4.20" fill="#000" />
<circle cx="1253.90" cy="1332.50" r="4.20" fill="#000" />
<circle cx="1240.00" cy="1334.00" r="4.20" fill="#000" />
<circle cx="1238.70" cy="1344.30" r="4.20" fill="#000" />
<circle cx="1245.80" cy="1345.60" r="4.20" fill="#000" />
<circle cx="1249.00" cy="1338.00" r="4.20" fill="#000" />
<path d="M1125.20 1047.40 L1125.20 979.00 L1237.90 979.00 L1237.90 988.80" fill="none" stroke="#000" stroke-width="6.00" stroke-linecap="round" stroke-linejoin="miter"/>
<path d="M1182.00 1057.00 L1182.00 1019.40 L1237.90 1019.40 L1237.90 1297.10" fill="none" stroke="#000" stroke-width="6.00" stroke-linecap="round" stroke-linejoin="miter"/>
<path d="M1125.20 1107.60 L1125.20 1092.70 L1182.00 1092.70 L1182.00 1137.90" fill="none" stroke="#000" stroke-width="6.00" stroke-linecap="round" stroke-linejoin="miter"/>
<text x="1120.47" y="966.50" font-size="24.80" fill="#000" stroke="#000" stroke-width="0.45" style="letter-spacing:-0.268px;">P &lt; 0.0001</text>
<text x="1152.07" y="1012.50" font-size="24.80" fill="#000" stroke="#000" stroke-width="0.45" style="letter-spacing:-0.268px;">P &lt; 0.0001</text>
<text x="1092.17" y="1082.00" font-size="24.80" fill="#000" stroke="#000" stroke-width="0.45" style="letter-spacing:-0.301px;">P = 0.0091</text>
<text x="1013.96" y="1086.20" font-size="30.00" fill="#000" stroke="#000" stroke-width="0.45" style="letter-spacing:-0.520px;">300</text>
<text x="1013.59" y="1180.20" font-size="30.00" fill="#000" stroke="#000" stroke-width="0.45" style="letter-spacing:-0.337px;">200</text>
<text x="1012.81" y="1274.20" font-size="30.00" fill="#000" stroke="#000" stroke-width="0.45" style="letter-spacing:0.052px;">100</text>
<text x="1037.93" y="1369.30" font-size="30.00" fill="#000" stroke="#000" stroke-width="0.45" style="">0</text>
<text transform="translate(1001.20,1331.70) rotate(-90)" x="-2.54" y="0" font-size="31.00" fill="#000" stroke="#000" stroke-width="0.45" style="letter-spacing:-0.923px;">Number of inversions</text>
<rect x="1343.00" y="541.30" width="23.00" height="53.70" fill="#fff" stroke="#231f20" stroke-width="2.00"/>
<text transform="translate(1342.80,601.30) rotate(90)" x="-0.91" y="0" font-size="29.60" fill="#000" stroke="#000" stroke-width="0.45" style="font-style:italic;letter-spacing:-0.695px;">Mus musculus</text>
<rect x="1343.00" y="806.50" width="23.00" height="53.60" fill="#6abd45" stroke="#231f20" stroke-width="2.00"/>
<text transform="translate(1342.80,869.40) rotate(90)" x="-0.91" y="0" font-size="29.60" fill="#000" stroke="#000" stroke-width="0.45" style="font-style:italic;letter-spacing:-0.790px;">Homo sapiens</text>
<rect x="1343.00" y="1071.20" width="23.00" height="53.60" fill="#3f5aa9" stroke="#231f20" stroke-width="2.00"/>
<text transform="translate(1342.80,1133.50) rotate(90)" x="-0.91" y="0" font-size="29.60" fill="#000" stroke="#000" stroke-width="0.45" style="font-style:italic;letter-spacing:-1.085px;">Balaena mysticetus</text>
<text x="-1.34" y="1392.40" font-size="33.50" fill="#231f20" stroke="#231f20" stroke-width="0.45" style="font-weight:bold;">i</text>
<text x="44.40" y="1418.70" font-size="29.30" fill="#231f20" stroke="#231f20" stroke-width="0.45" style="letter-spacing:0.483px;">Max</text>
<text x="48.60" y="1661.70" font-size="29.30" fill="#231f20" stroke="#231f20" stroke-width="0.45" style="letter-spacing:0.947px;">Min</text>
<text transform="translate(94.50,1591.30) rotate(-90)" x="-2.40" y="0" font-size="29.30" fill="#231f20" stroke="#231f20" stroke-width="0.45" style="letter-spacing:-0.607px;">Density</text>
<line x1="115.50" y1="1406.40" x2="115.50" y2="1661.70" stroke="#231f20" stroke-width="1.90" stroke-linecap="butt"/>
<line x1="115.50" y1="1661.70" x2="383.80" y2="1904.60" stroke="#231f20" stroke-width="1.90" stroke-linecap="butt"/>
<rect x="171.50" y="1631.80" width="34.50" height="21.10" fill="#fff" stroke="#231f20" stroke-width="0.90"/>
<rect x="206.00" y="1637.00" width="37.00" height="15.90" fill="#fff" stroke="#231f20" stroke-width="0.90"/>
<rect x="243.00" y="1639.00" width="49.30" height="13.90" fill="#fff" stroke="#231f20" stroke-width="0.90"/>
<rect x="292.30" y="1641.30" width="26.40" height="11.60" fill="#fff" stroke="#231f20" stroke-width="0.90"/>
<rect x="318.70" y="1642.30" width="36.90" height="10.60" fill="#fff" stroke="#231f20" stroke-width="0.90"/>
<rect x="355.60" y="1640.60" width="37.00" height="12.30" fill="#fff" stroke="#231f20" stroke-width="0.90"/>
<rect x="392.60" y="1646.50" width="37.00" height="6.40" fill="#fff" stroke="#231f20" stroke-width="0.90"/>
<rect x="132.20" y="1417.10" width="38.10" height="234.60" fill="#fff" stroke="#000" stroke-width="2.70"/>
<line x1="131.00" y1="1661.70" x2="744.40" y2="1661.70" stroke="#000" stroke-width="2.60" stroke-linecap="butt"/>
<path d="M131.0 1614.2 C135.8 1613.5 150.7 1610.8 160.0 1609.8 C169.3 1608.8 177.4 1608.3 186.6 1608.2 C195.8 1608.1 205.6 1608.3 215.0 1609.0 C224.4 1609.7 230.1 1610.4 243.0 1612.4 C255.9 1614.4 274.1 1617.4 292.3 1621.2 C310.5 1625.0 330.4 1631.2 352.1 1635.3 C373.8 1639.4 399.0 1643.3 422.5 1645.8 C446.0 1648.3 469.5 1649.4 493.0 1650.4 C516.5 1651.4 538.9 1651.5 563.4 1651.8 C587.9 1652.1 612.1 1652.1 640.0 1652.2 C667.9 1652.3 715.8 1652.2 731.0 1652.2" fill="none" stroke="#ed1c24" stroke-width="7.70" stroke-linecap="round"/>
<line x1="230.60" y1="1511.00" x2="230.60" y2="1767.30" stroke="#231f20" stroke-width="1.90" stroke-linecap="butt"/>
<rect x="292.30" y="1727.50" width="49.20" height="43.30" fill="#6abd45" stroke="#000" stroke-width="2.00"/>
<rect x="341.50" y="1740.90" width="45.80" height="29.90" fill="#6abd45" stroke="#000" stroke-width="2.00"/>
<rect x="387.30" y="1758.50" width="52.80" height="12.30" fill="#6abd45" stroke="#000" stroke-width="2.00"/>
<rect x="440.10" y="1762.00" width="49.30" height="8.80" fill="#6abd45" stroke="#000" stroke-width="2.00"/>
<rect x="489.40" y="1761.30" width="51.10" height="9.50" fill="#6abd45" stroke="#000" stroke-width="2.00"/>
<rect x="241.70" y="1536.80" width="49.40" height="232.80" fill="#6abd45" stroke="#000" stroke-width="2.70"/>
<line x1="240.50" y1="1780.40" x2="846.50" y2="1780.40" stroke="#000" stroke-width="2.60" stroke-linecap="butt"/>
<path d="M240.5 1712.7 C246.2 1711.5 264.0 1707.1 275.0 1705.5 C286.0 1703.9 297.1 1703.2 306.3 1702.9 C315.5 1702.7 322.4 1703.2 330.0 1704.0 C337.6 1704.8 342.7 1704.9 352.1 1707.5 C361.5 1710.1 373.8 1714.5 386.6 1719.8 C399.4 1725.1 417.0 1734.2 428.9 1739.2 C440.8 1744.2 447.0 1746.2 457.7 1749.7 C468.4 1753.2 481.2 1757.5 493.0 1760.3 C504.8 1763.1 516.5 1765.1 528.2 1766.6 C539.9 1768.1 545.8 1768.7 563.4 1769.4 C581.0 1770.1 604.4 1770.5 633.8 1770.8 C663.2 1771.1 705.6 1771.1 740.0 1771.2 C774.4 1771.3 823.4 1771.2 840.1 1771.2" fill="none" stroke="#ed1c24" stroke-width="7.70" stroke-linecap="round"/>
<line x1="376.40" y1="1645.80" x2="376.40" y2="1897.60" stroke="#231f20" stroke-width="1.90" stroke-linecap="butt"/>
<rect x="468.30" y="1892.30" width="38.70" height="4.60" fill="#3f5aa9" stroke="#000" stroke-width="1.20"/>
<rect x="428.90" y="1887.30" width="39.40" height="9.00" fill="#3f5aa9" stroke="#000" stroke-width="2.00"/>
<rect x="387.80" y="1662.90" width="39.90" height="232.80" fill="#3f5aa9" stroke="#000" stroke-width="2.70"/>
<line x1="383.80" y1="1905.40" x2="981.70" y2="1905.40" stroke="#000" stroke-width="2.60" stroke-linecap="butt"/>
<path d="M385.6 1807.9 C386.8 1807.1 390.2 1804.3 393.0 1803.2 C395.8 1802.1 398.6 1801.2 402.6 1801.5 C406.6 1801.8 413.1 1802.7 417.1 1804.7 C421.1 1806.7 423.0 1809.3 426.8 1813.5 C430.6 1817.7 435.7 1824.3 439.7 1829.7 C443.7 1835.1 447.2 1840.4 451.0 1845.8 C454.8 1851.2 458.3 1856.6 462.3 1862.0 C466.3 1867.4 470.9 1873.7 475.2 1878.0 C479.5 1882.3 484.0 1885.3 488.0 1887.7 C492.0 1890.1 494.8 1891.4 499.4 1892.6 C504.0 1893.8 510.1 1894.5 515.5 1895.0 C520.9 1895.5 517.5 1895.6 531.6 1895.8 C545.7 1896.0 555.3 1896.3 600.0 1896.4 C644.7 1896.5 735.6 1896.5 800.0 1896.5 C864.4 1896.5 955.2 1896.5 986.3 1896.5" fill="none" stroke="#ed1c24" stroke-width="7.70" stroke-linecap="round"/>
<text x="376.60" y="1581.40" font-size="29.30" fill="#000" stroke="#000" stroke-width="0.45" style="font-style:italic;letter-spacing:-0.631px;">Mus musculus</text>
<text x="544.20" y="1715.20" font-size="29.30" fill="#000" stroke="#000" stroke-width="0.45" style="font-style:italic;letter-spacing:-0.571px;">Homo sapiens</text>
<text x="665.60" y="1842.00" font-size="29.30" fill="#000" stroke="#000" stroke-width="0.45" style="font-style:italic;letter-spacing:-0.603px;">Balaena mysticetus</text>
<text x="366.51" y="1950.40" font-size="29.30" fill="#231f20" stroke="#231f20" stroke-width="0.45" style="letter-spacing:0.415px;">6 Kb</text>
<text x="634.57" y="1950.40" font-size="29.30" fill="#231f20" stroke="#231f20" stroke-width="0.45" style="letter-spacing:-0.266px;">SV size</text>
<text x="923.13" y="1950.40" font-size="29.30" fill="#231f20" stroke="#231f20" stroke-width="0.45" style="letter-spacing:0.375px;">230 Mb</text>
<text x="1095.02" y="1459.00" font-size="33.50" fill="#231f20" stroke="#231f20" stroke-width="0.45" style="font-weight:bold;">j</text>
<rect x="1236.80" y="1480.60" width="46.40" height="155.30" fill="#ed1c24" stroke="#231f20" stroke-width="1.20"/>
<rect x="1236.80" y="1638.30" width="46.40" height="9.70" fill="#f7a145" stroke="#231f20" stroke-width="1.20"/>
<rect x="1236.80" y="1650.40" width="46.40" height="221.10" fill="#fbdde0" stroke="#231f20" stroke-width="1.20"/>
<rect x="1315.60" y="1480.60" width="46.70" height="214.70" fill="#ed1c24" stroke="#231f20" stroke-width="1.20"/>
<rect x="1315.60" y="1698.00" width="46.70" height="19.10" fill="#f7a145" stroke="#231f20" stroke-width="1.20"/>
<rect x="1315.60" y="1719.90" width="46.70" height="151.60" fill="#fbdde0" stroke="#231f20" stroke-width="1.20"/>
<rect x="1394.40" y="1480.60" width="46.40" height="12.20" fill="#ed1c24" stroke="#231f20" stroke-width="1.20"/>
<rect x="1394.40" y="1495.80" width="46.40" height="64.30" fill="#f7a145" stroke="#231f20" stroke-width="1.20"/>
<rect x="1394.40" y="1563.10" width="46.40" height="308.40" fill="#fbdde0" stroke="#231f20" stroke-width="1.20"/>
<rect x="1204.90" y="1474.90" width="6.60" height="399.90" fill="#000"/>
<rect x="1189.80" y="1474.90" width="18.40" height="6.60" fill="#000"/>
<rect x="1189.80" y="1672.30" width="18.40" height="6.60" fill="#000"/>
<rect x="1189.80" y="1868.20" width="279.80" height="6.60" fill="#000"/>
<rect x="1256.50" y="1874.50" width="6.60" height="14.50" fill="#000"/>
<text transform="translate(1263.30,1917.50) rotate(-45)" x="0" y="0" text-anchor="end" font-size="29.30" fill="#000" stroke="#000" stroke-width="0.45" style="letter-spacing:-0.900px;">Mouse</text>
<rect x="1335.00" y="1874.50" width="6.60" height="14.50" fill="#000"/>
<text transform="translate(1341.80,1917.50) rotate(-45)" x="0" y="0" text-anchor="end" font-size="29.30" fill="#000" stroke="#000" stroke-width="0.45" style="letter-spacing:-0.900px;">Human</text>
<rect x="1413.90" y="1874.50" width="6.60" height="14.50" fill="#000"/>
<text transform="translate(1420.70,1917.50) rotate(-45)" x="0" y="0" text-anchor="end" font-size="29.30" fill="#000" stroke="#000" stroke-width="0.45" style="letter-spacing:-0.900px;">Whale</text>
<text x="1131.27" y="1487.70" font-size="29.30" fill="#000" stroke="#000" stroke-width="0.45" style="letter-spacing:0.495px;">100</text>
<text x="1148.03" y="1685.10" font-size="29.30" fill="#000" stroke="#000" stroke-width="0.45" style="letter-spacing:0.527px;">50</text>
<text x="1164.86" y="1881.00" font-size="29.30" fill="#000" stroke="#000" stroke-width="0.45" style="">0</text>
<text x="1274.74" y="1460.00" font-size="28.80" fill="#000" stroke="#000" stroke-width="0.45" style="letter-spacing:-0.228px;">P &lt; 0.0001</text>
<text transform="translate(1128.00,1714.70) rotate(-90)" x="-1.33" y="0" font-size="29.30" fill="#000" stroke="#000" stroke-width="0.45" style="letter-spacing:-0.299px;">SVs, %</text>
<rect x="1651.20" y="1488.70" width="45.60" height="54.10" fill="#ed1c24" stroke="#231f20" stroke-width="1.20"/>
<rect x="1651.20" y="1545.20" width="45.60" height="1.40" fill="#f7a145" stroke="#231f20" stroke-width="1.20"/>
<rect x="1651.20" y="1551.20" width="45.60" height="315.80" fill="#fbdde0" stroke="#231f20" stroke-width="1.20"/>
<rect x="1727.70" y="1488.70" width="45.70" height="101.60" fill="#ed1c24" stroke="#231f20" stroke-width="1.20"/>
<rect x="1727.70" y="1594.00" width="45.70" height="15.00" fill="#f7a145" stroke="#231f20" stroke-width="1.20"/>
<rect x="1727.70" y="1612.10" width="45.70" height="254.90" fill="#fbdde0" stroke="#231f20" stroke-width="1.20"/>
<rect x="1803.60" y="1488.20" width="45.70" height="1.00" fill="#ed1c24" stroke="#231f20" stroke-width="1.20"/>
<rect x="1803.60" y="1494.40" width="45.70" height="32.40" fill="#f7a145" stroke="#231f20" stroke-width="1.20"/>
<rect x="1803.60" y="1529.30" width="45.70" height="337.70" fill="#fbdde0" stroke="#231f20" stroke-width="1.20"/>
<rect x="1620.10" y="1482.90" width="6.60" height="387.40" fill="#000"/>
<rect x="1607.20" y="1482.90" width="16.20" height="6.60" fill="#000"/>
<rect x="1607.20" y="1673.50" width="16.20" height="6.60" fill="#000"/>
<rect x="1607.20" y="1863.70" width="269.20" height="6.60" fill="#000"/>
<rect x="1670.70" y="1870.00" width="6.60" height="14.50" fill="#000"/>
<text transform="translate(1677.50,1913.00) rotate(-45)" x="0" y="0" text-anchor="end" font-size="29.30" fill="#000" stroke="#000" stroke-width="0.45" style="letter-spacing:-0.900px;">Mouse</text>
<rect x="1746.60" y="1870.00" width="6.60" height="14.50" fill="#000"/>
<text transform="translate(1753.40,1913.00) rotate(-45)" x="0" y="0" text-anchor="end" font-size="29.30" fill="#000" stroke="#000" stroke-width="0.45" style="letter-spacing:-0.900px;">Human</text>
<rect x="1822.50" y="1870.00" width="6.60" height="14.50" fill="#000"/>
<text transform="translate(1829.30,1913.00) rotate(-45)" x="0" y="0" text-anchor="end" font-size="29.30" fill="#000" stroke="#000" stroke-width="0.45" style="letter-spacing:-0.900px;">Whale</text>
<text x="1546.57" y="1495.70" font-size="29.30" fill="#000" stroke="#000" stroke-width="0.45" style="letter-spacing:0.495px;">100</text>
<text x="1563.33" y="1686.30" font-size="29.30" fill="#000" stroke="#000" stroke-width="0.45" style="letter-spacing:0.527px;">50</text>
<text x="1580.16" y="1876.50" font-size="29.30" fill="#000" stroke="#000" stroke-width="0.45" style="">0</text>
<text x="1687.24" y="1463.70" font-size="28.80" fill="#000" stroke="#000" stroke-width="0.45" style="letter-spacing:-0.294px;">P &lt; 0.0001</text>
<text transform="translate(1543.50,1783.90) rotate(-90)" x="-2.40" y="0" font-size="29.30" fill="#000" stroke="#000" stroke-width="0.45" style="letter-spacing:-0.462px;">Large deletions, %</text>
<rect x="1889.00" y="1487.20" width="40.50" height="21.50" fill="#fbdde0" stroke="#231f20" stroke-width="2.00"/>
<text x="1950.51" y="1508.20" font-size="29.30" fill="#000" stroke="#000" stroke-width="0.45" style="letter-spacing:0.066px;">6-50 Kb</text>
<rect x="1889.00" y="1540.60" width="40.50" height="21.20" fill="#f7a145" stroke="#231f20" stroke-width="2.00"/>
<text x="1950.83" y="1561.30" font-size="29.30" fill="#000" stroke="#000" stroke-width="0.45" style="letter-spacing:-0.151px;">50-500 Kb</text>
<rect x="1889.00" y="1593.80" width="40.50" height="21.40" fill="#ed1c24" stroke="#231f20" stroke-width="2.00"/>
<text x="1950.56" y="1614.70" font-size="29.30" fill="#000" stroke="#000" stroke-width="0.45" style="letter-spacing:-0.017px;">&gt;500 Kb</text>
<rect x="2117.00" y="1738.00" width="4.00" height="4.00" fill="#e6e7e8"/>
</svg>
</body></html>
